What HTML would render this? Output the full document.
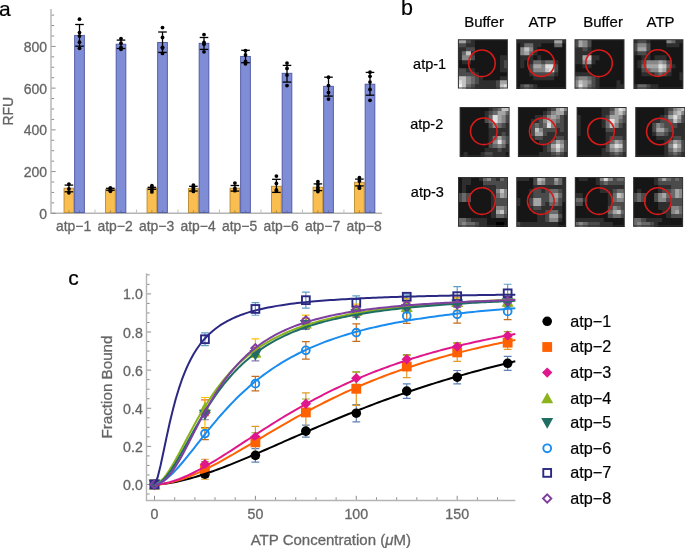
<!DOCTYPE html><html><head><meta charset="utf-8"><style>html,body{margin:0;padding:0;background:#fff;}svg{display:block;will-change:transform;}text{font-family:"Liberation Sans",sans-serif;}.g{fill:#666;stroke:#666;stroke-width:0.3px;}.k{fill:#000;stroke:#000;stroke-width:0.2px;}</style></head><body>
<svg width="685" height="548" viewBox="0 0 685 548">
<rect width="685" height="548" fill="#fff"/>
<text x="-1" y="16.3" font-size="21" class="k">a</text>
<line x1="51" y1="9" x2="51" y2="213.3" stroke="#b4b4b4" stroke-width="1.4"/>
<line x1="50.3" y1="213.3" x2="382" y2="213.3" stroke="#b4b4b4" stroke-width="1.4"/>
<line x1="51.6" y1="213.3" x2="55.6" y2="213.3" stroke="#8c8c8c" stroke-width="1"/>
<text x="47" y="218.7" font-size="14" class="g" text-anchor="end">0</text>
<line x1="51.6" y1="202.87" x2="54.1" y2="202.87" stroke="#8c8c8c" stroke-width="1"/>
<line x1="51.6" y1="192.44" x2="54.1" y2="192.44" stroke="#8c8c8c" stroke-width="1"/>
<line x1="51.6" y1="182.01" x2="54.1" y2="182.01" stroke="#8c8c8c" stroke-width="1"/>
<line x1="51.6" y1="171.58" x2="55.6" y2="171.58" stroke="#8c8c8c" stroke-width="1"/>
<text x="47" y="176.98" font-size="14" class="g" text-anchor="end">200</text>
<line x1="51.6" y1="161.15" x2="54.1" y2="161.15" stroke="#8c8c8c" stroke-width="1"/>
<line x1="51.6" y1="150.72" x2="54.1" y2="150.72" stroke="#8c8c8c" stroke-width="1"/>
<line x1="51.6" y1="140.29" x2="54.1" y2="140.29" stroke="#8c8c8c" stroke-width="1"/>
<line x1="51.6" y1="129.86" x2="55.6" y2="129.86" stroke="#8c8c8c" stroke-width="1"/>
<text x="47" y="135.26" font-size="14" class="g" text-anchor="end">400</text>
<line x1="51.6" y1="119.43" x2="54.1" y2="119.43" stroke="#8c8c8c" stroke-width="1"/>
<line x1="51.6" y1="109" x2="54.1" y2="109" stroke="#8c8c8c" stroke-width="1"/>
<line x1="51.6" y1="98.57" x2="54.1" y2="98.57" stroke="#8c8c8c" stroke-width="1"/>
<line x1="51.6" y1="88.14" x2="55.6" y2="88.14" stroke="#8c8c8c" stroke-width="1"/>
<text x="47" y="93.54" font-size="14" class="g" text-anchor="end">600</text>
<line x1="51.6" y1="77.71" x2="54.1" y2="77.71" stroke="#8c8c8c" stroke-width="1"/>
<line x1="51.6" y1="67.28" x2="54.1" y2="67.28" stroke="#8c8c8c" stroke-width="1"/>
<line x1="51.6" y1="56.85" x2="54.1" y2="56.85" stroke="#8c8c8c" stroke-width="1"/>
<line x1="51.6" y1="46.42" x2="55.6" y2="46.42" stroke="#8c8c8c" stroke-width="1"/>
<text x="47" y="51.82" font-size="14" class="g" text-anchor="end">800</text>
<line x1="51.6" y1="35.99" x2="54.1" y2="35.99" stroke="#8c8c8c" stroke-width="1"/>
<line x1="51.6" y1="25.56" x2="54.1" y2="25.56" stroke="#8c8c8c" stroke-width="1"/>
<line x1="51.6" y1="15.13" x2="54.1" y2="15.13" stroke="#8c8c8c" stroke-width="1"/>
<text transform="translate(12.6,111.2) rotate(-90)" font-size="14" class="g" text-anchor="middle">RFU</text>
<line x1="94.95" y1="212.60000000000002" x2="94.95" y2="209.60000000000002" stroke="#bdbdbd" stroke-width="1"/>
<line x1="136.45" y1="212.60000000000002" x2="136.45" y2="209.60000000000002" stroke="#bdbdbd" stroke-width="1"/>
<line x1="177.95" y1="212.60000000000002" x2="177.95" y2="209.60000000000002" stroke="#bdbdbd" stroke-width="1"/>
<line x1="219.45" y1="212.60000000000002" x2="219.45" y2="209.60000000000002" stroke="#bdbdbd" stroke-width="1"/>
<line x1="260.95" y1="212.60000000000002" x2="260.95" y2="209.60000000000002" stroke="#bdbdbd" stroke-width="1"/>
<line x1="302.45" y1="212.60000000000002" x2="302.45" y2="209.60000000000002" stroke="#bdbdbd" stroke-width="1"/>
<line x1="343.95" y1="212.60000000000002" x2="343.95" y2="209.60000000000002" stroke="#bdbdbd" stroke-width="1"/>
<rect x="64.05" y="188.2" width="9.7" height="24.4" fill="#FABD50" stroke="#B88A30" stroke-width="0.9"/>
<rect x="74.65" y="35.4" width="9.7" height="177.2" fill="#7F8CD6" stroke="#4A55A0" stroke-width="0.9"/>
<line x1="68.9" y1="185.1" x2="68.9" y2="191.8" stroke="#000" stroke-width="1.3"/>
<line x1="64.6" y1="185.1" x2="73.2" y2="185.1" stroke="#000" stroke-width="1.3"/>
<line x1="64.6" y1="191.8" x2="73.2" y2="191.8" stroke="#000" stroke-width="1.3"/>
<circle cx="68.9" cy="184.1" r="1.9" fill="#000"/>
<circle cx="68.9" cy="188.9" r="1.9" fill="#000"/>
<circle cx="68.9" cy="192.8" r="1.9" fill="#000"/>
<line x1="79.5" y1="24.5" x2="79.5" y2="46.2" stroke="#000" stroke-width="1.3"/>
<line x1="75.2" y1="24.5" x2="83.8" y2="24.5" stroke="#000" stroke-width="1.3"/>
<line x1="75.2" y1="46.2" x2="83.8" y2="46.2" stroke="#000" stroke-width="1.3"/>
<circle cx="79.5" cy="19.2" r="1.9" fill="#000"/>
<circle cx="79.5" cy="32.6" r="1.9" fill="#000"/>
<circle cx="79.5" cy="36.1" r="1.9" fill="#000"/>
<circle cx="79.5" cy="42.2" r="1.9" fill="#000"/>
<circle cx="79.5" cy="48.3" r="1.9" fill="#000"/>
<line x1="68.9" y1="212.60000000000002" x2="68.9" y2="210.3" stroke="#555" stroke-opacity="0.45" stroke-width="1"/>
<line x1="79.5" y1="212.60000000000002" x2="79.5" y2="210.3" stroke="#555" stroke-opacity="0.45" stroke-width="1"/>
<text x="73.6" y="231.4" font-size="13.9" class="g" text-anchor="middle">atp−1</text>
<rect x="105.55" y="189.1" width="9.7" height="23.5" fill="#FABD50" stroke="#B88A30" stroke-width="0.9"/>
<rect x="116.15" y="44.2" width="9.7" height="168.4" fill="#7F8CD6" stroke="#4A55A0" stroke-width="0.9"/>
<line x1="110.4" y1="188.3" x2="110.4" y2="190.3" stroke="#000" stroke-width="1.3"/>
<line x1="106.1" y1="188.3" x2="114.7" y2="188.3" stroke="#000" stroke-width="1.3"/>
<line x1="106.1" y1="190.3" x2="114.7" y2="190.3" stroke="#000" stroke-width="1.3"/>
<circle cx="110.4" cy="187.8" r="1.9" fill="#000"/>
<circle cx="110.4" cy="189" r="1.9" fill="#000"/>
<circle cx="110.4" cy="190" r="1.9" fill="#000"/>
<circle cx="110.4" cy="191.3" r="1.9" fill="#000"/>
<line x1="121" y1="40.1" x2="121" y2="48.5" stroke="#000" stroke-width="1.3"/>
<line x1="116.7" y1="40.1" x2="125.3" y2="40.1" stroke="#000" stroke-width="1.3"/>
<line x1="116.7" y1="48.5" x2="125.3" y2="48.5" stroke="#000" stroke-width="1.3"/>
<circle cx="121" cy="38.6" r="1.9" fill="#000"/>
<circle cx="121" cy="43.2" r="1.9" fill="#000"/>
<circle cx="121" cy="47.3" r="1.9" fill="#000"/>
<circle cx="121" cy="49.3" r="1.9" fill="#000"/>
<line x1="110.4" y1="212.60000000000002" x2="110.4" y2="210.3" stroke="#555" stroke-opacity="0.45" stroke-width="1"/>
<line x1="121" y1="212.60000000000002" x2="121" y2="210.3" stroke="#555" stroke-opacity="0.45" stroke-width="1"/>
<text x="115.1" y="231.4" font-size="13.9" class="g" text-anchor="middle">atp−2</text>
<rect x="147.05" y="188.3" width="9.7" height="24.3" fill="#FABD50" stroke="#B88A30" stroke-width="0.9"/>
<rect x="157.65" y="42.5" width="9.7" height="170.1" fill="#7F8CD6" stroke="#4A55A0" stroke-width="0.9"/>
<line x1="151.9" y1="187.3" x2="151.9" y2="189.3" stroke="#000" stroke-width="1.3"/>
<line x1="147.6" y1="187.3" x2="156.2" y2="187.3" stroke="#000" stroke-width="1.3"/>
<line x1="147.6" y1="189.3" x2="156.2" y2="189.3" stroke="#000" stroke-width="1.3"/>
<circle cx="151.9" cy="185.7" r="1.9" fill="#000"/>
<circle cx="151.9" cy="187.5" r="1.9" fill="#000"/>
<circle cx="151.9" cy="189.5" r="1.9" fill="#000"/>
<circle cx="151.9" cy="191.9" r="1.9" fill="#000"/>
<line x1="162.5" y1="32" x2="162.5" y2="52.4" stroke="#000" stroke-width="1.3"/>
<line x1="158.2" y1="32" x2="166.8" y2="32" stroke="#000" stroke-width="1.3"/>
<line x1="158.2" y1="52.4" x2="166.8" y2="52.4" stroke="#000" stroke-width="1.3"/>
<circle cx="162.5" cy="27.6" r="1.9" fill="#000"/>
<circle cx="162.5" cy="37.4" r="1.9" fill="#000"/>
<circle cx="162.5" cy="47.3" r="1.9" fill="#000"/>
<circle cx="162.5" cy="48" r="1.9" fill="#000"/>
<circle cx="162.5" cy="53.4" r="1.9" fill="#000"/>
<line x1="151.9" y1="212.60000000000002" x2="151.9" y2="210.3" stroke="#555" stroke-opacity="0.45" stroke-width="1"/>
<line x1="162.5" y1="212.60000000000002" x2="162.5" y2="210.3" stroke="#555" stroke-opacity="0.45" stroke-width="1"/>
<text x="156.6" y="231.4" font-size="13.9" class="g" text-anchor="middle">atp−3</text>
<rect x="188.55" y="188.5" width="9.7" height="24.1" fill="#FABD50" stroke="#B88A30" stroke-width="0.9"/>
<rect x="199.15" y="43.3" width="9.7" height="169.3" fill="#7F8CD6" stroke="#4A55A0" stroke-width="0.9"/>
<line x1="193.4" y1="186.3" x2="193.4" y2="191" stroke="#000" stroke-width="1.3"/>
<line x1="189.1" y1="186.3" x2="197.7" y2="186.3" stroke="#000" stroke-width="1.3"/>
<line x1="189.1" y1="191" x2="197.7" y2="191" stroke="#000" stroke-width="1.3"/>
<circle cx="193.4" cy="185.1" r="1.9" fill="#000"/>
<circle cx="193.4" cy="187.5" r="1.9" fill="#000"/>
<circle cx="193.4" cy="189.5" r="1.9" fill="#000"/>
<circle cx="193.4" cy="191.4" r="1.9" fill="#000"/>
<line x1="204" y1="37.5" x2="204" y2="49.4" stroke="#000" stroke-width="1.3"/>
<line x1="199.7" y1="37.5" x2="208.3" y2="37.5" stroke="#000" stroke-width="1.3"/>
<line x1="199.7" y1="49.4" x2="208.3" y2="49.4" stroke="#000" stroke-width="1.3"/>
<circle cx="204" cy="34.6" r="1.9" fill="#000"/>
<circle cx="204" cy="42.5" r="1.9" fill="#000"/>
<circle cx="204" cy="44.3" r="1.9" fill="#000"/>
<circle cx="204" cy="51.8" r="1.9" fill="#000"/>
<line x1="193.4" y1="212.60000000000002" x2="193.4" y2="210.3" stroke="#555" stroke-opacity="0.45" stroke-width="1"/>
<line x1="204" y1="212.60000000000002" x2="204" y2="210.3" stroke="#555" stroke-opacity="0.45" stroke-width="1"/>
<text x="198.1" y="231.4" font-size="13.9" class="g" text-anchor="middle">atp−4</text>
<rect x="230.05" y="188.2" width="9.7" height="24.4" fill="#FABD50" stroke="#B88A30" stroke-width="0.9"/>
<rect x="240.65" y="56.4" width="9.7" height="156.2" fill="#7F8CD6" stroke="#4A55A0" stroke-width="0.9"/>
<line x1="234.9" y1="185.5" x2="234.9" y2="191.1" stroke="#000" stroke-width="1.3"/>
<line x1="230.6" y1="185.5" x2="239.2" y2="185.5" stroke="#000" stroke-width="1.3"/>
<line x1="230.6" y1="191.1" x2="239.2" y2="191.1" stroke="#000" stroke-width="1.3"/>
<circle cx="234.9" cy="183.1" r="1.9" fill="#000"/>
<circle cx="234.9" cy="188.5" r="1.9" fill="#000"/>
<circle cx="234.9" cy="190.7" r="1.9" fill="#000"/>
<line x1="245.5" y1="50.3" x2="245.5" y2="62.7" stroke="#000" stroke-width="1.3"/>
<line x1="241.2" y1="50.3" x2="249.8" y2="50.3" stroke="#000" stroke-width="1.3"/>
<line x1="241.2" y1="62.7" x2="249.8" y2="62.7" stroke="#000" stroke-width="1.3"/>
<circle cx="245.5" cy="50.7" r="1.9" fill="#000"/>
<circle cx="245.5" cy="55" r="1.9" fill="#000"/>
<circle cx="245.5" cy="61.4" r="1.9" fill="#000"/>
<circle cx="245.5" cy="63.8" r="1.9" fill="#000"/>
<line x1="234.9" y1="212.60000000000002" x2="234.9" y2="210.3" stroke="#555" stroke-opacity="0.45" stroke-width="1"/>
<line x1="245.5" y1="212.60000000000002" x2="245.5" y2="210.3" stroke="#555" stroke-opacity="0.45" stroke-width="1"/>
<text x="239.6" y="231.4" font-size="13.9" class="g" text-anchor="middle">atp−5</text>
<rect x="271.55" y="186.3" width="9.7" height="26.3" fill="#FABD50" stroke="#B88A30" stroke-width="0.9"/>
<rect x="282.15" y="73.3" width="9.7" height="139.3" fill="#7F8CD6" stroke="#4A55A0" stroke-width="0.9"/>
<line x1="276.4" y1="179.3" x2="276.4" y2="192.4" stroke="#000" stroke-width="1.3"/>
<line x1="272.1" y1="179.3" x2="280.7" y2="179.3" stroke="#000" stroke-width="1.3"/>
<line x1="272.1" y1="192.4" x2="280.7" y2="192.4" stroke="#000" stroke-width="1.3"/>
<circle cx="276.4" cy="176.1" r="1.9" fill="#000"/>
<circle cx="276.4" cy="183.4" r="1.9" fill="#000"/>
<circle cx="276.4" cy="189.9" r="1.9" fill="#000"/>
<circle cx="276.4" cy="191" r="1.9" fill="#000"/>
<line x1="287" y1="65.4" x2="287" y2="82.1" stroke="#000" stroke-width="1.3"/>
<line x1="282.7" y1="65.4" x2="291.3" y2="65.4" stroke="#000" stroke-width="1.3"/>
<line x1="282.7" y1="82.1" x2="291.3" y2="82.1" stroke="#000" stroke-width="1.3"/>
<circle cx="287" cy="63.1" r="1.9" fill="#000"/>
<circle cx="287" cy="68.4" r="1.9" fill="#000"/>
<circle cx="287" cy="75.1" r="1.9" fill="#000"/>
<circle cx="287" cy="85.6" r="1.9" fill="#000"/>
<line x1="276.4" y1="212.60000000000002" x2="276.4" y2="210.3" stroke="#555" stroke-opacity="0.45" stroke-width="1"/>
<line x1="287" y1="212.60000000000002" x2="287" y2="210.3" stroke="#555" stroke-opacity="0.45" stroke-width="1"/>
<text x="281.1" y="231.4" font-size="13.9" class="g" text-anchor="middle">atp−6</text>
<rect x="313.05" y="187.2" width="9.7" height="25.4" fill="#FABD50" stroke="#B88A30" stroke-width="0.9"/>
<rect x="323.65" y="86.3" width="9.7" height="126.3" fill="#7F8CD6" stroke="#4A55A0" stroke-width="0.9"/>
<line x1="317.9" y1="183.9" x2="317.9" y2="190.6" stroke="#000" stroke-width="1.3"/>
<line x1="313.6" y1="183.9" x2="322.2" y2="183.9" stroke="#000" stroke-width="1.3"/>
<line x1="313.6" y1="190.6" x2="322.2" y2="190.6" stroke="#000" stroke-width="1.3"/>
<circle cx="317.9" cy="181.7" r="1.9" fill="#000"/>
<circle cx="317.9" cy="184.5" r="1.9" fill="#000"/>
<circle cx="317.9" cy="187.5" r="1.9" fill="#000"/>
<circle cx="317.9" cy="189.5" r="1.9" fill="#000"/>
<circle cx="317.9" cy="191.5" r="1.9" fill="#000"/>
<line x1="328.5" y1="77.2" x2="328.5" y2="96.1" stroke="#000" stroke-width="1.3"/>
<line x1="324.2" y1="77.2" x2="332.8" y2="77.2" stroke="#000" stroke-width="1.3"/>
<line x1="324.2" y1="96.1" x2="332.8" y2="96.1" stroke="#000" stroke-width="1.3"/>
<circle cx="328.5" cy="77.2" r="1.9" fill="#000"/>
<circle cx="328.5" cy="85.6" r="1.9" fill="#000"/>
<circle cx="328.5" cy="92.6" r="1.9" fill="#000"/>
<circle cx="328.5" cy="99.1" r="1.9" fill="#000"/>
<line x1="317.9" y1="212.60000000000002" x2="317.9" y2="210.3" stroke="#555" stroke-opacity="0.45" stroke-width="1"/>
<line x1="328.5" y1="212.60000000000002" x2="328.5" y2="210.3" stroke="#555" stroke-opacity="0.45" stroke-width="1"/>
<text x="322.6" y="231.4" font-size="13.9" class="g" text-anchor="middle">atp−7</text>
<rect x="354.55" y="182.3" width="9.7" height="30.3" fill="#FABD50" stroke="#B88A30" stroke-width="0.9"/>
<rect x="365.15" y="84.2" width="9.7" height="128.4" fill="#7F8CD6" stroke="#4A55A0" stroke-width="0.9"/>
<line x1="359.4" y1="179.1" x2="359.4" y2="185.9" stroke="#000" stroke-width="1.3"/>
<line x1="355.1" y1="179.1" x2="363.7" y2="179.1" stroke="#000" stroke-width="1.3"/>
<line x1="355.1" y1="185.9" x2="363.7" y2="185.9" stroke="#000" stroke-width="1.3"/>
<circle cx="359.4" cy="177.7" r="1.9" fill="#000"/>
<circle cx="359.4" cy="181" r="1.9" fill="#000"/>
<circle cx="359.4" cy="186.9" r="1.9" fill="#000"/>
<circle cx="359.4" cy="188.2" r="1.9" fill="#000"/>
<line x1="370" y1="72.4" x2="370" y2="95.2" stroke="#000" stroke-width="1.3"/>
<line x1="365.7" y1="72.4" x2="374.3" y2="72.4" stroke="#000" stroke-width="1.3"/>
<line x1="365.7" y1="95.2" x2="374.3" y2="95.2" stroke="#000" stroke-width="1.3"/>
<circle cx="370" cy="72.2" r="1.9" fill="#000"/>
<circle cx="370" cy="76.3" r="1.9" fill="#000"/>
<circle cx="370" cy="82.1" r="1.9" fill="#000"/>
<circle cx="370" cy="89.4" r="1.9" fill="#000"/>
<circle cx="370" cy="100.3" r="1.9" fill="#000"/>
<line x1="359.4" y1="212.60000000000002" x2="359.4" y2="210.3" stroke="#555" stroke-opacity="0.45" stroke-width="1"/>
<line x1="370" y1="212.60000000000002" x2="370" y2="210.3" stroke="#555" stroke-opacity="0.45" stroke-width="1"/>
<text x="364.1" y="231.4" font-size="13.9" class="g" text-anchor="middle">atp−8</text>
<text x="401" y="15.2" font-size="21.5" class="k">b</text>
<text x="484" y="26.6" font-size="15" class="k" text-anchor="middle">Buffer</text>
<text x="542.5" y="26.6" font-size="15" class="k" text-anchor="middle">ATP</text>
<text x="603" y="26.6" font-size="15" class="k" text-anchor="middle">Buffer</text>
<text x="660.6" y="26.6" font-size="15" class="k" text-anchor="middle">ATP</text>
<text x="429.6" y="69.3" font-size="14.5" class="k" text-anchor="middle">atp-1</text>
<text x="426.7" y="129.1" font-size="14.5" class="k" text-anchor="middle">atp-2</text>
<text x="427.4" y="197" font-size="14.5" class="k" text-anchor="middle">atp-3</text>
<defs><filter id="bl" x="0" y="0" width="1" height="1"><feGaussianBlur stdDeviation="0.6"/></filter></defs>
<svg x="457.9" y="39.2" width="50" height="49.4" viewBox="0 0 50 49.4" overflow="hidden">
<g filter="url(#bl)" shape-rendering="crispEdges"><rect width="50" height="49.4" fill="#111"/>
<rect x="0" y="0" width="4.67" height="4.62" fill="rgb(165,165,165)"/>
<rect x="4.17" y="0" width="4.67" height="4.62" fill="rgb(165,165,165)"/>
<rect x="8.33" y="0" width="4.67" height="4.62" fill="rgb(75,75,75)"/>
<rect x="12.5" y="0" width="4.67" height="4.62" fill="rgb(47,47,47)"/>
<rect x="16.67" y="0" width="4.67" height="4.62" fill="rgb(20,20,20)"/>
<rect x="20.83" y="0" width="4.67" height="4.62" fill="rgb(20,20,20)"/>
<rect x="25" y="0" width="4.67" height="4.62" fill="rgb(20,20,20)"/>
<rect x="29.17" y="0" width="4.67" height="4.62" fill="rgb(20,20,20)"/>
<rect x="33.33" y="0" width="4.67" height="4.62" fill="rgb(20,20,20)"/>
<rect x="37.5" y="0" width="4.67" height="4.62" fill="rgb(20,20,20)"/>
<rect x="41.67" y="0" width="4.67" height="4.62" fill="rgb(20,20,20)"/>
<rect x="45.83" y="0" width="4.67" height="4.62" fill="rgb(20,20,20)"/>
<rect x="0" y="4.12" width="4.67" height="4.62" fill="rgb(75,75,75)"/>
<rect x="4.17" y="4.12" width="4.67" height="4.62" fill="rgb(75,75,75)"/>
<rect x="8.33" y="4.12" width="4.67" height="4.62" fill="rgb(47,47,47)"/>
<rect x="12.5" y="4.12" width="4.67" height="4.62" fill="rgb(47,47,47)"/>
<rect x="16.67" y="4.12" width="4.67" height="4.62" fill="rgb(20,20,20)"/>
<rect x="20.83" y="4.12" width="4.67" height="4.62" fill="rgb(20,20,20)"/>
<rect x="25" y="4.12" width="4.67" height="4.62" fill="rgb(20,20,20)"/>
<rect x="29.17" y="4.12" width="4.67" height="4.62" fill="rgb(20,20,20)"/>
<rect x="33.33" y="4.12" width="4.67" height="4.62" fill="rgb(20,20,20)"/>
<rect x="37.5" y="4.12" width="4.67" height="4.62" fill="rgb(20,20,20)"/>
<rect x="41.67" y="4.12" width="4.67" height="4.62" fill="rgb(20,20,20)"/>
<rect x="45.83" y="4.12" width="4.67" height="4.62" fill="rgb(20,20,20)"/>
<rect x="0" y="8.23" width="4.67" height="4.62" fill="rgb(47,47,47)"/>
<rect x="4.17" y="8.23" width="4.67" height="4.62" fill="rgb(47,47,47)"/>
<rect x="8.33" y="8.23" width="4.67" height="4.62" fill="rgb(75,75,75)"/>
<rect x="12.5" y="8.23" width="4.67" height="4.62" fill="rgb(75,75,75)"/>
<rect x="16.67" y="8.23" width="4.67" height="4.62" fill="rgb(20,20,20)"/>
<rect x="20.83" y="8.23" width="4.67" height="4.62" fill="rgb(20,20,20)"/>
<rect x="25" y="8.23" width="4.67" height="4.62" fill="rgb(20,20,20)"/>
<rect x="29.17" y="8.23" width="4.67" height="4.62" fill="rgb(20,20,20)"/>
<rect x="33.33" y="8.23" width="4.67" height="4.62" fill="rgb(20,20,20)"/>
<rect x="37.5" y="8.23" width="4.67" height="4.62" fill="rgb(20,20,20)"/>
<rect x="41.67" y="8.23" width="4.67" height="4.62" fill="rgb(20,20,20)"/>
<rect x="45.83" y="8.23" width="4.67" height="4.62" fill="rgb(20,20,20)"/>
<rect x="0" y="12.35" width="4.67" height="4.62" fill="rgb(47,47,47)"/>
<rect x="4.17" y="12.35" width="4.67" height="4.62" fill="rgb(105,105,105)"/>
<rect x="8.33" y="12.35" width="4.67" height="4.62" fill="rgb(195,195,195)"/>
<rect x="12.5" y="12.35" width="4.67" height="4.62" fill="rgb(47,47,47)"/>
<rect x="16.67" y="12.35" width="4.67" height="4.62" fill="rgb(20,20,20)"/>
<rect x="20.83" y="12.35" width="4.67" height="4.62" fill="rgb(20,20,20)"/>
<rect x="25" y="12.35" width="4.67" height="4.62" fill="rgb(20,20,20)"/>
<rect x="29.17" y="12.35" width="4.67" height="4.62" fill="rgb(20,20,20)"/>
<rect x="33.33" y="12.35" width="4.67" height="4.62" fill="rgb(20,20,20)"/>
<rect x="37.5" y="12.35" width="4.67" height="4.62" fill="rgb(20,20,20)"/>
<rect x="41.67" y="12.35" width="4.67" height="4.62" fill="rgb(20,20,20)"/>
<rect x="45.83" y="12.35" width="4.67" height="4.62" fill="rgb(20,20,20)"/>
<rect x="0" y="16.47" width="4.67" height="4.62" fill="rgb(47,47,47)"/>
<rect x="4.17" y="16.47" width="4.67" height="4.62" fill="rgb(135,135,135)"/>
<rect x="8.33" y="16.47" width="4.67" height="4.62" fill="rgb(135,135,135)"/>
<rect x="12.5" y="16.47" width="4.67" height="4.62" fill="rgb(75,75,75)"/>
<rect x="16.67" y="16.47" width="4.67" height="4.62" fill="rgb(20,20,20)"/>
<rect x="20.83" y="16.47" width="4.67" height="4.62" fill="rgb(20,20,20)"/>
<rect x="25" y="16.47" width="4.67" height="4.62" fill="rgb(20,20,20)"/>
<rect x="29.17" y="16.47" width="4.67" height="4.62" fill="rgb(20,20,20)"/>
<rect x="33.33" y="16.47" width="4.67" height="4.62" fill="rgb(20,20,20)"/>
<rect x="37.5" y="16.47" width="4.67" height="4.62" fill="rgb(20,20,20)"/>
<rect x="41.67" y="16.47" width="4.67" height="4.62" fill="rgb(47,47,47)"/>
<rect x="45.83" y="16.47" width="4.67" height="4.62" fill="rgb(47,47,47)"/>
<rect x="0" y="20.58" width="4.67" height="4.62" fill="rgb(20,20,20)"/>
<rect x="4.17" y="20.58" width="4.67" height="4.62" fill="rgb(47,47,47)"/>
<rect x="8.33" y="20.58" width="4.67" height="4.62" fill="rgb(47,47,47)"/>
<rect x="12.5" y="20.58" width="4.67" height="4.62" fill="rgb(20,20,20)"/>
<rect x="16.67" y="20.58" width="4.67" height="4.62" fill="rgb(20,20,20)"/>
<rect x="20.83" y="20.58" width="4.67" height="4.62" fill="rgb(20,20,20)"/>
<rect x="25" y="20.58" width="4.67" height="4.62" fill="rgb(20,20,20)"/>
<rect x="29.17" y="20.58" width="4.67" height="4.62" fill="rgb(20,20,20)"/>
<rect x="33.33" y="20.58" width="4.67" height="4.62" fill="rgb(20,20,20)"/>
<rect x="37.5" y="20.58" width="4.67" height="4.62" fill="rgb(20,20,20)"/>
<rect x="41.67" y="20.58" width="4.67" height="4.62" fill="rgb(47,47,47)"/>
<rect x="45.83" y="20.58" width="4.67" height="4.62" fill="rgb(75,75,75)"/>
<rect x="0" y="24.7" width="4.67" height="4.62" fill="rgb(20,20,20)"/>
<rect x="4.17" y="24.7" width="4.67" height="4.62" fill="rgb(20,20,20)"/>
<rect x="8.33" y="24.7" width="4.67" height="4.62" fill="rgb(20,20,20)"/>
<rect x="12.5" y="24.7" width="4.67" height="4.62" fill="rgb(20,20,20)"/>
<rect x="16.67" y="24.7" width="4.67" height="4.62" fill="rgb(20,20,20)"/>
<rect x="20.83" y="24.7" width="4.67" height="4.62" fill="rgb(20,20,20)"/>
<rect x="25" y="24.7" width="4.67" height="4.62" fill="rgb(20,20,20)"/>
<rect x="29.17" y="24.7" width="4.67" height="4.62" fill="rgb(20,20,20)"/>
<rect x="33.33" y="24.7" width="4.67" height="4.62" fill="rgb(20,20,20)"/>
<rect x="37.5" y="24.7" width="4.67" height="4.62" fill="rgb(20,20,20)"/>
<rect x="41.67" y="24.7" width="4.67" height="4.62" fill="rgb(47,47,47)"/>
<rect x="45.83" y="24.7" width="4.67" height="4.62" fill="rgb(75,75,75)"/>
<rect x="0" y="28.82" width="4.67" height="4.62" fill="rgb(75,75,75)"/>
<rect x="4.17" y="28.82" width="4.67" height="4.62" fill="rgb(75,75,75)"/>
<rect x="8.33" y="28.82" width="4.67" height="4.62" fill="rgb(47,47,47)"/>
<rect x="12.5" y="28.82" width="4.67" height="4.62" fill="rgb(47,47,47)"/>
<rect x="16.67" y="28.82" width="4.67" height="4.62" fill="rgb(20,20,20)"/>
<rect x="20.83" y="28.82" width="4.67" height="4.62" fill="rgb(20,20,20)"/>
<rect x="25" y="28.82" width="4.67" height="4.62" fill="rgb(20,20,20)"/>
<rect x="29.17" y="28.82" width="4.67" height="4.62" fill="rgb(20,20,20)"/>
<rect x="33.33" y="28.82" width="4.67" height="4.62" fill="rgb(20,20,20)"/>
<rect x="37.5" y="28.82" width="4.67" height="4.62" fill="rgb(20,20,20)"/>
<rect x="41.67" y="28.82" width="4.67" height="4.62" fill="rgb(47,47,47)"/>
<rect x="45.83" y="28.82" width="4.67" height="4.62" fill="rgb(47,47,47)"/>
<rect x="0" y="32.93" width="4.67" height="4.62" fill="rgb(75,75,75)"/>
<rect x="4.17" y="32.93" width="4.67" height="4.62" fill="rgb(75,75,75)"/>
<rect x="8.33" y="32.93" width="4.67" height="4.62" fill="rgb(75,75,75)"/>
<rect x="12.5" y="32.93" width="4.67" height="4.62" fill="rgb(75,75,75)"/>
<rect x="16.67" y="32.93" width="4.67" height="4.62" fill="rgb(47,47,47)"/>
<rect x="20.83" y="32.93" width="4.67" height="4.62" fill="rgb(20,20,20)"/>
<rect x="25" y="32.93" width="4.67" height="4.62" fill="rgb(20,20,20)"/>
<rect x="29.17" y="32.93" width="4.67" height="4.62" fill="rgb(20,20,20)"/>
<rect x="33.33" y="32.93" width="4.67" height="4.62" fill="rgb(20,20,20)"/>
<rect x="37.5" y="32.93" width="4.67" height="4.62" fill="rgb(20,20,20)"/>
<rect x="41.67" y="32.93" width="4.67" height="4.62" fill="rgb(20,20,20)"/>
<rect x="45.83" y="32.93" width="4.67" height="4.62" fill="rgb(20,20,20)"/>
<rect x="0" y="37.05" width="4.67" height="4.62" fill="rgb(195,195,195)"/>
<rect x="4.17" y="37.05" width="4.67" height="4.62" fill="rgb(195,195,195)"/>
<rect x="8.33" y="37.05" width="4.67" height="4.62" fill="rgb(135,135,135)"/>
<rect x="12.5" y="37.05" width="4.67" height="4.62" fill="rgb(105,105,105)"/>
<rect x="16.67" y="37.05" width="4.67" height="4.62" fill="rgb(75,75,75)"/>
<rect x="20.83" y="37.05" width="4.67" height="4.62" fill="rgb(47,47,47)"/>
<rect x="25" y="37.05" width="4.67" height="4.62" fill="rgb(20,20,20)"/>
<rect x="29.17" y="37.05" width="4.67" height="4.62" fill="rgb(20,20,20)"/>
<rect x="33.33" y="37.05" width="4.67" height="4.62" fill="rgb(20,20,20)"/>
<rect x="37.5" y="37.05" width="4.67" height="4.62" fill="rgb(20,20,20)"/>
<rect x="41.67" y="37.05" width="4.67" height="4.62" fill="rgb(47,47,47)"/>
<rect x="45.83" y="37.05" width="4.67" height="4.62" fill="rgb(47,47,47)"/>
<rect x="0" y="41.17" width="4.67" height="4.62" fill="rgb(222,222,222)"/>
<rect x="4.17" y="41.17" width="4.67" height="4.62" fill="rgb(195,195,195)"/>
<rect x="8.33" y="41.17" width="4.67" height="4.62" fill="rgb(135,135,135)"/>
<rect x="12.5" y="41.17" width="4.67" height="4.62" fill="rgb(105,105,105)"/>
<rect x="16.67" y="41.17" width="4.67" height="4.62" fill="rgb(75,75,75)"/>
<rect x="20.83" y="41.17" width="4.67" height="4.62" fill="rgb(47,47,47)"/>
<rect x="25" y="41.17" width="4.67" height="4.62" fill="rgb(47,47,47)"/>
<rect x="29.17" y="41.17" width="4.67" height="4.62" fill="rgb(47,47,47)"/>
<rect x="33.33" y="41.17" width="4.67" height="4.62" fill="rgb(47,47,47)"/>
<rect x="37.5" y="41.17" width="4.67" height="4.62" fill="rgb(75,75,75)"/>
<rect x="41.67" y="41.17" width="4.67" height="4.62" fill="rgb(165,165,165)"/>
<rect x="45.83" y="41.17" width="4.67" height="4.62" fill="rgb(165,165,165)"/>
<rect x="0" y="45.28" width="4.67" height="4.62" fill="rgb(245,245,245)"/>
<rect x="4.17" y="45.28" width="4.67" height="4.62" fill="rgb(195,195,195)"/>
<rect x="8.33" y="45.28" width="4.67" height="4.62" fill="rgb(105,105,105)"/>
<rect x="12.5" y="45.28" width="4.67" height="4.62" fill="rgb(75,75,75)"/>
<rect x="16.67" y="45.28" width="4.67" height="4.62" fill="rgb(47,47,47)"/>
<rect x="20.83" y="45.28" width="4.67" height="4.62" fill="rgb(47,47,47)"/>
<rect x="25" y="45.28" width="4.67" height="4.62" fill="rgb(47,47,47)"/>
<rect x="29.17" y="45.28" width="4.67" height="4.62" fill="rgb(47,47,47)"/>
<rect x="33.33" y="45.28" width="4.67" height="4.62" fill="rgb(47,47,47)"/>
<rect x="37.5" y="45.28" width="4.67" height="4.62" fill="rgb(75,75,75)"/>
<rect x="41.67" y="45.28" width="4.67" height="4.62" fill="rgb(195,195,195)"/>
<rect x="45.83" y="45.28" width="4.67" height="4.62" fill="rgb(222,222,222)"/>
</g>
<rect x="0.5" y="0.5" width="49" height="48.4" fill="none" stroke="#333" stroke-width="1"/>
</svg>
<circle cx="481.9" cy="63.3" r="13.3" fill="none" stroke="#D81A1A" stroke-width="1.6"/>
<svg x="516.2" y="39.2" width="50" height="49.4" viewBox="0 0 50 49.4" overflow="hidden">
<g filter="url(#bl)" shape-rendering="crispEdges"><rect width="50" height="49.4" fill="#111"/>
<rect x="0" y="0" width="4.67" height="4.62" fill="rgb(47,47,47)"/>
<rect x="4.17" y="0" width="4.67" height="4.62" fill="rgb(47,47,47)"/>
<rect x="8.33" y="0" width="4.67" height="4.62" fill="rgb(47,47,47)"/>
<rect x="12.5" y="0" width="4.67" height="4.62" fill="rgb(47,47,47)"/>
<rect x="16.67" y="0" width="4.67" height="4.62" fill="rgb(47,47,47)"/>
<rect x="20.83" y="0" width="4.67" height="4.62" fill="rgb(47,47,47)"/>
<rect x="25" y="0" width="4.67" height="4.62" fill="rgb(47,47,47)"/>
<rect x="29.17" y="0" width="4.67" height="4.62" fill="rgb(47,47,47)"/>
<rect x="33.33" y="0" width="4.67" height="4.62" fill="rgb(47,47,47)"/>
<rect x="37.5" y="0" width="4.67" height="4.62" fill="rgb(165,165,165)"/>
<rect x="41.67" y="0" width="4.67" height="4.62" fill="rgb(165,165,165)"/>
<rect x="45.83" y="0" width="4.67" height="4.62" fill="rgb(47,47,47)"/>
<rect x="0" y="4.12" width="4.67" height="4.62" fill="rgb(20,20,20)"/>
<rect x="4.17" y="4.12" width="4.67" height="4.62" fill="rgb(47,47,47)"/>
<rect x="8.33" y="4.12" width="4.67" height="4.62" fill="rgb(105,105,105)"/>
<rect x="12.5" y="4.12" width="4.67" height="4.62" fill="rgb(105,105,105)"/>
<rect x="16.67" y="4.12" width="4.67" height="4.62" fill="rgb(47,47,47)"/>
<rect x="20.83" y="4.12" width="4.67" height="4.62" fill="rgb(47,47,47)"/>
<rect x="25" y="4.12" width="4.67" height="4.62" fill="rgb(20,20,20)"/>
<rect x="29.17" y="4.12" width="4.67" height="4.62" fill="rgb(20,20,20)"/>
<rect x="33.33" y="4.12" width="4.67" height="4.62" fill="rgb(20,20,20)"/>
<rect x="37.5" y="4.12" width="4.67" height="4.62" fill="rgb(105,105,105)"/>
<rect x="41.67" y="4.12" width="4.67" height="4.62" fill="rgb(105,105,105)"/>
<rect x="45.83" y="4.12" width="4.67" height="4.62" fill="rgb(20,20,20)"/>
<rect x="0" y="8.23" width="4.67" height="4.62" fill="rgb(20,20,20)"/>
<rect x="4.17" y="8.23" width="4.67" height="4.62" fill="rgb(135,135,135)"/>
<rect x="8.33" y="8.23" width="4.67" height="4.62" fill="rgb(195,195,195)"/>
<rect x="12.5" y="8.23" width="4.67" height="4.62" fill="rgb(135,135,135)"/>
<rect x="16.67" y="8.23" width="4.67" height="4.62" fill="rgb(47,47,47)"/>
<rect x="20.83" y="8.23" width="4.67" height="4.62" fill="rgb(20,20,20)"/>
<rect x="25" y="8.23" width="4.67" height="4.62" fill="rgb(20,20,20)"/>
<rect x="29.17" y="8.23" width="4.67" height="4.62" fill="rgb(20,20,20)"/>
<rect x="33.33" y="8.23" width="4.67" height="4.62" fill="rgb(20,20,20)"/>
<rect x="37.5" y="8.23" width="4.67" height="4.62" fill="rgb(20,20,20)"/>
<rect x="41.67" y="8.23" width="4.67" height="4.62" fill="rgb(20,20,20)"/>
<rect x="45.83" y="8.23" width="4.67" height="4.62" fill="rgb(20,20,20)"/>
<rect x="0" y="12.35" width="4.67" height="4.62" fill="rgb(20,20,20)"/>
<rect x="4.17" y="12.35" width="4.67" height="4.62" fill="rgb(135,135,135)"/>
<rect x="8.33" y="12.35" width="4.67" height="4.62" fill="rgb(165,165,165)"/>
<rect x="12.5" y="12.35" width="4.67" height="4.62" fill="rgb(105,105,105)"/>
<rect x="16.67" y="12.35" width="4.67" height="4.62" fill="rgb(47,47,47)"/>
<rect x="20.83" y="12.35" width="4.67" height="4.62" fill="rgb(20,20,20)"/>
<rect x="25" y="12.35" width="4.67" height="4.62" fill="rgb(20,20,20)"/>
<rect x="29.17" y="12.35" width="4.67" height="4.62" fill="rgb(20,20,20)"/>
<rect x="33.33" y="12.35" width="4.67" height="4.62" fill="rgb(20,20,20)"/>
<rect x="37.5" y="12.35" width="4.67" height="4.62" fill="rgb(20,20,20)"/>
<rect x="41.67" y="12.35" width="4.67" height="4.62" fill="rgb(20,20,20)"/>
<rect x="45.83" y="12.35" width="4.67" height="4.62" fill="rgb(20,20,20)"/>
<rect x="0" y="16.47" width="4.67" height="4.62" fill="rgb(20,20,20)"/>
<rect x="4.17" y="16.47" width="4.67" height="4.62" fill="rgb(47,47,47)"/>
<rect x="8.33" y="16.47" width="4.67" height="4.62" fill="rgb(47,47,47)"/>
<rect x="12.5" y="16.47" width="4.67" height="4.62" fill="rgb(47,47,47)"/>
<rect x="16.67" y="16.47" width="4.67" height="4.62" fill="rgb(20,20,20)"/>
<rect x="20.83" y="16.47" width="4.67" height="4.62" fill="rgb(47,47,47)"/>
<rect x="25" y="16.47" width="4.67" height="4.62" fill="rgb(20,20,20)"/>
<rect x="29.17" y="16.47" width="4.67" height="4.62" fill="rgb(20,20,20)"/>
<rect x="33.33" y="16.47" width="4.67" height="4.62" fill="rgb(20,20,20)"/>
<rect x="37.5" y="16.47" width="4.67" height="4.62" fill="rgb(20,20,20)"/>
<rect x="41.67" y="16.47" width="4.67" height="4.62" fill="rgb(20,20,20)"/>
<rect x="45.83" y="16.47" width="4.67" height="4.62" fill="rgb(20,20,20)"/>
<rect x="0" y="20.58" width="4.67" height="4.62" fill="rgb(20,20,20)"/>
<rect x="4.17" y="20.58" width="4.67" height="4.62" fill="rgb(47,47,47)"/>
<rect x="8.33" y="20.58" width="4.67" height="4.62" fill="rgb(20,20,20)"/>
<rect x="12.5" y="20.58" width="4.67" height="4.62" fill="rgb(47,47,47)"/>
<rect x="16.67" y="20.58" width="4.67" height="4.62" fill="rgb(105,105,105)"/>
<rect x="20.83" y="20.58" width="4.67" height="4.62" fill="rgb(105,105,105)"/>
<rect x="25" y="20.58" width="4.67" height="4.62" fill="rgb(75,75,75)"/>
<rect x="29.17" y="20.58" width="4.67" height="4.62" fill="rgb(105,105,105)"/>
<rect x="33.33" y="20.58" width="4.67" height="4.62" fill="rgb(105,105,105)"/>
<rect x="37.5" y="20.58" width="4.67" height="4.62" fill="rgb(47,47,47)"/>
<rect x="41.67" y="20.58" width="4.67" height="4.62" fill="rgb(20,20,20)"/>
<rect x="45.83" y="20.58" width="4.67" height="4.62" fill="rgb(20,20,20)"/>
<rect x="0" y="24.7" width="4.67" height="4.62" fill="rgb(20,20,20)"/>
<rect x="4.17" y="24.7" width="4.67" height="4.62" fill="rgb(47,47,47)"/>
<rect x="8.33" y="24.7" width="4.67" height="4.62" fill="rgb(20,20,20)"/>
<rect x="12.5" y="24.7" width="4.67" height="4.62" fill="rgb(75,75,75)"/>
<rect x="16.67" y="24.7" width="4.67" height="4.62" fill="rgb(165,165,165)"/>
<rect x="20.83" y="24.7" width="4.67" height="4.62" fill="rgb(165,165,165)"/>
<rect x="25" y="24.7" width="4.67" height="4.62" fill="rgb(135,135,135)"/>
<rect x="29.17" y="24.7" width="4.67" height="4.62" fill="rgb(222,222,222)"/>
<rect x="33.33" y="24.7" width="4.67" height="4.62" fill="rgb(222,222,222)"/>
<rect x="37.5" y="24.7" width="4.67" height="4.62" fill="rgb(75,75,75)"/>
<rect x="41.67" y="24.7" width="4.67" height="4.62" fill="rgb(20,20,20)"/>
<rect x="45.83" y="24.7" width="4.67" height="4.62" fill="rgb(20,20,20)"/>
<rect x="0" y="28.82" width="4.67" height="4.62" fill="rgb(20,20,20)"/>
<rect x="4.17" y="28.82" width="4.67" height="4.62" fill="rgb(20,20,20)"/>
<rect x="8.33" y="28.82" width="4.67" height="4.62" fill="rgb(20,20,20)"/>
<rect x="12.5" y="28.82" width="4.67" height="4.62" fill="rgb(75,75,75)"/>
<rect x="16.67" y="28.82" width="4.67" height="4.62" fill="rgb(135,135,135)"/>
<rect x="20.83" y="28.82" width="4.67" height="4.62" fill="rgb(135,135,135)"/>
<rect x="25" y="28.82" width="4.67" height="4.62" fill="rgb(135,135,135)"/>
<rect x="29.17" y="28.82" width="4.67" height="4.62" fill="rgb(195,195,195)"/>
<rect x="33.33" y="28.82" width="4.67" height="4.62" fill="rgb(222,222,222)"/>
<rect x="37.5" y="28.82" width="4.67" height="4.62" fill="rgb(75,75,75)"/>
<rect x="41.67" y="28.82" width="4.67" height="4.62" fill="rgb(20,20,20)"/>
<rect x="45.83" y="28.82" width="4.67" height="4.62" fill="rgb(20,20,20)"/>
<rect x="0" y="32.93" width="4.67" height="4.62" fill="rgb(20,20,20)"/>
<rect x="4.17" y="32.93" width="4.67" height="4.62" fill="rgb(20,20,20)"/>
<rect x="8.33" y="32.93" width="4.67" height="4.62" fill="rgb(20,20,20)"/>
<rect x="12.5" y="32.93" width="4.67" height="4.62" fill="rgb(47,47,47)"/>
<rect x="16.67" y="32.93" width="4.67" height="4.62" fill="rgb(75,75,75)"/>
<rect x="20.83" y="32.93" width="4.67" height="4.62" fill="rgb(75,75,75)"/>
<rect x="25" y="32.93" width="4.67" height="4.62" fill="rgb(75,75,75)"/>
<rect x="29.17" y="32.93" width="4.67" height="4.62" fill="rgb(75,75,75)"/>
<rect x="33.33" y="32.93" width="4.67" height="4.62" fill="rgb(75,75,75)"/>
<rect x="37.5" y="32.93" width="4.67" height="4.62" fill="rgb(47,47,47)"/>
<rect x="41.67" y="32.93" width="4.67" height="4.62" fill="rgb(20,20,20)"/>
<rect x="45.83" y="32.93" width="4.67" height="4.62" fill="rgb(20,20,20)"/>
<rect x="0" y="37.05" width="4.67" height="4.62" fill="rgb(20,20,20)"/>
<rect x="4.17" y="37.05" width="4.67" height="4.62" fill="rgb(20,20,20)"/>
<rect x="8.33" y="37.05" width="4.67" height="4.62" fill="rgb(20,20,20)"/>
<rect x="12.5" y="37.05" width="4.67" height="4.62" fill="rgb(20,20,20)"/>
<rect x="16.67" y="37.05" width="4.67" height="4.62" fill="rgb(47,47,47)"/>
<rect x="20.83" y="37.05" width="4.67" height="4.62" fill="rgb(47,47,47)"/>
<rect x="25" y="37.05" width="4.67" height="4.62" fill="rgb(47,47,47)"/>
<rect x="29.17" y="37.05" width="4.67" height="4.62" fill="rgb(47,47,47)"/>
<rect x="33.33" y="37.05" width="4.67" height="4.62" fill="rgb(47,47,47)"/>
<rect x="37.5" y="37.05" width="4.67" height="4.62" fill="rgb(20,20,20)"/>
<rect x="41.67" y="37.05" width="4.67" height="4.62" fill="rgb(20,20,20)"/>
<rect x="45.83" y="37.05" width="4.67" height="4.62" fill="rgb(20,20,20)"/>
<rect x="0" y="41.17" width="4.67" height="4.62" fill="rgb(20,20,20)"/>
<rect x="4.17" y="41.17" width="4.67" height="4.62" fill="rgb(20,20,20)"/>
<rect x="8.33" y="41.17" width="4.67" height="4.62" fill="rgb(20,20,20)"/>
<rect x="12.5" y="41.17" width="4.67" height="4.62" fill="rgb(20,20,20)"/>
<rect x="16.67" y="41.17" width="4.67" height="4.62" fill="rgb(20,20,20)"/>
<rect x="20.83" y="41.17" width="4.67" height="4.62" fill="rgb(20,20,20)"/>
<rect x="25" y="41.17" width="4.67" height="4.62" fill="rgb(20,20,20)"/>
<rect x="29.17" y="41.17" width="4.67" height="4.62" fill="rgb(20,20,20)"/>
<rect x="33.33" y="41.17" width="4.67" height="4.62" fill="rgb(20,20,20)"/>
<rect x="37.5" y="41.17" width="4.67" height="4.62" fill="rgb(20,20,20)"/>
<rect x="41.67" y="41.17" width="4.67" height="4.62" fill="rgb(20,20,20)"/>
<rect x="45.83" y="41.17" width="4.67" height="4.62" fill="rgb(20,20,20)"/>
<rect x="0" y="45.28" width="4.67" height="4.62" fill="rgb(20,20,20)"/>
<rect x="4.17" y="45.28" width="4.67" height="4.62" fill="rgb(75,75,75)"/>
<rect x="8.33" y="45.28" width="4.67" height="4.62" fill="rgb(105,105,105)"/>
<rect x="12.5" y="45.28" width="4.67" height="4.62" fill="rgb(75,75,75)"/>
<rect x="16.67" y="45.28" width="4.67" height="4.62" fill="rgb(47,47,47)"/>
<rect x="20.83" y="45.28" width="4.67" height="4.62" fill="rgb(20,20,20)"/>
<rect x="25" y="45.28" width="4.67" height="4.62" fill="rgb(20,20,20)"/>
<rect x="29.17" y="45.28" width="4.67" height="4.62" fill="rgb(20,20,20)"/>
<rect x="33.33" y="45.28" width="4.67" height="4.62" fill="rgb(20,20,20)"/>
<rect x="37.5" y="45.28" width="4.67" height="4.62" fill="rgb(20,20,20)"/>
<rect x="41.67" y="45.28" width="4.67" height="4.62" fill="rgb(20,20,20)"/>
<rect x="45.83" y="45.28" width="4.67" height="4.62" fill="rgb(20,20,20)"/>
</g>
<rect x="0.5" y="0.5" width="49" height="48.4" fill="none" stroke="#333" stroke-width="1"/>
</svg>
<circle cx="541.1" cy="63.2" r="13.3" fill="none" stroke="#D81A1A" stroke-width="1.6"/>
<svg x="574.5" y="39.2" width="50" height="49.4" viewBox="0 0 50 49.4" overflow="hidden">
<g filter="url(#bl)" shape-rendering="crispEdges"><rect width="50" height="49.4" fill="#111"/>
<rect x="0" y="0" width="4.67" height="4.62" fill="rgb(75,75,75)"/>
<rect x="4.17" y="0" width="4.67" height="4.62" fill="rgb(165,165,165)"/>
<rect x="8.33" y="0" width="4.67" height="4.62" fill="rgb(135,135,135)"/>
<rect x="12.5" y="0" width="4.67" height="4.62" fill="rgb(75,75,75)"/>
<rect x="16.67" y="0" width="4.67" height="4.62" fill="rgb(20,20,20)"/>
<rect x="20.83" y="0" width="4.67" height="4.62" fill="rgb(20,20,20)"/>
<rect x="25" y="0" width="4.67" height="4.62" fill="rgb(20,20,20)"/>
<rect x="29.17" y="0" width="4.67" height="4.62" fill="rgb(20,20,20)"/>
<rect x="33.33" y="0" width="4.67" height="4.62" fill="rgb(20,20,20)"/>
<rect x="37.5" y="0" width="4.67" height="4.62" fill="rgb(20,20,20)"/>
<rect x="41.67" y="0" width="4.67" height="4.62" fill="rgb(20,20,20)"/>
<rect x="45.83" y="0" width="4.67" height="4.62" fill="rgb(20,20,20)"/>
<rect x="0" y="4.12" width="4.67" height="4.62" fill="rgb(75,75,75)"/>
<rect x="4.17" y="4.12" width="4.67" height="4.62" fill="rgb(165,165,165)"/>
<rect x="8.33" y="4.12" width="4.67" height="4.62" fill="rgb(135,135,135)"/>
<rect x="12.5" y="4.12" width="4.67" height="4.62" fill="rgb(75,75,75)"/>
<rect x="16.67" y="4.12" width="4.67" height="4.62" fill="rgb(20,20,20)"/>
<rect x="20.83" y="4.12" width="4.67" height="4.62" fill="rgb(20,20,20)"/>
<rect x="25" y="4.12" width="4.67" height="4.62" fill="rgb(20,20,20)"/>
<rect x="29.17" y="4.12" width="4.67" height="4.62" fill="rgb(20,20,20)"/>
<rect x="33.33" y="4.12" width="4.67" height="4.62" fill="rgb(20,20,20)"/>
<rect x="37.5" y="4.12" width="4.67" height="4.62" fill="rgb(20,20,20)"/>
<rect x="41.67" y="4.12" width="4.67" height="4.62" fill="rgb(20,20,20)"/>
<rect x="45.83" y="4.12" width="4.67" height="4.62" fill="rgb(20,20,20)"/>
<rect x="0" y="8.23" width="4.67" height="4.62" fill="rgb(47,47,47)"/>
<rect x="4.17" y="8.23" width="4.67" height="4.62" fill="rgb(47,47,47)"/>
<rect x="8.33" y="8.23" width="4.67" height="4.62" fill="rgb(75,75,75)"/>
<rect x="12.5" y="8.23" width="4.67" height="4.62" fill="rgb(47,47,47)"/>
<rect x="16.67" y="8.23" width="4.67" height="4.62" fill="rgb(20,20,20)"/>
<rect x="20.83" y="8.23" width="4.67" height="4.62" fill="rgb(20,20,20)"/>
<rect x="25" y="8.23" width="4.67" height="4.62" fill="rgb(20,20,20)"/>
<rect x="29.17" y="8.23" width="4.67" height="4.62" fill="rgb(20,20,20)"/>
<rect x="33.33" y="8.23" width="4.67" height="4.62" fill="rgb(20,20,20)"/>
<rect x="37.5" y="8.23" width="4.67" height="4.62" fill="rgb(20,20,20)"/>
<rect x="41.67" y="8.23" width="4.67" height="4.62" fill="rgb(20,20,20)"/>
<rect x="45.83" y="8.23" width="4.67" height="4.62" fill="rgb(20,20,20)"/>
<rect x="0" y="12.35" width="4.67" height="4.62" fill="rgb(47,47,47)"/>
<rect x="4.17" y="12.35" width="4.67" height="4.62" fill="rgb(47,47,47)"/>
<rect x="8.33" y="12.35" width="4.67" height="4.62" fill="rgb(47,47,47)"/>
<rect x="12.5" y="12.35" width="4.67" height="4.62" fill="rgb(47,47,47)"/>
<rect x="16.67" y="12.35" width="4.67" height="4.62" fill="rgb(20,20,20)"/>
<rect x="20.83" y="12.35" width="4.67" height="4.62" fill="rgb(20,20,20)"/>
<rect x="25" y="12.35" width="4.67" height="4.62" fill="rgb(20,20,20)"/>
<rect x="29.17" y="12.35" width="4.67" height="4.62" fill="rgb(20,20,20)"/>
<rect x="33.33" y="12.35" width="4.67" height="4.62" fill="rgb(20,20,20)"/>
<rect x="37.5" y="12.35" width="4.67" height="4.62" fill="rgb(20,20,20)"/>
<rect x="41.67" y="12.35" width="4.67" height="4.62" fill="rgb(20,20,20)"/>
<rect x="45.83" y="12.35" width="4.67" height="4.62" fill="rgb(20,20,20)"/>
<rect x="0" y="16.47" width="4.67" height="4.62" fill="rgb(47,47,47)"/>
<rect x="4.17" y="16.47" width="4.67" height="4.62" fill="rgb(47,47,47)"/>
<rect x="8.33" y="16.47" width="4.67" height="4.62" fill="rgb(165,165,165)"/>
<rect x="12.5" y="16.47" width="4.67" height="4.62" fill="rgb(195,195,195)"/>
<rect x="16.67" y="16.47" width="4.67" height="4.62" fill="rgb(47,47,47)"/>
<rect x="20.83" y="16.47" width="4.67" height="4.62" fill="rgb(47,47,47)"/>
<rect x="25" y="16.47" width="4.67" height="4.62" fill="rgb(20,20,20)"/>
<rect x="29.17" y="16.47" width="4.67" height="4.62" fill="rgb(20,20,20)"/>
<rect x="33.33" y="16.47" width="4.67" height="4.62" fill="rgb(20,20,20)"/>
<rect x="37.5" y="16.47" width="4.67" height="4.62" fill="rgb(20,20,20)"/>
<rect x="41.67" y="16.47" width="4.67" height="4.62" fill="rgb(20,20,20)"/>
<rect x="45.83" y="16.47" width="4.67" height="4.62" fill="rgb(20,20,20)"/>
<rect x="0" y="20.58" width="4.67" height="4.62" fill="rgb(47,47,47)"/>
<rect x="4.17" y="20.58" width="4.67" height="4.62" fill="rgb(47,47,47)"/>
<rect x="8.33" y="20.58" width="4.67" height="4.62" fill="rgb(135,135,135)"/>
<rect x="12.5" y="20.58" width="4.67" height="4.62" fill="rgb(165,165,165)"/>
<rect x="16.67" y="20.58" width="4.67" height="4.62" fill="rgb(47,47,47)"/>
<rect x="20.83" y="20.58" width="4.67" height="4.62" fill="rgb(20,20,20)"/>
<rect x="25" y="20.58" width="4.67" height="4.62" fill="rgb(20,20,20)"/>
<rect x="29.17" y="20.58" width="4.67" height="4.62" fill="rgb(20,20,20)"/>
<rect x="33.33" y="20.58" width="4.67" height="4.62" fill="rgb(20,20,20)"/>
<rect x="37.5" y="20.58" width="4.67" height="4.62" fill="rgb(20,20,20)"/>
<rect x="41.67" y="20.58" width="4.67" height="4.62" fill="rgb(20,20,20)"/>
<rect x="45.83" y="20.58" width="4.67" height="4.62" fill="rgb(20,20,20)"/>
<rect x="0" y="24.7" width="4.67" height="4.62" fill="rgb(20,20,20)"/>
<rect x="4.17" y="24.7" width="4.67" height="4.62" fill="rgb(20,20,20)"/>
<rect x="8.33" y="24.7" width="4.67" height="4.62" fill="rgb(47,47,47)"/>
<rect x="12.5" y="24.7" width="4.67" height="4.62" fill="rgb(47,47,47)"/>
<rect x="16.67" y="24.7" width="4.67" height="4.62" fill="rgb(20,20,20)"/>
<rect x="20.83" y="24.7" width="4.67" height="4.62" fill="rgb(20,20,20)"/>
<rect x="25" y="24.7" width="4.67" height="4.62" fill="rgb(20,20,20)"/>
<rect x="29.17" y="24.7" width="4.67" height="4.62" fill="rgb(20,20,20)"/>
<rect x="33.33" y="24.7" width="4.67" height="4.62" fill="rgb(20,20,20)"/>
<rect x="37.5" y="24.7" width="4.67" height="4.62" fill="rgb(20,20,20)"/>
<rect x="41.67" y="24.7" width="4.67" height="4.62" fill="rgb(20,20,20)"/>
<rect x="45.83" y="24.7" width="4.67" height="4.62" fill="rgb(20,20,20)"/>
<rect x="0" y="28.82" width="4.67" height="4.62" fill="rgb(20,20,20)"/>
<rect x="4.17" y="28.82" width="4.67" height="4.62" fill="rgb(20,20,20)"/>
<rect x="8.33" y="28.82" width="4.67" height="4.62" fill="rgb(20,20,20)"/>
<rect x="12.5" y="28.82" width="4.67" height="4.62" fill="rgb(20,20,20)"/>
<rect x="16.67" y="28.82" width="4.67" height="4.62" fill="rgb(20,20,20)"/>
<rect x="20.83" y="28.82" width="4.67" height="4.62" fill="rgb(20,20,20)"/>
<rect x="25" y="28.82" width="4.67" height="4.62" fill="rgb(20,20,20)"/>
<rect x="29.17" y="28.82" width="4.67" height="4.62" fill="rgb(20,20,20)"/>
<rect x="33.33" y="28.82" width="4.67" height="4.62" fill="rgb(20,20,20)"/>
<rect x="37.5" y="28.82" width="4.67" height="4.62" fill="rgb(20,20,20)"/>
<rect x="41.67" y="28.82" width="4.67" height="4.62" fill="rgb(20,20,20)"/>
<rect x="45.83" y="28.82" width="4.67" height="4.62" fill="rgb(20,20,20)"/>
<rect x="0" y="32.93" width="4.67" height="4.62" fill="rgb(47,47,47)"/>
<rect x="4.17" y="32.93" width="4.67" height="4.62" fill="rgb(47,47,47)"/>
<rect x="8.33" y="32.93" width="4.67" height="4.62" fill="rgb(47,47,47)"/>
<rect x="12.5" y="32.93" width="4.67" height="4.62" fill="rgb(47,47,47)"/>
<rect x="16.67" y="32.93" width="4.67" height="4.62" fill="rgb(20,20,20)"/>
<rect x="20.83" y="32.93" width="4.67" height="4.62" fill="rgb(20,20,20)"/>
<rect x="25" y="32.93" width="4.67" height="4.62" fill="rgb(20,20,20)"/>
<rect x="29.17" y="32.93" width="4.67" height="4.62" fill="rgb(20,20,20)"/>
<rect x="33.33" y="32.93" width="4.67" height="4.62" fill="rgb(20,20,20)"/>
<rect x="37.5" y="32.93" width="4.67" height="4.62" fill="rgb(20,20,20)"/>
<rect x="41.67" y="32.93" width="4.67" height="4.62" fill="rgb(20,20,20)"/>
<rect x="45.83" y="32.93" width="4.67" height="4.62" fill="rgb(20,20,20)"/>
<rect x="0" y="37.05" width="4.67" height="4.62" fill="rgb(105,105,105)"/>
<rect x="4.17" y="37.05" width="4.67" height="4.62" fill="rgb(135,135,135)"/>
<rect x="8.33" y="37.05" width="4.67" height="4.62" fill="rgb(135,135,135)"/>
<rect x="12.5" y="37.05" width="4.67" height="4.62" fill="rgb(105,105,105)"/>
<rect x="16.67" y="37.05" width="4.67" height="4.62" fill="rgb(75,75,75)"/>
<rect x="20.83" y="37.05" width="4.67" height="4.62" fill="rgb(47,47,47)"/>
<rect x="25" y="37.05" width="4.67" height="4.62" fill="rgb(20,20,20)"/>
<rect x="29.17" y="37.05" width="4.67" height="4.62" fill="rgb(20,20,20)"/>
<rect x="33.33" y="37.05" width="4.67" height="4.62" fill="rgb(20,20,20)"/>
<rect x="37.5" y="37.05" width="4.67" height="4.62" fill="rgb(20,20,20)"/>
<rect x="41.67" y="37.05" width="4.67" height="4.62" fill="rgb(20,20,20)"/>
<rect x="45.83" y="37.05" width="4.67" height="4.62" fill="rgb(20,20,20)"/>
<rect x="0" y="41.17" width="4.67" height="4.62" fill="rgb(135,135,135)"/>
<rect x="4.17" y="41.17" width="4.67" height="4.62" fill="rgb(195,195,195)"/>
<rect x="8.33" y="41.17" width="4.67" height="4.62" fill="rgb(165,165,165)"/>
<rect x="12.5" y="41.17" width="4.67" height="4.62" fill="rgb(135,135,135)"/>
<rect x="16.67" y="41.17" width="4.67" height="4.62" fill="rgb(75,75,75)"/>
<rect x="20.83" y="41.17" width="4.67" height="4.62" fill="rgb(47,47,47)"/>
<rect x="25" y="41.17" width="4.67" height="4.62" fill="rgb(20,20,20)"/>
<rect x="29.17" y="41.17" width="4.67" height="4.62" fill="rgb(20,20,20)"/>
<rect x="33.33" y="41.17" width="4.67" height="4.62" fill="rgb(20,20,20)"/>
<rect x="37.5" y="41.17" width="4.67" height="4.62" fill="rgb(20,20,20)"/>
<rect x="41.67" y="41.17" width="4.67" height="4.62" fill="rgb(47,47,47)"/>
<rect x="45.83" y="41.17" width="4.67" height="4.62" fill="rgb(20,20,20)"/>
<rect x="0" y="45.28" width="4.67" height="4.62" fill="rgb(135,135,135)"/>
<rect x="4.17" y="45.28" width="4.67" height="4.62" fill="rgb(222,222,222)"/>
<rect x="8.33" y="45.28" width="4.67" height="4.62" fill="rgb(165,165,165)"/>
<rect x="12.5" y="45.28" width="4.67" height="4.62" fill="rgb(105,105,105)"/>
<rect x="16.67" y="45.28" width="4.67" height="4.62" fill="rgb(75,75,75)"/>
<rect x="20.83" y="45.28" width="4.67" height="4.62" fill="rgb(47,47,47)"/>
<rect x="25" y="45.28" width="4.67" height="4.62" fill="rgb(20,20,20)"/>
<rect x="29.17" y="45.28" width="4.67" height="4.62" fill="rgb(20,20,20)"/>
<rect x="33.33" y="45.28" width="4.67" height="4.62" fill="rgb(20,20,20)"/>
<rect x="37.5" y="45.28" width="4.67" height="4.62" fill="rgb(20,20,20)"/>
<rect x="41.67" y="45.28" width="4.67" height="4.62" fill="rgb(47,47,47)"/>
<rect x="45.83" y="45.28" width="4.67" height="4.62" fill="rgb(47,47,47)"/>
</g>
<rect x="0.5" y="0.5" width="49" height="48.4" fill="none" stroke="#333" stroke-width="1"/>
</svg>
<circle cx="599" cy="63.3" r="13.3" fill="none" stroke="#D81A1A" stroke-width="1.6"/>
<svg x="633.4" y="39.2" width="50" height="49.4" viewBox="0 0 50 49.4" overflow="hidden">
<g filter="url(#bl)" shape-rendering="crispEdges"><rect width="50" height="49.4" fill="#111"/>
<rect x="0" y="0" width="4.67" height="4.62" fill="rgb(47,47,47)"/>
<rect x="4.17" y="0" width="4.67" height="4.62" fill="rgb(75,75,75)"/>
<rect x="8.33" y="0" width="4.67" height="4.62" fill="rgb(75,75,75)"/>
<rect x="12.5" y="0" width="4.67" height="4.62" fill="rgb(47,47,47)"/>
<rect x="16.67" y="0" width="4.67" height="4.62" fill="rgb(20,20,20)"/>
<rect x="20.83" y="0" width="4.67" height="4.62" fill="rgb(20,20,20)"/>
<rect x="25" y="0" width="4.67" height="4.62" fill="rgb(20,20,20)"/>
<rect x="29.17" y="0" width="4.67" height="4.62" fill="rgb(20,20,20)"/>
<rect x="33.33" y="0" width="4.67" height="4.62" fill="rgb(135,135,135)"/>
<rect x="37.5" y="0" width="4.67" height="4.62" fill="rgb(105,105,105)"/>
<rect x="41.67" y="0" width="4.67" height="4.62" fill="rgb(47,47,47)"/>
<rect x="45.83" y="0" width="4.67" height="4.62" fill="rgb(47,47,47)"/>
<rect x="0" y="4.12" width="4.67" height="4.62" fill="rgb(75,75,75)"/>
<rect x="4.17" y="4.12" width="4.67" height="4.62" fill="rgb(135,135,135)"/>
<rect x="8.33" y="4.12" width="4.67" height="4.62" fill="rgb(135,135,135)"/>
<rect x="12.5" y="4.12" width="4.67" height="4.62" fill="rgb(75,75,75)"/>
<rect x="16.67" y="4.12" width="4.67" height="4.62" fill="rgb(20,20,20)"/>
<rect x="20.83" y="4.12" width="4.67" height="4.62" fill="rgb(20,20,20)"/>
<rect x="25" y="4.12" width="4.67" height="4.62" fill="rgb(20,20,20)"/>
<rect x="29.17" y="4.12" width="4.67" height="4.62" fill="rgb(20,20,20)"/>
<rect x="33.33" y="4.12" width="4.67" height="4.62" fill="rgb(47,47,47)"/>
<rect x="37.5" y="4.12" width="4.67" height="4.62" fill="rgb(47,47,47)"/>
<rect x="41.67" y="4.12" width="4.67" height="4.62" fill="rgb(47,47,47)"/>
<rect x="45.83" y="4.12" width="4.67" height="4.62" fill="rgb(20,20,20)"/>
<rect x="0" y="8.23" width="4.67" height="4.62" fill="rgb(75,75,75)"/>
<rect x="4.17" y="8.23" width="4.67" height="4.62" fill="rgb(165,165,165)"/>
<rect x="8.33" y="8.23" width="4.67" height="4.62" fill="rgb(165,165,165)"/>
<rect x="12.5" y="8.23" width="4.67" height="4.62" fill="rgb(75,75,75)"/>
<rect x="16.67" y="8.23" width="4.67" height="4.62" fill="rgb(20,20,20)"/>
<rect x="20.83" y="8.23" width="4.67" height="4.62" fill="rgb(20,20,20)"/>
<rect x="25" y="8.23" width="4.67" height="4.62" fill="rgb(20,20,20)"/>
<rect x="29.17" y="8.23" width="4.67" height="4.62" fill="rgb(20,20,20)"/>
<rect x="33.33" y="8.23" width="4.67" height="4.62" fill="rgb(20,20,20)"/>
<rect x="37.5" y="8.23" width="4.67" height="4.62" fill="rgb(20,20,20)"/>
<rect x="41.67" y="8.23" width="4.67" height="4.62" fill="rgb(20,20,20)"/>
<rect x="45.83" y="8.23" width="4.67" height="4.62" fill="rgb(20,20,20)"/>
<rect x="0" y="12.35" width="4.67" height="4.62" fill="rgb(47,47,47)"/>
<rect x="4.17" y="12.35" width="4.67" height="4.62" fill="rgb(75,75,75)"/>
<rect x="8.33" y="12.35" width="4.67" height="4.62" fill="rgb(75,75,75)"/>
<rect x="12.5" y="12.35" width="4.67" height="4.62" fill="rgb(47,47,47)"/>
<rect x="16.67" y="12.35" width="4.67" height="4.62" fill="rgb(20,20,20)"/>
<rect x="20.83" y="12.35" width="4.67" height="4.62" fill="rgb(20,20,20)"/>
<rect x="25" y="12.35" width="4.67" height="4.62" fill="rgb(20,20,20)"/>
<rect x="29.17" y="12.35" width="4.67" height="4.62" fill="rgb(20,20,20)"/>
<rect x="33.33" y="12.35" width="4.67" height="4.62" fill="rgb(20,20,20)"/>
<rect x="37.5" y="12.35" width="4.67" height="4.62" fill="rgb(20,20,20)"/>
<rect x="41.67" y="12.35" width="4.67" height="4.62" fill="rgb(20,20,20)"/>
<rect x="45.83" y="12.35" width="4.67" height="4.62" fill="rgb(20,20,20)"/>
<rect x="0" y="16.47" width="4.67" height="4.62" fill="rgb(20,20,20)"/>
<rect x="4.17" y="16.47" width="4.67" height="4.62" fill="rgb(20,20,20)"/>
<rect x="8.33" y="16.47" width="4.67" height="4.62" fill="rgb(47,47,47)"/>
<rect x="12.5" y="16.47" width="4.67" height="4.62" fill="rgb(47,47,47)"/>
<rect x="16.67" y="16.47" width="4.67" height="4.62" fill="rgb(20,20,20)"/>
<rect x="20.83" y="16.47" width="4.67" height="4.62" fill="rgb(47,47,47)"/>
<rect x="25" y="16.47" width="4.67" height="4.62" fill="rgb(47,47,47)"/>
<rect x="29.17" y="16.47" width="4.67" height="4.62" fill="rgb(47,47,47)"/>
<rect x="33.33" y="16.47" width="4.67" height="4.62" fill="rgb(20,20,20)"/>
<rect x="37.5" y="16.47" width="4.67" height="4.62" fill="rgb(20,20,20)"/>
<rect x="41.67" y="16.47" width="4.67" height="4.62" fill="rgb(20,20,20)"/>
<rect x="45.83" y="16.47" width="4.67" height="4.62" fill="rgb(20,20,20)"/>
<rect x="0" y="20.58" width="4.67" height="4.62" fill="rgb(20,20,20)"/>
<rect x="4.17" y="20.58" width="4.67" height="4.62" fill="rgb(47,47,47)"/>
<rect x="8.33" y="20.58" width="4.67" height="4.62" fill="rgb(75,75,75)"/>
<rect x="12.5" y="20.58" width="4.67" height="4.62" fill="rgb(135,135,135)"/>
<rect x="16.67" y="20.58" width="4.67" height="4.62" fill="rgb(135,135,135)"/>
<rect x="20.83" y="20.58" width="4.67" height="4.62" fill="rgb(135,135,135)"/>
<rect x="25" y="20.58" width="4.67" height="4.62" fill="rgb(165,165,165)"/>
<rect x="29.17" y="20.58" width="4.67" height="4.62" fill="rgb(135,135,135)"/>
<rect x="33.33" y="20.58" width="4.67" height="4.62" fill="rgb(75,75,75)"/>
<rect x="37.5" y="20.58" width="4.67" height="4.62" fill="rgb(20,20,20)"/>
<rect x="41.67" y="20.58" width="4.67" height="4.62" fill="rgb(20,20,20)"/>
<rect x="45.83" y="20.58" width="4.67" height="4.62" fill="rgb(20,20,20)"/>
<rect x="0" y="24.7" width="4.67" height="4.62" fill="rgb(20,20,20)"/>
<rect x="4.17" y="24.7" width="4.67" height="4.62" fill="rgb(47,47,47)"/>
<rect x="8.33" y="24.7" width="4.67" height="4.62" fill="rgb(105,105,105)"/>
<rect x="12.5" y="24.7" width="4.67" height="4.62" fill="rgb(165,165,165)"/>
<rect x="16.67" y="24.7" width="4.67" height="4.62" fill="rgb(165,165,165)"/>
<rect x="20.83" y="24.7" width="4.67" height="4.62" fill="rgb(165,165,165)"/>
<rect x="25" y="24.7" width="4.67" height="4.62" fill="rgb(222,222,222)"/>
<rect x="29.17" y="24.7" width="4.67" height="4.62" fill="rgb(195,195,195)"/>
<rect x="33.33" y="24.7" width="4.67" height="4.62" fill="rgb(105,105,105)"/>
<rect x="37.5" y="24.7" width="4.67" height="4.62" fill="rgb(47,47,47)"/>
<rect x="41.67" y="24.7" width="4.67" height="4.62" fill="rgb(20,20,20)"/>
<rect x="45.83" y="24.7" width="4.67" height="4.62" fill="rgb(20,20,20)"/>
<rect x="0" y="28.82" width="4.67" height="4.62" fill="rgb(20,20,20)"/>
<rect x="4.17" y="28.82" width="4.67" height="4.62" fill="rgb(20,20,20)"/>
<rect x="8.33" y="28.82" width="4.67" height="4.62" fill="rgb(75,75,75)"/>
<rect x="12.5" y="28.82" width="4.67" height="4.62" fill="rgb(105,105,105)"/>
<rect x="16.67" y="28.82" width="4.67" height="4.62" fill="rgb(135,135,135)"/>
<rect x="20.83" y="28.82" width="4.67" height="4.62" fill="rgb(135,135,135)"/>
<rect x="25" y="28.82" width="4.67" height="4.62" fill="rgb(195,195,195)"/>
<rect x="29.17" y="28.82" width="4.67" height="4.62" fill="rgb(165,165,165)"/>
<rect x="33.33" y="28.82" width="4.67" height="4.62" fill="rgb(75,75,75)"/>
<rect x="37.5" y="28.82" width="4.67" height="4.62" fill="rgb(20,20,20)"/>
<rect x="41.67" y="28.82" width="4.67" height="4.62" fill="rgb(20,20,20)"/>
<rect x="45.83" y="28.82" width="4.67" height="4.62" fill="rgb(20,20,20)"/>
<rect x="0" y="32.93" width="4.67" height="4.62" fill="rgb(20,20,20)"/>
<rect x="4.17" y="32.93" width="4.67" height="4.62" fill="rgb(20,20,20)"/>
<rect x="8.33" y="32.93" width="4.67" height="4.62" fill="rgb(47,47,47)"/>
<rect x="12.5" y="32.93" width="4.67" height="4.62" fill="rgb(47,47,47)"/>
<rect x="16.67" y="32.93" width="4.67" height="4.62" fill="rgb(47,47,47)"/>
<rect x="20.83" y="32.93" width="4.67" height="4.62" fill="rgb(75,75,75)"/>
<rect x="25" y="32.93" width="4.67" height="4.62" fill="rgb(105,105,105)"/>
<rect x="29.17" y="32.93" width="4.67" height="4.62" fill="rgb(75,75,75)"/>
<rect x="33.33" y="32.93" width="4.67" height="4.62" fill="rgb(47,47,47)"/>
<rect x="37.5" y="32.93" width="4.67" height="4.62" fill="rgb(20,20,20)"/>
<rect x="41.67" y="32.93" width="4.67" height="4.62" fill="rgb(20,20,20)"/>
<rect x="45.83" y="32.93" width="4.67" height="4.62" fill="rgb(47,47,47)"/>
<rect x="0" y="37.05" width="4.67" height="4.62" fill="rgb(20,20,20)"/>
<rect x="4.17" y="37.05" width="4.67" height="4.62" fill="rgb(20,20,20)"/>
<rect x="8.33" y="37.05" width="4.67" height="4.62" fill="rgb(20,20,20)"/>
<rect x="12.5" y="37.05" width="4.67" height="4.62" fill="rgb(20,20,20)"/>
<rect x="16.67" y="37.05" width="4.67" height="4.62" fill="rgb(20,20,20)"/>
<rect x="20.83" y="37.05" width="4.67" height="4.62" fill="rgb(20,20,20)"/>
<rect x="25" y="37.05" width="4.67" height="4.62" fill="rgb(20,20,20)"/>
<rect x="29.17" y="37.05" width="4.67" height="4.62" fill="rgb(20,20,20)"/>
<rect x="33.33" y="37.05" width="4.67" height="4.62" fill="rgb(20,20,20)"/>
<rect x="37.5" y="37.05" width="4.67" height="4.62" fill="rgb(20,20,20)"/>
<rect x="41.67" y="37.05" width="4.67" height="4.62" fill="rgb(20,20,20)"/>
<rect x="45.83" y="37.05" width="4.67" height="4.62" fill="rgb(47,47,47)"/>
<rect x="0" y="41.17" width="4.67" height="4.62" fill="rgb(20,20,20)"/>
<rect x="4.17" y="41.17" width="4.67" height="4.62" fill="rgb(20,20,20)"/>
<rect x="8.33" y="41.17" width="4.67" height="4.62" fill="rgb(20,20,20)"/>
<rect x="12.5" y="41.17" width="4.67" height="4.62" fill="rgb(20,20,20)"/>
<rect x="16.67" y="41.17" width="4.67" height="4.62" fill="rgb(20,20,20)"/>
<rect x="20.83" y="41.17" width="4.67" height="4.62" fill="rgb(20,20,20)"/>
<rect x="25" y="41.17" width="4.67" height="4.62" fill="rgb(20,20,20)"/>
<rect x="29.17" y="41.17" width="4.67" height="4.62" fill="rgb(20,20,20)"/>
<rect x="33.33" y="41.17" width="4.67" height="4.62" fill="rgb(20,20,20)"/>
<rect x="37.5" y="41.17" width="4.67" height="4.62" fill="rgb(20,20,20)"/>
<rect x="41.67" y="41.17" width="4.67" height="4.62" fill="rgb(20,20,20)"/>
<rect x="45.83" y="41.17" width="4.67" height="4.62" fill="rgb(20,20,20)"/>
<rect x="0" y="45.28" width="4.67" height="4.62" fill="rgb(47,47,47)"/>
<rect x="4.17" y="45.28" width="4.67" height="4.62" fill="rgb(105,105,105)"/>
<rect x="8.33" y="45.28" width="4.67" height="4.62" fill="rgb(105,105,105)"/>
<rect x="12.5" y="45.28" width="4.67" height="4.62" fill="rgb(75,75,75)"/>
<rect x="16.67" y="45.28" width="4.67" height="4.62" fill="rgb(47,47,47)"/>
<rect x="20.83" y="45.28" width="4.67" height="4.62" fill="rgb(47,47,47)"/>
<rect x="25" y="45.28" width="4.67" height="4.62" fill="rgb(20,20,20)"/>
<rect x="29.17" y="45.28" width="4.67" height="4.62" fill="rgb(20,20,20)"/>
<rect x="33.33" y="45.28" width="4.67" height="4.62" fill="rgb(20,20,20)"/>
<rect x="37.5" y="45.28" width="4.67" height="4.62" fill="rgb(20,20,20)"/>
<rect x="41.67" y="45.28" width="4.67" height="4.62" fill="rgb(20,20,20)"/>
<rect x="45.83" y="45.28" width="4.67" height="4.62" fill="rgb(20,20,20)"/>
</g>
<rect x="0.5" y="0.5" width="49" height="48.4" fill="none" stroke="#333" stroke-width="1"/>
</svg>
<circle cx="657.9" cy="63.1" r="13.3" fill="none" stroke="#D81A1A" stroke-width="1.6"/>
<svg x="459.6" y="107" width="50" height="49.4" viewBox="0 0 50 49.4" overflow="hidden">
<g filter="url(#bl)" shape-rendering="crispEdges"><rect width="50" height="49.4" fill="#111"/>
<rect x="0" y="0" width="4.67" height="4.62" fill="rgb(20,20,20)"/>
<rect x="4.17" y="0" width="4.67" height="4.62" fill="rgb(20,20,20)"/>
<rect x="8.33" y="0" width="4.67" height="4.62" fill="rgb(20,20,20)"/>
<rect x="12.5" y="0" width="4.67" height="4.62" fill="rgb(20,20,20)"/>
<rect x="16.67" y="0" width="4.67" height="4.62" fill="rgb(20,20,20)"/>
<rect x="20.83" y="0" width="4.67" height="4.62" fill="rgb(20,20,20)"/>
<rect x="25" y="0" width="4.67" height="4.62" fill="rgb(20,20,20)"/>
<rect x="29.17" y="0" width="4.67" height="4.62" fill="rgb(47,47,47)"/>
<rect x="33.33" y="0" width="4.67" height="4.62" fill="rgb(75,75,75)"/>
<rect x="37.5" y="0" width="4.67" height="4.62" fill="rgb(105,105,105)"/>
<rect x="41.67" y="0" width="4.67" height="4.62" fill="rgb(195,195,195)"/>
<rect x="45.83" y="0" width="4.67" height="4.62" fill="rgb(195,195,195)"/>
<rect x="0" y="4.12" width="4.67" height="4.62" fill="rgb(20,20,20)"/>
<rect x="4.17" y="4.12" width="4.67" height="4.62" fill="rgb(20,20,20)"/>
<rect x="8.33" y="4.12" width="4.67" height="4.62" fill="rgb(20,20,20)"/>
<rect x="12.5" y="4.12" width="4.67" height="4.62" fill="rgb(20,20,20)"/>
<rect x="16.67" y="4.12" width="4.67" height="4.62" fill="rgb(20,20,20)"/>
<rect x="20.83" y="4.12" width="4.67" height="4.62" fill="rgb(20,20,20)"/>
<rect x="25" y="4.12" width="4.67" height="4.62" fill="rgb(47,47,47)"/>
<rect x="29.17" y="4.12" width="4.67" height="4.62" fill="rgb(75,75,75)"/>
<rect x="33.33" y="4.12" width="4.67" height="4.62" fill="rgb(105,105,105)"/>
<rect x="37.5" y="4.12" width="4.67" height="4.62" fill="rgb(165,165,165)"/>
<rect x="41.67" y="4.12" width="4.67" height="4.62" fill="rgb(165,165,165)"/>
<rect x="45.83" y="4.12" width="4.67" height="4.62" fill="rgb(105,105,105)"/>
<rect x="0" y="8.23" width="4.67" height="4.62" fill="rgb(20,20,20)"/>
<rect x="4.17" y="8.23" width="4.67" height="4.62" fill="rgb(20,20,20)"/>
<rect x="8.33" y="8.23" width="4.67" height="4.62" fill="rgb(20,20,20)"/>
<rect x="12.5" y="8.23" width="4.67" height="4.62" fill="rgb(20,20,20)"/>
<rect x="16.67" y="8.23" width="4.67" height="4.62" fill="rgb(20,20,20)"/>
<rect x="20.83" y="8.23" width="4.67" height="4.62" fill="rgb(20,20,20)"/>
<rect x="25" y="8.23" width="4.67" height="4.62" fill="rgb(47,47,47)"/>
<rect x="29.17" y="8.23" width="4.67" height="4.62" fill="rgb(105,105,105)"/>
<rect x="33.33" y="8.23" width="4.67" height="4.62" fill="rgb(222,222,222)"/>
<rect x="37.5" y="8.23" width="4.67" height="4.62" fill="rgb(165,165,165)"/>
<rect x="41.67" y="8.23" width="4.67" height="4.62" fill="rgb(135,135,135)"/>
<rect x="45.83" y="8.23" width="4.67" height="4.62" fill="rgb(75,75,75)"/>
<rect x="0" y="12.35" width="4.67" height="4.62" fill="rgb(20,20,20)"/>
<rect x="4.17" y="12.35" width="4.67" height="4.62" fill="rgb(20,20,20)"/>
<rect x="8.33" y="12.35" width="4.67" height="4.62" fill="rgb(20,20,20)"/>
<rect x="12.5" y="12.35" width="4.67" height="4.62" fill="rgb(20,20,20)"/>
<rect x="16.67" y="12.35" width="4.67" height="4.62" fill="rgb(20,20,20)"/>
<rect x="20.83" y="12.35" width="4.67" height="4.62" fill="rgb(20,20,20)"/>
<rect x="25" y="12.35" width="4.67" height="4.62" fill="rgb(75,75,75)"/>
<rect x="29.17" y="12.35" width="4.67" height="4.62" fill="rgb(105,105,105)"/>
<rect x="33.33" y="12.35" width="4.67" height="4.62" fill="rgb(222,222,222)"/>
<rect x="37.5" y="12.35" width="4.67" height="4.62" fill="rgb(165,165,165)"/>
<rect x="41.67" y="12.35" width="4.67" height="4.62" fill="rgb(135,135,135)"/>
<rect x="45.83" y="12.35" width="4.67" height="4.62" fill="rgb(75,75,75)"/>
<rect x="0" y="16.47" width="4.67" height="4.62" fill="rgb(20,20,20)"/>
<rect x="4.17" y="16.47" width="4.67" height="4.62" fill="rgb(20,20,20)"/>
<rect x="8.33" y="16.47" width="4.67" height="4.62" fill="rgb(20,20,20)"/>
<rect x="12.5" y="16.47" width="4.67" height="4.62" fill="rgb(20,20,20)"/>
<rect x="16.67" y="16.47" width="4.67" height="4.62" fill="rgb(20,20,20)"/>
<rect x="20.83" y="16.47" width="4.67" height="4.62" fill="rgb(20,20,20)"/>
<rect x="25" y="16.47" width="4.67" height="4.62" fill="rgb(20,20,20)"/>
<rect x="29.17" y="16.47" width="4.67" height="4.62" fill="rgb(75,75,75)"/>
<rect x="33.33" y="16.47" width="4.67" height="4.62" fill="rgb(135,135,135)"/>
<rect x="37.5" y="16.47" width="4.67" height="4.62" fill="rgb(105,105,105)"/>
<rect x="41.67" y="16.47" width="4.67" height="4.62" fill="rgb(75,75,75)"/>
<rect x="45.83" y="16.47" width="4.67" height="4.62" fill="rgb(47,47,47)"/>
<rect x="0" y="20.58" width="4.67" height="4.62" fill="rgb(20,20,20)"/>
<rect x="4.17" y="20.58" width="4.67" height="4.62" fill="rgb(20,20,20)"/>
<rect x="8.33" y="20.58" width="4.67" height="4.62" fill="rgb(20,20,20)"/>
<rect x="12.5" y="20.58" width="4.67" height="4.62" fill="rgb(20,20,20)"/>
<rect x="16.67" y="20.58" width="4.67" height="4.62" fill="rgb(20,20,20)"/>
<rect x="20.83" y="20.58" width="4.67" height="4.62" fill="rgb(20,20,20)"/>
<rect x="25" y="20.58" width="4.67" height="4.62" fill="rgb(20,20,20)"/>
<rect x="29.17" y="20.58" width="4.67" height="4.62" fill="rgb(47,47,47)"/>
<rect x="33.33" y="20.58" width="4.67" height="4.62" fill="rgb(47,47,47)"/>
<rect x="37.5" y="20.58" width="4.67" height="4.62" fill="rgb(47,47,47)"/>
<rect x="41.67" y="20.58" width="4.67" height="4.62" fill="rgb(47,47,47)"/>
<rect x="45.83" y="20.58" width="4.67" height="4.62" fill="rgb(47,47,47)"/>
<rect x="0" y="24.7" width="4.67" height="4.62" fill="rgb(20,20,20)"/>
<rect x="4.17" y="24.7" width="4.67" height="4.62" fill="rgb(20,20,20)"/>
<rect x="8.33" y="24.7" width="4.67" height="4.62" fill="rgb(20,20,20)"/>
<rect x="12.5" y="24.7" width="4.67" height="4.62" fill="rgb(20,20,20)"/>
<rect x="16.67" y="24.7" width="4.67" height="4.62" fill="rgb(20,20,20)"/>
<rect x="20.83" y="24.7" width="4.67" height="4.62" fill="rgb(20,20,20)"/>
<rect x="25" y="24.7" width="4.67" height="4.62" fill="rgb(20,20,20)"/>
<rect x="29.17" y="24.7" width="4.67" height="4.62" fill="rgb(47,47,47)"/>
<rect x="33.33" y="24.7" width="4.67" height="4.62" fill="rgb(47,47,47)"/>
<rect x="37.5" y="24.7" width="4.67" height="4.62" fill="rgb(47,47,47)"/>
<rect x="41.67" y="24.7" width="4.67" height="4.62" fill="rgb(75,75,75)"/>
<rect x="45.83" y="24.7" width="4.67" height="4.62" fill="rgb(47,47,47)"/>
<rect x="0" y="28.82" width="4.67" height="4.62" fill="rgb(20,20,20)"/>
<rect x="4.17" y="28.82" width="4.67" height="4.62" fill="rgb(20,20,20)"/>
<rect x="8.33" y="28.82" width="4.67" height="4.62" fill="rgb(20,20,20)"/>
<rect x="12.5" y="28.82" width="4.67" height="4.62" fill="rgb(20,20,20)"/>
<rect x="16.67" y="28.82" width="4.67" height="4.62" fill="rgb(20,20,20)"/>
<rect x="20.83" y="28.82" width="4.67" height="4.62" fill="rgb(20,20,20)"/>
<rect x="25" y="28.82" width="4.67" height="4.62" fill="rgb(20,20,20)"/>
<rect x="29.17" y="28.82" width="4.67" height="4.62" fill="rgb(47,47,47)"/>
<rect x="33.33" y="28.82" width="4.67" height="4.62" fill="rgb(105,105,105)"/>
<rect x="37.5" y="28.82" width="4.67" height="4.62" fill="rgb(165,165,165)"/>
<rect x="41.67" y="28.82" width="4.67" height="4.62" fill="rgb(105,105,105)"/>
<rect x="45.83" y="28.82" width="4.67" height="4.62" fill="rgb(75,75,75)"/>
<rect x="0" y="32.93" width="4.67" height="4.62" fill="rgb(20,20,20)"/>
<rect x="4.17" y="32.93" width="4.67" height="4.62" fill="rgb(20,20,20)"/>
<rect x="8.33" y="32.93" width="4.67" height="4.62" fill="rgb(20,20,20)"/>
<rect x="12.5" y="32.93" width="4.67" height="4.62" fill="rgb(20,20,20)"/>
<rect x="16.67" y="32.93" width="4.67" height="4.62" fill="rgb(20,20,20)"/>
<rect x="20.83" y="32.93" width="4.67" height="4.62" fill="rgb(20,20,20)"/>
<rect x="25" y="32.93" width="4.67" height="4.62" fill="rgb(20,20,20)"/>
<rect x="29.17" y="32.93" width="4.67" height="4.62" fill="rgb(47,47,47)"/>
<rect x="33.33" y="32.93" width="4.67" height="4.62" fill="rgb(135,135,135)"/>
<rect x="37.5" y="32.93" width="4.67" height="4.62" fill="rgb(222,222,222)"/>
<rect x="41.67" y="32.93" width="4.67" height="4.62" fill="rgb(135,135,135)"/>
<rect x="45.83" y="32.93" width="4.67" height="4.62" fill="rgb(75,75,75)"/>
<rect x="0" y="37.05" width="4.67" height="4.62" fill="rgb(20,20,20)"/>
<rect x="4.17" y="37.05" width="4.67" height="4.62" fill="rgb(20,20,20)"/>
<rect x="8.33" y="37.05" width="4.67" height="4.62" fill="rgb(20,20,20)"/>
<rect x="12.5" y="37.05" width="4.67" height="4.62" fill="rgb(20,20,20)"/>
<rect x="16.67" y="37.05" width="4.67" height="4.62" fill="rgb(20,20,20)"/>
<rect x="20.83" y="37.05" width="4.67" height="4.62" fill="rgb(20,20,20)"/>
<rect x="25" y="37.05" width="4.67" height="4.62" fill="rgb(20,20,20)"/>
<rect x="29.17" y="37.05" width="4.67" height="4.62" fill="rgb(75,75,75)"/>
<rect x="33.33" y="37.05" width="4.67" height="4.62" fill="rgb(105,105,105)"/>
<rect x="37.5" y="37.05" width="4.67" height="4.62" fill="rgb(135,135,135)"/>
<rect x="41.67" y="37.05" width="4.67" height="4.62" fill="rgb(105,105,105)"/>
<rect x="45.83" y="37.05" width="4.67" height="4.62" fill="rgb(47,47,47)"/>
<rect x="0" y="41.17" width="4.67" height="4.62" fill="rgb(20,20,20)"/>
<rect x="4.17" y="41.17" width="4.67" height="4.62" fill="rgb(20,20,20)"/>
<rect x="8.33" y="41.17" width="4.67" height="4.62" fill="rgb(20,20,20)"/>
<rect x="12.5" y="41.17" width="4.67" height="4.62" fill="rgb(20,20,20)"/>
<rect x="16.67" y="41.17" width="4.67" height="4.62" fill="rgb(20,20,20)"/>
<rect x="20.83" y="41.17" width="4.67" height="4.62" fill="rgb(20,20,20)"/>
<rect x="25" y="41.17" width="4.67" height="4.62" fill="rgb(47,47,47)"/>
<rect x="29.17" y="41.17" width="4.67" height="4.62" fill="rgb(47,47,47)"/>
<rect x="33.33" y="41.17" width="4.67" height="4.62" fill="rgb(47,47,47)"/>
<rect x="37.5" y="41.17" width="4.67" height="4.62" fill="rgb(75,75,75)"/>
<rect x="41.67" y="41.17" width="4.67" height="4.62" fill="rgb(47,47,47)"/>
<rect x="45.83" y="41.17" width="4.67" height="4.62" fill="rgb(47,47,47)"/>
<rect x="0" y="45.28" width="4.67" height="4.62" fill="rgb(20,20,20)"/>
<rect x="4.17" y="45.28" width="4.67" height="4.62" fill="rgb(47,47,47)"/>
<rect x="8.33" y="45.28" width="4.67" height="4.62" fill="rgb(20,20,20)"/>
<rect x="12.5" y="45.28" width="4.67" height="4.62" fill="rgb(20,20,20)"/>
<rect x="16.67" y="45.28" width="4.67" height="4.62" fill="rgb(20,20,20)"/>
<rect x="20.83" y="45.28" width="4.67" height="4.62" fill="rgb(47,47,47)"/>
<rect x="25" y="45.28" width="4.67" height="4.62" fill="rgb(75,75,75)"/>
<rect x="29.17" y="45.28" width="4.67" height="4.62" fill="rgb(75,75,75)"/>
<rect x="33.33" y="45.28" width="4.67" height="4.62" fill="rgb(47,47,47)"/>
<rect x="37.5" y="45.28" width="4.67" height="4.62" fill="rgb(47,47,47)"/>
<rect x="41.67" y="45.28" width="4.67" height="4.62" fill="rgb(47,47,47)"/>
<rect x="45.83" y="45.28" width="4.67" height="4.62" fill="rgb(20,20,20)"/>
</g>
<rect x="0.5" y="0.5" width="49" height="48.4" fill="none" stroke="#333" stroke-width="1"/>
</svg>
<circle cx="483.8" cy="131.3" r="13.3" fill="none" stroke="#D81A1A" stroke-width="1.6"/>
<svg x="517.9" y="107" width="50" height="49.4" viewBox="0 0 50 49.4" overflow="hidden">
<g filter="url(#bl)" shape-rendering="crispEdges"><rect width="50" height="49.4" fill="#111"/>
<rect x="0" y="0" width="4.67" height="4.62" fill="rgb(20,20,20)"/>
<rect x="4.17" y="0" width="4.67" height="4.62" fill="rgb(20,20,20)"/>
<rect x="8.33" y="0" width="4.67" height="4.62" fill="rgb(20,20,20)"/>
<rect x="12.5" y="0" width="4.67" height="4.62" fill="rgb(20,20,20)"/>
<rect x="16.67" y="0" width="4.67" height="4.62" fill="rgb(20,20,20)"/>
<rect x="20.83" y="0" width="4.67" height="4.62" fill="rgb(20,20,20)"/>
<rect x="25" y="0" width="4.67" height="4.62" fill="rgb(20,20,20)"/>
<rect x="29.17" y="0" width="4.67" height="4.62" fill="rgb(47,47,47)"/>
<rect x="33.33" y="0" width="4.67" height="4.62" fill="rgb(75,75,75)"/>
<rect x="37.5" y="0" width="4.67" height="4.62" fill="rgb(165,165,165)"/>
<rect x="41.67" y="0" width="4.67" height="4.62" fill="rgb(195,195,195)"/>
<rect x="45.83" y="0" width="4.67" height="4.62" fill="rgb(135,135,135)"/>
<rect x="0" y="4.12" width="4.67" height="4.62" fill="rgb(20,20,20)"/>
<rect x="4.17" y="4.12" width="4.67" height="4.62" fill="rgb(20,20,20)"/>
<rect x="8.33" y="4.12" width="4.67" height="4.62" fill="rgb(20,20,20)"/>
<rect x="12.5" y="4.12" width="4.67" height="4.62" fill="rgb(20,20,20)"/>
<rect x="16.67" y="4.12" width="4.67" height="4.62" fill="rgb(20,20,20)"/>
<rect x="20.83" y="4.12" width="4.67" height="4.62" fill="rgb(20,20,20)"/>
<rect x="25" y="4.12" width="4.67" height="4.62" fill="rgb(47,47,47)"/>
<rect x="29.17" y="4.12" width="4.67" height="4.62" fill="rgb(75,75,75)"/>
<rect x="33.33" y="4.12" width="4.67" height="4.62" fill="rgb(135,135,135)"/>
<rect x="37.5" y="4.12" width="4.67" height="4.62" fill="rgb(165,165,165)"/>
<rect x="41.67" y="4.12" width="4.67" height="4.62" fill="rgb(165,165,165)"/>
<rect x="45.83" y="4.12" width="4.67" height="4.62" fill="rgb(75,75,75)"/>
<rect x="0" y="8.23" width="4.67" height="4.62" fill="rgb(20,20,20)"/>
<rect x="4.17" y="8.23" width="4.67" height="4.62" fill="rgb(20,20,20)"/>
<rect x="8.33" y="8.23" width="4.67" height="4.62" fill="rgb(20,20,20)"/>
<rect x="12.5" y="8.23" width="4.67" height="4.62" fill="rgb(20,20,20)"/>
<rect x="16.67" y="8.23" width="4.67" height="4.62" fill="rgb(47,47,47)"/>
<rect x="20.83" y="8.23" width="4.67" height="4.62" fill="rgb(47,47,47)"/>
<rect x="25" y="8.23" width="4.67" height="4.62" fill="rgb(75,75,75)"/>
<rect x="29.17" y="8.23" width="4.67" height="4.62" fill="rgb(135,135,135)"/>
<rect x="33.33" y="8.23" width="4.67" height="4.62" fill="rgb(165,165,165)"/>
<rect x="37.5" y="8.23" width="4.67" height="4.62" fill="rgb(135,135,135)"/>
<rect x="41.67" y="8.23" width="4.67" height="4.62" fill="rgb(75,75,75)"/>
<rect x="45.83" y="8.23" width="4.67" height="4.62" fill="rgb(47,47,47)"/>
<rect x="0" y="12.35" width="4.67" height="4.62" fill="rgb(20,20,20)"/>
<rect x="4.17" y="12.35" width="4.67" height="4.62" fill="rgb(20,20,20)"/>
<rect x="8.33" y="12.35" width="4.67" height="4.62" fill="rgb(20,20,20)"/>
<rect x="12.5" y="12.35" width="4.67" height="4.62" fill="rgb(47,47,47)"/>
<rect x="16.67" y="12.35" width="4.67" height="4.62" fill="rgb(47,47,47)"/>
<rect x="20.83" y="12.35" width="4.67" height="4.62" fill="rgb(75,75,75)"/>
<rect x="25" y="12.35" width="4.67" height="4.62" fill="rgb(135,135,135)"/>
<rect x="29.17" y="12.35" width="4.67" height="4.62" fill="rgb(195,195,195)"/>
<rect x="33.33" y="12.35" width="4.67" height="4.62" fill="rgb(135,135,135)"/>
<rect x="37.5" y="12.35" width="4.67" height="4.62" fill="rgb(105,105,105)"/>
<rect x="41.67" y="12.35" width="4.67" height="4.62" fill="rgb(75,75,75)"/>
<rect x="45.83" y="12.35" width="4.67" height="4.62" fill="rgb(47,47,47)"/>
<rect x="0" y="16.47" width="4.67" height="4.62" fill="rgb(20,20,20)"/>
<rect x="4.17" y="16.47" width="4.67" height="4.62" fill="rgb(20,20,20)"/>
<rect x="8.33" y="16.47" width="4.67" height="4.62" fill="rgb(20,20,20)"/>
<rect x="12.5" y="16.47" width="4.67" height="4.62" fill="rgb(75,75,75)"/>
<rect x="16.67" y="16.47" width="4.67" height="4.62" fill="rgb(105,105,105)"/>
<rect x="20.83" y="16.47" width="4.67" height="4.62" fill="rgb(75,75,75)"/>
<rect x="25" y="16.47" width="4.67" height="4.62" fill="rgb(105,105,105)"/>
<rect x="29.17" y="16.47" width="4.67" height="4.62" fill="rgb(222,222,222)"/>
<rect x="33.33" y="16.47" width="4.67" height="4.62" fill="rgb(135,135,135)"/>
<rect x="37.5" y="16.47" width="4.67" height="4.62" fill="rgb(75,75,75)"/>
<rect x="41.67" y="16.47" width="4.67" height="4.62" fill="rgb(75,75,75)"/>
<rect x="45.83" y="16.47" width="4.67" height="4.62" fill="rgb(47,47,47)"/>
<rect x="0" y="20.58" width="4.67" height="4.62" fill="rgb(20,20,20)"/>
<rect x="4.17" y="20.58" width="4.67" height="4.62" fill="rgb(20,20,20)"/>
<rect x="8.33" y="20.58" width="4.67" height="4.62" fill="rgb(20,20,20)"/>
<rect x="12.5" y="20.58" width="4.67" height="4.62" fill="rgb(75,75,75)"/>
<rect x="16.67" y="20.58" width="4.67" height="4.62" fill="rgb(195,195,195)"/>
<rect x="20.83" y="20.58" width="4.67" height="4.62" fill="rgb(135,135,135)"/>
<rect x="25" y="20.58" width="4.67" height="4.62" fill="rgb(75,75,75)"/>
<rect x="29.17" y="20.58" width="4.67" height="4.62" fill="rgb(75,75,75)"/>
<rect x="33.33" y="20.58" width="4.67" height="4.62" fill="rgb(75,75,75)"/>
<rect x="37.5" y="20.58" width="4.67" height="4.62" fill="rgb(47,47,47)"/>
<rect x="41.67" y="20.58" width="4.67" height="4.62" fill="rgb(75,75,75)"/>
<rect x="45.83" y="20.58" width="4.67" height="4.62" fill="rgb(47,47,47)"/>
<rect x="0" y="24.7" width="4.67" height="4.62" fill="rgb(20,20,20)"/>
<rect x="4.17" y="24.7" width="4.67" height="4.62" fill="rgb(20,20,20)"/>
<rect x="8.33" y="24.7" width="4.67" height="4.62" fill="rgb(20,20,20)"/>
<rect x="12.5" y="24.7" width="4.67" height="4.62" fill="rgb(75,75,75)"/>
<rect x="16.67" y="24.7" width="4.67" height="4.62" fill="rgb(165,165,165)"/>
<rect x="20.83" y="24.7" width="4.67" height="4.62" fill="rgb(165,165,165)"/>
<rect x="25" y="24.7" width="4.67" height="4.62" fill="rgb(75,75,75)"/>
<rect x="29.17" y="24.7" width="4.67" height="4.62" fill="rgb(47,47,47)"/>
<rect x="33.33" y="24.7" width="4.67" height="4.62" fill="rgb(47,47,47)"/>
<rect x="37.5" y="24.7" width="4.67" height="4.62" fill="rgb(47,47,47)"/>
<rect x="41.67" y="24.7" width="4.67" height="4.62" fill="rgb(47,47,47)"/>
<rect x="45.83" y="24.7" width="4.67" height="4.62" fill="rgb(47,47,47)"/>
<rect x="0" y="28.82" width="4.67" height="4.62" fill="rgb(20,20,20)"/>
<rect x="4.17" y="28.82" width="4.67" height="4.62" fill="rgb(20,20,20)"/>
<rect x="8.33" y="28.82" width="4.67" height="4.62" fill="rgb(20,20,20)"/>
<rect x="12.5" y="28.82" width="4.67" height="4.62" fill="rgb(47,47,47)"/>
<rect x="16.67" y="28.82" width="4.67" height="4.62" fill="rgb(75,75,75)"/>
<rect x="20.83" y="28.82" width="4.67" height="4.62" fill="rgb(75,75,75)"/>
<rect x="25" y="28.82" width="4.67" height="4.62" fill="rgb(47,47,47)"/>
<rect x="29.17" y="28.82" width="4.67" height="4.62" fill="rgb(47,47,47)"/>
<rect x="33.33" y="28.82" width="4.67" height="4.62" fill="rgb(47,47,47)"/>
<rect x="37.5" y="28.82" width="4.67" height="4.62" fill="rgb(75,75,75)"/>
<rect x="41.67" y="28.82" width="4.67" height="4.62" fill="rgb(75,75,75)"/>
<rect x="45.83" y="28.82" width="4.67" height="4.62" fill="rgb(47,47,47)"/>
<rect x="0" y="32.93" width="4.67" height="4.62" fill="rgb(20,20,20)"/>
<rect x="4.17" y="32.93" width="4.67" height="4.62" fill="rgb(20,20,20)"/>
<rect x="8.33" y="32.93" width="4.67" height="4.62" fill="rgb(20,20,20)"/>
<rect x="12.5" y="32.93" width="4.67" height="4.62" fill="rgb(20,20,20)"/>
<rect x="16.67" y="32.93" width="4.67" height="4.62" fill="rgb(20,20,20)"/>
<rect x="20.83" y="32.93" width="4.67" height="4.62" fill="rgb(47,47,47)"/>
<rect x="25" y="32.93" width="4.67" height="4.62" fill="rgb(47,47,47)"/>
<rect x="29.17" y="32.93" width="4.67" height="4.62" fill="rgb(47,47,47)"/>
<rect x="33.33" y="32.93" width="4.67" height="4.62" fill="rgb(105,105,105)"/>
<rect x="37.5" y="32.93" width="4.67" height="4.62" fill="rgb(165,165,165)"/>
<rect x="41.67" y="32.93" width="4.67" height="4.62" fill="rgb(135,135,135)"/>
<rect x="45.83" y="32.93" width="4.67" height="4.62" fill="rgb(75,75,75)"/>
<rect x="0" y="37.05" width="4.67" height="4.62" fill="rgb(20,20,20)"/>
<rect x="4.17" y="37.05" width="4.67" height="4.62" fill="rgb(20,20,20)"/>
<rect x="8.33" y="37.05" width="4.67" height="4.62" fill="rgb(20,20,20)"/>
<rect x="12.5" y="37.05" width="4.67" height="4.62" fill="rgb(20,20,20)"/>
<rect x="16.67" y="37.05" width="4.67" height="4.62" fill="rgb(20,20,20)"/>
<rect x="20.83" y="37.05" width="4.67" height="4.62" fill="rgb(20,20,20)"/>
<rect x="25" y="37.05" width="4.67" height="4.62" fill="rgb(47,47,47)"/>
<rect x="29.17" y="37.05" width="4.67" height="4.62" fill="rgb(75,75,75)"/>
<rect x="33.33" y="37.05" width="4.67" height="4.62" fill="rgb(165,165,165)"/>
<rect x="37.5" y="37.05" width="4.67" height="4.62" fill="rgb(222,222,222)"/>
<rect x="41.67" y="37.05" width="4.67" height="4.62" fill="rgb(165,165,165)"/>
<rect x="45.83" y="37.05" width="4.67" height="4.62" fill="rgb(75,75,75)"/>
<rect x="0" y="41.17" width="4.67" height="4.62" fill="rgb(20,20,20)"/>
<rect x="4.17" y="41.17" width="4.67" height="4.62" fill="rgb(20,20,20)"/>
<rect x="8.33" y="41.17" width="4.67" height="4.62" fill="rgb(20,20,20)"/>
<rect x="12.5" y="41.17" width="4.67" height="4.62" fill="rgb(20,20,20)"/>
<rect x="16.67" y="41.17" width="4.67" height="4.62" fill="rgb(20,20,20)"/>
<rect x="20.83" y="41.17" width="4.67" height="4.62" fill="rgb(20,20,20)"/>
<rect x="25" y="41.17" width="4.67" height="4.62" fill="rgb(47,47,47)"/>
<rect x="29.17" y="41.17" width="4.67" height="4.62" fill="rgb(75,75,75)"/>
<rect x="33.33" y="41.17" width="4.67" height="4.62" fill="rgb(135,135,135)"/>
<rect x="37.5" y="41.17" width="4.67" height="4.62" fill="rgb(195,195,195)"/>
<rect x="41.67" y="41.17" width="4.67" height="4.62" fill="rgb(135,135,135)"/>
<rect x="45.83" y="41.17" width="4.67" height="4.62" fill="rgb(75,75,75)"/>
<rect x="0" y="45.28" width="4.67" height="4.62" fill="rgb(20,20,20)"/>
<rect x="4.17" y="45.28" width="4.67" height="4.62" fill="rgb(20,20,20)"/>
<rect x="8.33" y="45.28" width="4.67" height="4.62" fill="rgb(20,20,20)"/>
<rect x="12.5" y="45.28" width="4.67" height="4.62" fill="rgb(20,20,20)"/>
<rect x="16.67" y="45.28" width="4.67" height="4.62" fill="rgb(20,20,20)"/>
<rect x="20.83" y="45.28" width="4.67" height="4.62" fill="rgb(47,47,47)"/>
<rect x="25" y="45.28" width="4.67" height="4.62" fill="rgb(47,47,47)"/>
<rect x="29.17" y="45.28" width="4.67" height="4.62" fill="rgb(47,47,47)"/>
<rect x="33.33" y="45.28" width="4.67" height="4.62" fill="rgb(75,75,75)"/>
<rect x="37.5" y="45.28" width="4.67" height="4.62" fill="rgb(105,105,105)"/>
<rect x="41.67" y="45.28" width="4.67" height="4.62" fill="rgb(75,75,75)"/>
<rect x="45.83" y="45.28" width="4.67" height="4.62" fill="rgb(47,47,47)"/>
</g>
<rect x="0.5" y="0.5" width="49" height="48.4" fill="none" stroke="#333" stroke-width="1"/>
</svg>
<circle cx="542.8" cy="131.3" r="13.3" fill="none" stroke="#D81A1A" stroke-width="1.6"/>
<svg x="576.6" y="107" width="50" height="49.4" viewBox="0 0 50 49.4" overflow="hidden">
<g filter="url(#bl)" shape-rendering="crispEdges"><rect width="50" height="49.4" fill="#111"/>
<rect x="0" y="0" width="4.67" height="4.62" fill="rgb(20,20,20)"/>
<rect x="4.17" y="0" width="4.67" height="4.62" fill="rgb(20,20,20)"/>
<rect x="8.33" y="0" width="4.67" height="4.62" fill="rgb(20,20,20)"/>
<rect x="12.5" y="0" width="4.67" height="4.62" fill="rgb(20,20,20)"/>
<rect x="16.67" y="0" width="4.67" height="4.62" fill="rgb(20,20,20)"/>
<rect x="20.83" y="0" width="4.67" height="4.62" fill="rgb(20,20,20)"/>
<rect x="25" y="0" width="4.67" height="4.62" fill="rgb(47,47,47)"/>
<rect x="29.17" y="0" width="4.67" height="4.62" fill="rgb(47,47,47)"/>
<rect x="33.33" y="0" width="4.67" height="4.62" fill="rgb(75,75,75)"/>
<rect x="37.5" y="0" width="4.67" height="4.62" fill="rgb(165,165,165)"/>
<rect x="41.67" y="0" width="4.67" height="4.62" fill="rgb(222,222,222)"/>
<rect x="45.83" y="0" width="4.67" height="4.62" fill="rgb(195,195,195)"/>
<rect x="0" y="4.12" width="4.67" height="4.62" fill="rgb(20,20,20)"/>
<rect x="4.17" y="4.12" width="4.67" height="4.62" fill="rgb(20,20,20)"/>
<rect x="8.33" y="4.12" width="4.67" height="4.62" fill="rgb(20,20,20)"/>
<rect x="12.5" y="4.12" width="4.67" height="4.62" fill="rgb(20,20,20)"/>
<rect x="16.67" y="4.12" width="4.67" height="4.62" fill="rgb(20,20,20)"/>
<rect x="20.83" y="4.12" width="4.67" height="4.62" fill="rgb(20,20,20)"/>
<rect x="25" y="4.12" width="4.67" height="4.62" fill="rgb(47,47,47)"/>
<rect x="29.17" y="4.12" width="4.67" height="4.62" fill="rgb(47,47,47)"/>
<rect x="33.33" y="4.12" width="4.67" height="4.62" fill="rgb(105,105,105)"/>
<rect x="37.5" y="4.12" width="4.67" height="4.62" fill="rgb(165,165,165)"/>
<rect x="41.67" y="4.12" width="4.67" height="4.62" fill="rgb(195,195,195)"/>
<rect x="45.83" y="4.12" width="4.67" height="4.62" fill="rgb(135,135,135)"/>
<rect x="0" y="8.23" width="4.67" height="4.62" fill="rgb(47,47,47)"/>
<rect x="4.17" y="8.23" width="4.67" height="4.62" fill="rgb(20,20,20)"/>
<rect x="8.33" y="8.23" width="4.67" height="4.62" fill="rgb(20,20,20)"/>
<rect x="12.5" y="8.23" width="4.67" height="4.62" fill="rgb(20,20,20)"/>
<rect x="16.67" y="8.23" width="4.67" height="4.62" fill="rgb(20,20,20)"/>
<rect x="20.83" y="8.23" width="4.67" height="4.62" fill="rgb(20,20,20)"/>
<rect x="25" y="8.23" width="4.67" height="4.62" fill="rgb(47,47,47)"/>
<rect x="29.17" y="8.23" width="4.67" height="4.62" fill="rgb(75,75,75)"/>
<rect x="33.33" y="8.23" width="4.67" height="4.62" fill="rgb(165,165,165)"/>
<rect x="37.5" y="8.23" width="4.67" height="4.62" fill="rgb(165,165,165)"/>
<rect x="41.67" y="8.23" width="4.67" height="4.62" fill="rgb(135,135,135)"/>
<rect x="45.83" y="8.23" width="4.67" height="4.62" fill="rgb(75,75,75)"/>
<rect x="0" y="12.35" width="4.67" height="4.62" fill="rgb(47,47,47)"/>
<rect x="4.17" y="12.35" width="4.67" height="4.62" fill="rgb(20,20,20)"/>
<rect x="8.33" y="12.35" width="4.67" height="4.62" fill="rgb(20,20,20)"/>
<rect x="12.5" y="12.35" width="4.67" height="4.62" fill="rgb(20,20,20)"/>
<rect x="16.67" y="12.35" width="4.67" height="4.62" fill="rgb(20,20,20)"/>
<rect x="20.83" y="12.35" width="4.67" height="4.62" fill="rgb(20,20,20)"/>
<rect x="25" y="12.35" width="4.67" height="4.62" fill="rgb(47,47,47)"/>
<rect x="29.17" y="12.35" width="4.67" height="4.62" fill="rgb(105,105,105)"/>
<rect x="33.33" y="12.35" width="4.67" height="4.62" fill="rgb(222,222,222)"/>
<rect x="37.5" y="12.35" width="4.67" height="4.62" fill="rgb(165,165,165)"/>
<rect x="41.67" y="12.35" width="4.67" height="4.62" fill="rgb(105,105,105)"/>
<rect x="45.83" y="12.35" width="4.67" height="4.62" fill="rgb(75,75,75)"/>
<rect x="0" y="16.47" width="4.67" height="4.62" fill="rgb(47,47,47)"/>
<rect x="4.17" y="16.47" width="4.67" height="4.62" fill="rgb(20,20,20)"/>
<rect x="8.33" y="16.47" width="4.67" height="4.62" fill="rgb(20,20,20)"/>
<rect x="12.5" y="16.47" width="4.67" height="4.62" fill="rgb(20,20,20)"/>
<rect x="16.67" y="16.47" width="4.67" height="4.62" fill="rgb(20,20,20)"/>
<rect x="20.83" y="16.47" width="4.67" height="4.62" fill="rgb(20,20,20)"/>
<rect x="25" y="16.47" width="4.67" height="4.62" fill="rgb(47,47,47)"/>
<rect x="29.17" y="16.47" width="4.67" height="4.62" fill="rgb(105,105,105)"/>
<rect x="33.33" y="16.47" width="4.67" height="4.62" fill="rgb(195,195,195)"/>
<rect x="37.5" y="16.47" width="4.67" height="4.62" fill="rgb(135,135,135)"/>
<rect x="41.67" y="16.47" width="4.67" height="4.62" fill="rgb(75,75,75)"/>
<rect x="45.83" y="16.47" width="4.67" height="4.62" fill="rgb(47,47,47)"/>
<rect x="0" y="20.58" width="4.67" height="4.62" fill="rgb(47,47,47)"/>
<rect x="4.17" y="20.58" width="4.67" height="4.62" fill="rgb(20,20,20)"/>
<rect x="8.33" y="20.58" width="4.67" height="4.62" fill="rgb(20,20,20)"/>
<rect x="12.5" y="20.58" width="4.67" height="4.62" fill="rgb(20,20,20)"/>
<rect x="16.67" y="20.58" width="4.67" height="4.62" fill="rgb(20,20,20)"/>
<rect x="20.83" y="20.58" width="4.67" height="4.62" fill="rgb(20,20,20)"/>
<rect x="25" y="20.58" width="4.67" height="4.62" fill="rgb(20,20,20)"/>
<rect x="29.17" y="20.58" width="4.67" height="4.62" fill="rgb(75,75,75)"/>
<rect x="33.33" y="20.58" width="4.67" height="4.62" fill="rgb(75,75,75)"/>
<rect x="37.5" y="20.58" width="4.67" height="4.62" fill="rgb(47,47,47)"/>
<rect x="41.67" y="20.58" width="4.67" height="4.62" fill="rgb(47,47,47)"/>
<rect x="45.83" y="20.58" width="4.67" height="4.62" fill="rgb(47,47,47)"/>
<rect x="0" y="24.7" width="4.67" height="4.62" fill="rgb(47,47,47)"/>
<rect x="4.17" y="24.7" width="4.67" height="4.62" fill="rgb(20,20,20)"/>
<rect x="8.33" y="24.7" width="4.67" height="4.62" fill="rgb(20,20,20)"/>
<rect x="12.5" y="24.7" width="4.67" height="4.62" fill="rgb(20,20,20)"/>
<rect x="16.67" y="24.7" width="4.67" height="4.62" fill="rgb(20,20,20)"/>
<rect x="20.83" y="24.7" width="4.67" height="4.62" fill="rgb(20,20,20)"/>
<rect x="25" y="24.7" width="4.67" height="4.62" fill="rgb(20,20,20)"/>
<rect x="29.17" y="24.7" width="4.67" height="4.62" fill="rgb(47,47,47)"/>
<rect x="33.33" y="24.7" width="4.67" height="4.62" fill="rgb(47,47,47)"/>
<rect x="37.5" y="24.7" width="4.67" height="4.62" fill="rgb(47,47,47)"/>
<rect x="41.67" y="24.7" width="4.67" height="4.62" fill="rgb(47,47,47)"/>
<rect x="45.83" y="24.7" width="4.67" height="4.62" fill="rgb(47,47,47)"/>
<rect x="0" y="28.82" width="4.67" height="4.62" fill="rgb(20,20,20)"/>
<rect x="4.17" y="28.82" width="4.67" height="4.62" fill="rgb(20,20,20)"/>
<rect x="8.33" y="28.82" width="4.67" height="4.62" fill="rgb(20,20,20)"/>
<rect x="12.5" y="28.82" width="4.67" height="4.62" fill="rgb(20,20,20)"/>
<rect x="16.67" y="28.82" width="4.67" height="4.62" fill="rgb(20,20,20)"/>
<rect x="20.83" y="28.82" width="4.67" height="4.62" fill="rgb(20,20,20)"/>
<rect x="25" y="28.82" width="4.67" height="4.62" fill="rgb(20,20,20)"/>
<rect x="29.17" y="28.82" width="4.67" height="4.62" fill="rgb(47,47,47)"/>
<rect x="33.33" y="28.82" width="4.67" height="4.62" fill="rgb(75,75,75)"/>
<rect x="37.5" y="28.82" width="4.67" height="4.62" fill="rgb(75,75,75)"/>
<rect x="41.67" y="28.82" width="4.67" height="4.62" fill="rgb(75,75,75)"/>
<rect x="45.83" y="28.82" width="4.67" height="4.62" fill="rgb(47,47,47)"/>
<rect x="0" y="32.93" width="4.67" height="4.62" fill="rgb(20,20,20)"/>
<rect x="4.17" y="32.93" width="4.67" height="4.62" fill="rgb(20,20,20)"/>
<rect x="8.33" y="32.93" width="4.67" height="4.62" fill="rgb(20,20,20)"/>
<rect x="12.5" y="32.93" width="4.67" height="4.62" fill="rgb(20,20,20)"/>
<rect x="16.67" y="32.93" width="4.67" height="4.62" fill="rgb(20,20,20)"/>
<rect x="20.83" y="32.93" width="4.67" height="4.62" fill="rgb(20,20,20)"/>
<rect x="25" y="32.93" width="4.67" height="4.62" fill="rgb(20,20,20)"/>
<rect x="29.17" y="32.93" width="4.67" height="4.62" fill="rgb(47,47,47)"/>
<rect x="33.33" y="32.93" width="4.67" height="4.62" fill="rgb(105,105,105)"/>
<rect x="37.5" y="32.93" width="4.67" height="4.62" fill="rgb(165,165,165)"/>
<rect x="41.67" y="32.93" width="4.67" height="4.62" fill="rgb(135,135,135)"/>
<rect x="45.83" y="32.93" width="4.67" height="4.62" fill="rgb(75,75,75)"/>
<rect x="0" y="37.05" width="4.67" height="4.62" fill="rgb(20,20,20)"/>
<rect x="4.17" y="37.05" width="4.67" height="4.62" fill="rgb(20,20,20)"/>
<rect x="8.33" y="37.05" width="4.67" height="4.62" fill="rgb(20,20,20)"/>
<rect x="12.5" y="37.05" width="4.67" height="4.62" fill="rgb(20,20,20)"/>
<rect x="16.67" y="37.05" width="4.67" height="4.62" fill="rgb(20,20,20)"/>
<rect x="20.83" y="37.05" width="4.67" height="4.62" fill="rgb(20,20,20)"/>
<rect x="25" y="37.05" width="4.67" height="4.62" fill="rgb(20,20,20)"/>
<rect x="29.17" y="37.05" width="4.67" height="4.62" fill="rgb(75,75,75)"/>
<rect x="33.33" y="37.05" width="4.67" height="4.62" fill="rgb(165,165,165)"/>
<rect x="37.5" y="37.05" width="4.67" height="4.62" fill="rgb(222,222,222)"/>
<rect x="41.67" y="37.05" width="4.67" height="4.62" fill="rgb(195,195,195)"/>
<rect x="45.83" y="37.05" width="4.67" height="4.62" fill="rgb(75,75,75)"/>
<rect x="0" y="41.17" width="4.67" height="4.62" fill="rgb(20,20,20)"/>
<rect x="4.17" y="41.17" width="4.67" height="4.62" fill="rgb(20,20,20)"/>
<rect x="8.33" y="41.17" width="4.67" height="4.62" fill="rgb(20,20,20)"/>
<rect x="12.5" y="41.17" width="4.67" height="4.62" fill="rgb(20,20,20)"/>
<rect x="16.67" y="41.17" width="4.67" height="4.62" fill="rgb(20,20,20)"/>
<rect x="20.83" y="41.17" width="4.67" height="4.62" fill="rgb(20,20,20)"/>
<rect x="25" y="41.17" width="4.67" height="4.62" fill="rgb(47,47,47)"/>
<rect x="29.17" y="41.17" width="4.67" height="4.62" fill="rgb(75,75,75)"/>
<rect x="33.33" y="41.17" width="4.67" height="4.62" fill="rgb(135,135,135)"/>
<rect x="37.5" y="41.17" width="4.67" height="4.62" fill="rgb(165,165,165)"/>
<rect x="41.67" y="41.17" width="4.67" height="4.62" fill="rgb(135,135,135)"/>
<rect x="45.83" y="41.17" width="4.67" height="4.62" fill="rgb(75,75,75)"/>
<rect x="0" y="45.28" width="4.67" height="4.62" fill="rgb(20,20,20)"/>
<rect x="4.17" y="45.28" width="4.67" height="4.62" fill="rgb(20,20,20)"/>
<rect x="8.33" y="45.28" width="4.67" height="4.62" fill="rgb(20,20,20)"/>
<rect x="12.5" y="45.28" width="4.67" height="4.62" fill="rgb(20,20,20)"/>
<rect x="16.67" y="45.28" width="4.67" height="4.62" fill="rgb(20,20,20)"/>
<rect x="20.83" y="45.28" width="4.67" height="4.62" fill="rgb(20,20,20)"/>
<rect x="25" y="45.28" width="4.67" height="4.62" fill="rgb(47,47,47)"/>
<rect x="29.17" y="45.28" width="4.67" height="4.62" fill="rgb(47,47,47)"/>
<rect x="33.33" y="45.28" width="4.67" height="4.62" fill="rgb(75,75,75)"/>
<rect x="37.5" y="45.28" width="4.67" height="4.62" fill="rgb(105,105,105)"/>
<rect x="41.67" y="45.28" width="4.67" height="4.62" fill="rgb(75,75,75)"/>
<rect x="45.83" y="45.28" width="4.67" height="4.62" fill="rgb(47,47,47)"/>
</g>
<rect x="0.5" y="0.5" width="49" height="48.4" fill="none" stroke="#333" stroke-width="1"/>
</svg>
<circle cx="601" cy="131.5" r="13.3" fill="none" stroke="#D81A1A" stroke-width="1.6"/>
<svg x="635.2" y="107" width="50" height="49.4" viewBox="0 0 50 49.4" overflow="hidden">
<g filter="url(#bl)" shape-rendering="crispEdges"><rect width="50" height="49.4" fill="#111"/>
<rect x="0" y="0" width="4.67" height="4.62" fill="rgb(20,20,20)"/>
<rect x="4.17" y="0" width="4.67" height="4.62" fill="rgb(20,20,20)"/>
<rect x="8.33" y="0" width="4.67" height="4.62" fill="rgb(20,20,20)"/>
<rect x="12.5" y="0" width="4.67" height="4.62" fill="rgb(20,20,20)"/>
<rect x="16.67" y="0" width="4.67" height="4.62" fill="rgb(20,20,20)"/>
<rect x="20.83" y="0" width="4.67" height="4.62" fill="rgb(20,20,20)"/>
<rect x="25" y="0" width="4.67" height="4.62" fill="rgb(20,20,20)"/>
<rect x="29.17" y="0" width="4.67" height="4.62" fill="rgb(47,47,47)"/>
<rect x="33.33" y="0" width="4.67" height="4.62" fill="rgb(75,75,75)"/>
<rect x="37.5" y="0" width="4.67" height="4.62" fill="rgb(135,135,135)"/>
<rect x="41.67" y="0" width="4.67" height="4.62" fill="rgb(165,165,165)"/>
<rect x="45.83" y="0" width="4.67" height="4.62" fill="rgb(195,195,195)"/>
<rect x="0" y="4.12" width="4.67" height="4.62" fill="rgb(20,20,20)"/>
<rect x="4.17" y="4.12" width="4.67" height="4.62" fill="rgb(20,20,20)"/>
<rect x="8.33" y="4.12" width="4.67" height="4.62" fill="rgb(20,20,20)"/>
<rect x="12.5" y="4.12" width="4.67" height="4.62" fill="rgb(20,20,20)"/>
<rect x="16.67" y="4.12" width="4.67" height="4.62" fill="rgb(20,20,20)"/>
<rect x="20.83" y="4.12" width="4.67" height="4.62" fill="rgb(20,20,20)"/>
<rect x="25" y="4.12" width="4.67" height="4.62" fill="rgb(20,20,20)"/>
<rect x="29.17" y="4.12" width="4.67" height="4.62" fill="rgb(47,47,47)"/>
<rect x="33.33" y="4.12" width="4.67" height="4.62" fill="rgb(105,105,105)"/>
<rect x="37.5" y="4.12" width="4.67" height="4.62" fill="rgb(165,165,165)"/>
<rect x="41.67" y="4.12" width="4.67" height="4.62" fill="rgb(195,195,195)"/>
<rect x="45.83" y="4.12" width="4.67" height="4.62" fill="rgb(135,135,135)"/>
<rect x="0" y="8.23" width="4.67" height="4.62" fill="rgb(20,20,20)"/>
<rect x="4.17" y="8.23" width="4.67" height="4.62" fill="rgb(20,20,20)"/>
<rect x="8.33" y="8.23" width="4.67" height="4.62" fill="rgb(20,20,20)"/>
<rect x="12.5" y="8.23" width="4.67" height="4.62" fill="rgb(20,20,20)"/>
<rect x="16.67" y="8.23" width="4.67" height="4.62" fill="rgb(20,20,20)"/>
<rect x="20.83" y="8.23" width="4.67" height="4.62" fill="rgb(20,20,20)"/>
<rect x="25" y="8.23" width="4.67" height="4.62" fill="rgb(47,47,47)"/>
<rect x="29.17" y="8.23" width="4.67" height="4.62" fill="rgb(75,75,75)"/>
<rect x="33.33" y="8.23" width="4.67" height="4.62" fill="rgb(165,165,165)"/>
<rect x="37.5" y="8.23" width="4.67" height="4.62" fill="rgb(222,222,222)"/>
<rect x="41.67" y="8.23" width="4.67" height="4.62" fill="rgb(165,165,165)"/>
<rect x="45.83" y="8.23" width="4.67" height="4.62" fill="rgb(75,75,75)"/>
<rect x="0" y="12.35" width="4.67" height="4.62" fill="rgb(20,20,20)"/>
<rect x="4.17" y="12.35" width="4.67" height="4.62" fill="rgb(20,20,20)"/>
<rect x="8.33" y="12.35" width="4.67" height="4.62" fill="rgb(20,20,20)"/>
<rect x="12.5" y="12.35" width="4.67" height="4.62" fill="rgb(20,20,20)"/>
<rect x="16.67" y="12.35" width="4.67" height="4.62" fill="rgb(47,47,47)"/>
<rect x="20.83" y="12.35" width="4.67" height="4.62" fill="rgb(47,47,47)"/>
<rect x="25" y="12.35" width="4.67" height="4.62" fill="rgb(75,75,75)"/>
<rect x="29.17" y="12.35" width="4.67" height="4.62" fill="rgb(75,75,75)"/>
<rect x="33.33" y="12.35" width="4.67" height="4.62" fill="rgb(105,105,105)"/>
<rect x="37.5" y="12.35" width="4.67" height="4.62" fill="rgb(195,195,195)"/>
<rect x="41.67" y="12.35" width="4.67" height="4.62" fill="rgb(135,135,135)"/>
<rect x="45.83" y="12.35" width="4.67" height="4.62" fill="rgb(75,75,75)"/>
<rect x="0" y="16.47" width="4.67" height="4.62" fill="rgb(20,20,20)"/>
<rect x="4.17" y="16.47" width="4.67" height="4.62" fill="rgb(20,20,20)"/>
<rect x="8.33" y="16.47" width="4.67" height="4.62" fill="rgb(20,20,20)"/>
<rect x="12.5" y="16.47" width="4.67" height="4.62" fill="rgb(20,20,20)"/>
<rect x="16.67" y="16.47" width="4.67" height="4.62" fill="rgb(75,75,75)"/>
<rect x="20.83" y="16.47" width="4.67" height="4.62" fill="rgb(135,135,135)"/>
<rect x="25" y="16.47" width="4.67" height="4.62" fill="rgb(105,105,105)"/>
<rect x="29.17" y="16.47" width="4.67" height="4.62" fill="rgb(75,75,75)"/>
<rect x="33.33" y="16.47" width="4.67" height="4.62" fill="rgb(75,75,75)"/>
<rect x="37.5" y="16.47" width="4.67" height="4.62" fill="rgb(75,75,75)"/>
<rect x="41.67" y="16.47" width="4.67" height="4.62" fill="rgb(47,47,47)"/>
<rect x="45.83" y="16.47" width="4.67" height="4.62" fill="rgb(47,47,47)"/>
<rect x="0" y="20.58" width="4.67" height="4.62" fill="rgb(20,20,20)"/>
<rect x="4.17" y="20.58" width="4.67" height="4.62" fill="rgb(20,20,20)"/>
<rect x="8.33" y="20.58" width="4.67" height="4.62" fill="rgb(20,20,20)"/>
<rect x="12.5" y="20.58" width="4.67" height="4.62" fill="rgb(20,20,20)"/>
<rect x="16.67" y="20.58" width="4.67" height="4.62" fill="rgb(75,75,75)"/>
<rect x="20.83" y="20.58" width="4.67" height="4.62" fill="rgb(165,165,165)"/>
<rect x="25" y="20.58" width="4.67" height="4.62" fill="rgb(165,165,165)"/>
<rect x="29.17" y="20.58" width="4.67" height="4.62" fill="rgb(105,105,105)"/>
<rect x="33.33" y="20.58" width="4.67" height="4.62" fill="rgb(75,75,75)"/>
<rect x="37.5" y="20.58" width="4.67" height="4.62" fill="rgb(47,47,47)"/>
<rect x="41.67" y="20.58" width="4.67" height="4.62" fill="rgb(47,47,47)"/>
<rect x="45.83" y="20.58" width="4.67" height="4.62" fill="rgb(47,47,47)"/>
<rect x="0" y="24.7" width="4.67" height="4.62" fill="rgb(20,20,20)"/>
<rect x="4.17" y="24.7" width="4.67" height="4.62" fill="rgb(20,20,20)"/>
<rect x="8.33" y="24.7" width="4.67" height="4.62" fill="rgb(20,20,20)"/>
<rect x="12.5" y="24.7" width="4.67" height="4.62" fill="rgb(20,20,20)"/>
<rect x="16.67" y="24.7" width="4.67" height="4.62" fill="rgb(47,47,47)"/>
<rect x="20.83" y="24.7" width="4.67" height="4.62" fill="rgb(105,105,105)"/>
<rect x="25" y="24.7" width="4.67" height="4.62" fill="rgb(105,105,105)"/>
<rect x="29.17" y="24.7" width="4.67" height="4.62" fill="rgb(75,75,75)"/>
<rect x="33.33" y="24.7" width="4.67" height="4.62" fill="rgb(47,47,47)"/>
<rect x="37.5" y="24.7" width="4.67" height="4.62" fill="rgb(47,47,47)"/>
<rect x="41.67" y="24.7" width="4.67" height="4.62" fill="rgb(47,47,47)"/>
<rect x="45.83" y="24.7" width="4.67" height="4.62" fill="rgb(47,47,47)"/>
<rect x="0" y="28.82" width="4.67" height="4.62" fill="rgb(20,20,20)"/>
<rect x="4.17" y="28.82" width="4.67" height="4.62" fill="rgb(20,20,20)"/>
<rect x="8.33" y="28.82" width="4.67" height="4.62" fill="rgb(20,20,20)"/>
<rect x="12.5" y="28.82" width="4.67" height="4.62" fill="rgb(20,20,20)"/>
<rect x="16.67" y="28.82" width="4.67" height="4.62" fill="rgb(20,20,20)"/>
<rect x="20.83" y="28.82" width="4.67" height="4.62" fill="rgb(47,47,47)"/>
<rect x="25" y="28.82" width="4.67" height="4.62" fill="rgb(47,47,47)"/>
<rect x="29.17" y="28.82" width="4.67" height="4.62" fill="rgb(47,47,47)"/>
<rect x="33.33" y="28.82" width="4.67" height="4.62" fill="rgb(47,47,47)"/>
<rect x="37.5" y="28.82" width="4.67" height="4.62" fill="rgb(75,75,75)"/>
<rect x="41.67" y="28.82" width="4.67" height="4.62" fill="rgb(75,75,75)"/>
<rect x="45.83" y="28.82" width="4.67" height="4.62" fill="rgb(47,47,47)"/>
<rect x="0" y="32.93" width="4.67" height="4.62" fill="rgb(20,20,20)"/>
<rect x="4.17" y="32.93" width="4.67" height="4.62" fill="rgb(20,20,20)"/>
<rect x="8.33" y="32.93" width="4.67" height="4.62" fill="rgb(20,20,20)"/>
<rect x="12.5" y="32.93" width="4.67" height="4.62" fill="rgb(20,20,20)"/>
<rect x="16.67" y="32.93" width="4.67" height="4.62" fill="rgb(20,20,20)"/>
<rect x="20.83" y="32.93" width="4.67" height="4.62" fill="rgb(20,20,20)"/>
<rect x="25" y="32.93" width="4.67" height="4.62" fill="rgb(20,20,20)"/>
<rect x="29.17" y="32.93" width="4.67" height="4.62" fill="rgb(47,47,47)"/>
<rect x="33.33" y="32.93" width="4.67" height="4.62" fill="rgb(105,105,105)"/>
<rect x="37.5" y="32.93" width="4.67" height="4.62" fill="rgb(165,165,165)"/>
<rect x="41.67" y="32.93" width="4.67" height="4.62" fill="rgb(135,135,135)"/>
<rect x="45.83" y="32.93" width="4.67" height="4.62" fill="rgb(75,75,75)"/>
<rect x="0" y="37.05" width="4.67" height="4.62" fill="rgb(20,20,20)"/>
<rect x="4.17" y="37.05" width="4.67" height="4.62" fill="rgb(20,20,20)"/>
<rect x="8.33" y="37.05" width="4.67" height="4.62" fill="rgb(20,20,20)"/>
<rect x="12.5" y="37.05" width="4.67" height="4.62" fill="rgb(20,20,20)"/>
<rect x="16.67" y="37.05" width="4.67" height="4.62" fill="rgb(20,20,20)"/>
<rect x="20.83" y="37.05" width="4.67" height="4.62" fill="rgb(20,20,20)"/>
<rect x="25" y="37.05" width="4.67" height="4.62" fill="rgb(20,20,20)"/>
<rect x="29.17" y="37.05" width="4.67" height="4.62" fill="rgb(47,47,47)"/>
<rect x="33.33" y="37.05" width="4.67" height="4.62" fill="rgb(135,135,135)"/>
<rect x="37.5" y="37.05" width="4.67" height="4.62" fill="rgb(222,222,222)"/>
<rect x="41.67" y="37.05" width="4.67" height="4.62" fill="rgb(165,165,165)"/>
<rect x="45.83" y="37.05" width="4.67" height="4.62" fill="rgb(75,75,75)"/>
<rect x="0" y="41.17" width="4.67" height="4.62" fill="rgb(20,20,20)"/>
<rect x="4.17" y="41.17" width="4.67" height="4.62" fill="rgb(20,20,20)"/>
<rect x="8.33" y="41.17" width="4.67" height="4.62" fill="rgb(20,20,20)"/>
<rect x="12.5" y="41.17" width="4.67" height="4.62" fill="rgb(20,20,20)"/>
<rect x="16.67" y="41.17" width="4.67" height="4.62" fill="rgb(20,20,20)"/>
<rect x="20.83" y="41.17" width="4.67" height="4.62" fill="rgb(20,20,20)"/>
<rect x="25" y="41.17" width="4.67" height="4.62" fill="rgb(20,20,20)"/>
<rect x="29.17" y="41.17" width="4.67" height="4.62" fill="rgb(47,47,47)"/>
<rect x="33.33" y="41.17" width="4.67" height="4.62" fill="rgb(105,105,105)"/>
<rect x="37.5" y="41.17" width="4.67" height="4.62" fill="rgb(165,165,165)"/>
<rect x="41.67" y="41.17" width="4.67" height="4.62" fill="rgb(135,135,135)"/>
<rect x="45.83" y="41.17" width="4.67" height="4.62" fill="rgb(75,75,75)"/>
<rect x="0" y="45.28" width="4.67" height="4.62" fill="rgb(20,20,20)"/>
<rect x="4.17" y="45.28" width="4.67" height="4.62" fill="rgb(20,20,20)"/>
<rect x="8.33" y="45.28" width="4.67" height="4.62" fill="rgb(20,20,20)"/>
<rect x="12.5" y="45.28" width="4.67" height="4.62" fill="rgb(20,20,20)"/>
<rect x="16.67" y="45.28" width="4.67" height="4.62" fill="rgb(20,20,20)"/>
<rect x="20.83" y="45.28" width="4.67" height="4.62" fill="rgb(20,20,20)"/>
<rect x="25" y="45.28" width="4.67" height="4.62" fill="rgb(20,20,20)"/>
<rect x="29.17" y="45.28" width="4.67" height="4.62" fill="rgb(47,47,47)"/>
<rect x="33.33" y="45.28" width="4.67" height="4.62" fill="rgb(75,75,75)"/>
<rect x="37.5" y="45.28" width="4.67" height="4.62" fill="rgb(105,105,105)"/>
<rect x="41.67" y="45.28" width="4.67" height="4.62" fill="rgb(75,75,75)"/>
<rect x="45.83" y="45.28" width="4.67" height="4.62" fill="rgb(47,47,47)"/>
</g>
<rect x="0.5" y="0.5" width="49" height="48.4" fill="none" stroke="#333" stroke-width="1"/>
</svg>
<circle cx="659.9" cy="131.5" r="13.3" fill="none" stroke="#D81A1A" stroke-width="1.6"/>
<svg x="458" y="177" width="50" height="49.4" viewBox="0 0 50 49.4" overflow="hidden">
<g filter="url(#bl)" shape-rendering="crispEdges"><rect width="50" height="49.4" fill="#111"/>
<rect x="0" y="0" width="4.67" height="4.62" fill="rgb(20,20,20)"/>
<rect x="4.17" y="0" width="4.67" height="4.62" fill="rgb(47,47,47)"/>
<rect x="8.33" y="0" width="4.67" height="4.62" fill="rgb(47,47,47)"/>
<rect x="12.5" y="0" width="4.67" height="4.62" fill="rgb(20,20,20)"/>
<rect x="16.67" y="0" width="4.67" height="4.62" fill="rgb(20,20,20)"/>
<rect x="20.83" y="0" width="4.67" height="4.62" fill="rgb(47,47,47)"/>
<rect x="25" y="0" width="4.67" height="4.62" fill="rgb(105,105,105)"/>
<rect x="29.17" y="0" width="4.67" height="4.62" fill="rgb(135,135,135)"/>
<rect x="33.33" y="0" width="4.67" height="4.62" fill="rgb(75,75,75)"/>
<rect x="37.5" y="0" width="4.67" height="4.62" fill="rgb(47,47,47)"/>
<rect x="41.67" y="0" width="4.67" height="4.62" fill="rgb(105,105,105)"/>
<rect x="45.83" y="0" width="4.67" height="4.62" fill="rgb(75,75,75)"/>
<rect x="0" y="4.12" width="4.67" height="4.62" fill="rgb(20,20,20)"/>
<rect x="4.17" y="4.12" width="4.67" height="4.62" fill="rgb(47,47,47)"/>
<rect x="8.33" y="4.12" width="4.67" height="4.62" fill="rgb(47,47,47)"/>
<rect x="12.5" y="4.12" width="4.67" height="4.62" fill="rgb(20,20,20)"/>
<rect x="16.67" y="4.12" width="4.67" height="4.62" fill="rgb(20,20,20)"/>
<rect x="20.83" y="4.12" width="4.67" height="4.62" fill="rgb(20,20,20)"/>
<rect x="25" y="4.12" width="4.67" height="4.62" fill="rgb(75,75,75)"/>
<rect x="29.17" y="4.12" width="4.67" height="4.62" fill="rgb(75,75,75)"/>
<rect x="33.33" y="4.12" width="4.67" height="4.62" fill="rgb(75,75,75)"/>
<rect x="37.5" y="4.12" width="4.67" height="4.62" fill="rgb(75,75,75)"/>
<rect x="41.67" y="4.12" width="4.67" height="4.62" fill="rgb(75,75,75)"/>
<rect x="45.83" y="4.12" width="4.67" height="4.62" fill="rgb(75,75,75)"/>
<rect x="0" y="8.23" width="4.67" height="4.62" fill="rgb(20,20,20)"/>
<rect x="4.17" y="8.23" width="4.67" height="4.62" fill="rgb(47,47,47)"/>
<rect x="8.33" y="8.23" width="4.67" height="4.62" fill="rgb(20,20,20)"/>
<rect x="12.5" y="8.23" width="4.67" height="4.62" fill="rgb(20,20,20)"/>
<rect x="16.67" y="8.23" width="4.67" height="4.62" fill="rgb(20,20,20)"/>
<rect x="20.83" y="8.23" width="4.67" height="4.62" fill="rgb(20,20,20)"/>
<rect x="25" y="8.23" width="4.67" height="4.62" fill="rgb(47,47,47)"/>
<rect x="29.17" y="8.23" width="4.67" height="4.62" fill="rgb(47,47,47)"/>
<rect x="33.33" y="8.23" width="4.67" height="4.62" fill="rgb(47,47,47)"/>
<rect x="37.5" y="8.23" width="4.67" height="4.62" fill="rgb(75,75,75)"/>
<rect x="41.67" y="8.23" width="4.67" height="4.62" fill="rgb(75,75,75)"/>
<rect x="45.83" y="8.23" width="4.67" height="4.62" fill="rgb(75,75,75)"/>
<rect x="0" y="12.35" width="4.67" height="4.62" fill="rgb(20,20,20)"/>
<rect x="4.17" y="12.35" width="4.67" height="4.62" fill="rgb(47,47,47)"/>
<rect x="8.33" y="12.35" width="4.67" height="4.62" fill="rgb(20,20,20)"/>
<rect x="12.5" y="12.35" width="4.67" height="4.62" fill="rgb(20,20,20)"/>
<rect x="16.67" y="12.35" width="4.67" height="4.62" fill="rgb(20,20,20)"/>
<rect x="20.83" y="12.35" width="4.67" height="4.62" fill="rgb(20,20,20)"/>
<rect x="25" y="12.35" width="4.67" height="4.62" fill="rgb(20,20,20)"/>
<rect x="29.17" y="12.35" width="4.67" height="4.62" fill="rgb(20,20,20)"/>
<rect x="33.33" y="12.35" width="4.67" height="4.62" fill="rgb(47,47,47)"/>
<rect x="37.5" y="12.35" width="4.67" height="4.62" fill="rgb(135,135,135)"/>
<rect x="41.67" y="12.35" width="4.67" height="4.62" fill="rgb(195,195,195)"/>
<rect x="45.83" y="12.35" width="4.67" height="4.62" fill="rgb(135,135,135)"/>
<rect x="0" y="16.47" width="4.67" height="4.62" fill="rgb(75,75,75)"/>
<rect x="4.17" y="16.47" width="4.67" height="4.62" fill="rgb(105,105,105)"/>
<rect x="8.33" y="16.47" width="4.67" height="4.62" fill="rgb(75,75,75)"/>
<rect x="12.5" y="16.47" width="4.67" height="4.62" fill="rgb(20,20,20)"/>
<rect x="16.67" y="16.47" width="4.67" height="4.62" fill="rgb(20,20,20)"/>
<rect x="20.83" y="16.47" width="4.67" height="4.62" fill="rgb(20,20,20)"/>
<rect x="25" y="16.47" width="4.67" height="4.62" fill="rgb(20,20,20)"/>
<rect x="29.17" y="16.47" width="4.67" height="4.62" fill="rgb(20,20,20)"/>
<rect x="33.33" y="16.47" width="4.67" height="4.62" fill="rgb(47,47,47)"/>
<rect x="37.5" y="16.47" width="4.67" height="4.62" fill="rgb(105,105,105)"/>
<rect x="41.67" y="16.47" width="4.67" height="4.62" fill="rgb(165,165,165)"/>
<rect x="45.83" y="16.47" width="4.67" height="4.62" fill="rgb(135,135,135)"/>
<rect x="0" y="20.58" width="4.67" height="4.62" fill="rgb(75,75,75)"/>
<rect x="4.17" y="20.58" width="4.67" height="4.62" fill="rgb(105,105,105)"/>
<rect x="8.33" y="20.58" width="4.67" height="4.62" fill="rgb(75,75,75)"/>
<rect x="12.5" y="20.58" width="4.67" height="4.62" fill="rgb(20,20,20)"/>
<rect x="16.67" y="20.58" width="4.67" height="4.62" fill="rgb(20,20,20)"/>
<rect x="20.83" y="20.58" width="4.67" height="4.62" fill="rgb(20,20,20)"/>
<rect x="25" y="20.58" width="4.67" height="4.62" fill="rgb(20,20,20)"/>
<rect x="29.17" y="20.58" width="4.67" height="4.62" fill="rgb(20,20,20)"/>
<rect x="33.33" y="20.58" width="4.67" height="4.62" fill="rgb(47,47,47)"/>
<rect x="37.5" y="20.58" width="4.67" height="4.62" fill="rgb(75,75,75)"/>
<rect x="41.67" y="20.58" width="4.67" height="4.62" fill="rgb(75,75,75)"/>
<rect x="45.83" y="20.58" width="4.67" height="4.62" fill="rgb(75,75,75)"/>
<rect x="0" y="24.7" width="4.67" height="4.62" fill="rgb(20,20,20)"/>
<rect x="4.17" y="24.7" width="4.67" height="4.62" fill="rgb(20,20,20)"/>
<rect x="8.33" y="24.7" width="4.67" height="4.62" fill="rgb(20,20,20)"/>
<rect x="12.5" y="24.7" width="4.67" height="4.62" fill="rgb(20,20,20)"/>
<rect x="16.67" y="24.7" width="4.67" height="4.62" fill="rgb(20,20,20)"/>
<rect x="20.83" y="24.7" width="4.67" height="4.62" fill="rgb(20,20,20)"/>
<rect x="25" y="24.7" width="4.67" height="4.62" fill="rgb(20,20,20)"/>
<rect x="29.17" y="24.7" width="4.67" height="4.62" fill="rgb(20,20,20)"/>
<rect x="33.33" y="24.7" width="4.67" height="4.62" fill="rgb(47,47,47)"/>
<rect x="37.5" y="24.7" width="4.67" height="4.62" fill="rgb(75,75,75)"/>
<rect x="41.67" y="24.7" width="4.67" height="4.62" fill="rgb(75,75,75)"/>
<rect x="45.83" y="24.7" width="4.67" height="4.62" fill="rgb(75,75,75)"/>
<rect x="0" y="28.82" width="4.67" height="4.62" fill="rgb(20,20,20)"/>
<rect x="4.17" y="28.82" width="4.67" height="4.62" fill="rgb(20,20,20)"/>
<rect x="8.33" y="28.82" width="4.67" height="4.62" fill="rgb(20,20,20)"/>
<rect x="12.5" y="28.82" width="4.67" height="4.62" fill="rgb(20,20,20)"/>
<rect x="16.67" y="28.82" width="4.67" height="4.62" fill="rgb(20,20,20)"/>
<rect x="20.83" y="28.82" width="4.67" height="4.62" fill="rgb(20,20,20)"/>
<rect x="25" y="28.82" width="4.67" height="4.62" fill="rgb(20,20,20)"/>
<rect x="29.17" y="28.82" width="4.67" height="4.62" fill="rgb(20,20,20)"/>
<rect x="33.33" y="28.82" width="4.67" height="4.62" fill="rgb(47,47,47)"/>
<rect x="37.5" y="28.82" width="4.67" height="4.62" fill="rgb(135,135,135)"/>
<rect x="41.67" y="28.82" width="4.67" height="4.62" fill="rgb(135,135,135)"/>
<rect x="45.83" y="28.82" width="4.67" height="4.62" fill="rgb(105,105,105)"/>
<rect x="0" y="32.93" width="4.67" height="4.62" fill="rgb(20,20,20)"/>
<rect x="4.17" y="32.93" width="4.67" height="4.62" fill="rgb(20,20,20)"/>
<rect x="8.33" y="32.93" width="4.67" height="4.62" fill="rgb(20,20,20)"/>
<rect x="12.5" y="32.93" width="4.67" height="4.62" fill="rgb(20,20,20)"/>
<rect x="16.67" y="32.93" width="4.67" height="4.62" fill="rgb(20,20,20)"/>
<rect x="20.83" y="32.93" width="4.67" height="4.62" fill="rgb(20,20,20)"/>
<rect x="25" y="32.93" width="4.67" height="4.62" fill="rgb(20,20,20)"/>
<rect x="29.17" y="32.93" width="4.67" height="4.62" fill="rgb(20,20,20)"/>
<rect x="33.33" y="32.93" width="4.67" height="4.62" fill="rgb(47,47,47)"/>
<rect x="37.5" y="32.93" width="4.67" height="4.62" fill="rgb(165,165,165)"/>
<rect x="41.67" y="32.93" width="4.67" height="4.62" fill="rgb(195,195,195)"/>
<rect x="45.83" y="32.93" width="4.67" height="4.62" fill="rgb(105,105,105)"/>
<rect x="0" y="37.05" width="4.67" height="4.62" fill="rgb(20,20,20)"/>
<rect x="4.17" y="37.05" width="4.67" height="4.62" fill="rgb(20,20,20)"/>
<rect x="8.33" y="37.05" width="4.67" height="4.62" fill="rgb(20,20,20)"/>
<rect x="12.5" y="37.05" width="4.67" height="4.62" fill="rgb(20,20,20)"/>
<rect x="16.67" y="37.05" width="4.67" height="4.62" fill="rgb(20,20,20)"/>
<rect x="20.83" y="37.05" width="4.67" height="4.62" fill="rgb(20,20,20)"/>
<rect x="25" y="37.05" width="4.67" height="4.62" fill="rgb(20,20,20)"/>
<rect x="29.17" y="37.05" width="4.67" height="4.62" fill="rgb(20,20,20)"/>
<rect x="33.33" y="37.05" width="4.67" height="4.62" fill="rgb(47,47,47)"/>
<rect x="37.5" y="37.05" width="4.67" height="4.62" fill="rgb(105,105,105)"/>
<rect x="41.67" y="37.05" width="4.67" height="4.62" fill="rgb(105,105,105)"/>
<rect x="45.83" y="37.05" width="4.67" height="4.62" fill="rgb(75,75,75)"/>
<rect x="0" y="41.17" width="4.67" height="4.62" fill="rgb(105,105,105)"/>
<rect x="4.17" y="41.17" width="4.67" height="4.62" fill="rgb(105,105,105)"/>
<rect x="8.33" y="41.17" width="4.67" height="4.62" fill="rgb(75,75,75)"/>
<rect x="12.5" y="41.17" width="4.67" height="4.62" fill="rgb(47,47,47)"/>
<rect x="16.67" y="41.17" width="4.67" height="4.62" fill="rgb(47,47,47)"/>
<rect x="20.83" y="41.17" width="4.67" height="4.62" fill="rgb(47,47,47)"/>
<rect x="25" y="41.17" width="4.67" height="4.62" fill="rgb(47,47,47)"/>
<rect x="29.17" y="41.17" width="4.67" height="4.62" fill="rgb(20,20,20)"/>
<rect x="33.33" y="41.17" width="4.67" height="4.62" fill="rgb(20,20,20)"/>
<rect x="37.5" y="41.17" width="4.67" height="4.62" fill="rgb(20,20,20)"/>
<rect x="41.67" y="41.17" width="4.67" height="4.62" fill="rgb(20,20,20)"/>
<rect x="45.83" y="41.17" width="4.67" height="4.62" fill="rgb(20,20,20)"/>
<rect x="0" y="45.28" width="4.67" height="4.62" fill="rgb(105,105,105)"/>
<rect x="4.17" y="45.28" width="4.67" height="4.62" fill="rgb(135,135,135)"/>
<rect x="8.33" y="45.28" width="4.67" height="4.62" fill="rgb(105,105,105)"/>
<rect x="12.5" y="45.28" width="4.67" height="4.62" fill="rgb(105,105,105)"/>
<rect x="16.67" y="45.28" width="4.67" height="4.62" fill="rgb(75,75,75)"/>
<rect x="20.83" y="45.28" width="4.67" height="4.62" fill="rgb(47,47,47)"/>
<rect x="25" y="45.28" width="4.67" height="4.62" fill="rgb(47,47,47)"/>
<rect x="29.17" y="45.28" width="4.67" height="4.62" fill="rgb(20,20,20)"/>
<rect x="33.33" y="45.28" width="4.67" height="4.62" fill="rgb(20,20,20)"/>
<rect x="37.5" y="45.28" width="4.67" height="4.62" fill="rgb(4,4,4)"/>
<rect x="41.67" y="45.28" width="4.67" height="4.62" fill="rgb(4,4,4)"/>
<rect x="45.83" y="45.28" width="4.67" height="4.62" fill="rgb(20,20,20)"/>
</g>
<rect x="0.5" y="0.5" width="49" height="48.4" fill="none" stroke="#333" stroke-width="1"/>
</svg>
<circle cx="482" cy="201.1" r="13.3" fill="none" stroke="#D81A1A" stroke-width="1.6"/>
<svg x="516.2" y="177" width="50" height="49.4" viewBox="0 0 50 49.4" overflow="hidden">
<g filter="url(#bl)" shape-rendering="crispEdges"><rect width="50" height="49.4" fill="#111"/>
<rect x="0" y="0" width="4.67" height="4.62" fill="rgb(47,47,47)"/>
<rect x="4.17" y="0" width="4.67" height="4.62" fill="rgb(47,47,47)"/>
<rect x="8.33" y="0" width="4.67" height="4.62" fill="rgb(47,47,47)"/>
<rect x="12.5" y="0" width="4.67" height="4.62" fill="rgb(20,20,20)"/>
<rect x="16.67" y="0" width="4.67" height="4.62" fill="rgb(75,75,75)"/>
<rect x="20.83" y="0" width="4.67" height="4.62" fill="rgb(195,195,195)"/>
<rect x="25" y="0" width="4.67" height="4.62" fill="rgb(165,165,165)"/>
<rect x="29.17" y="0" width="4.67" height="4.62" fill="rgb(75,75,75)"/>
<rect x="33.33" y="0" width="4.67" height="4.62" fill="rgb(75,75,75)"/>
<rect x="37.5" y="0" width="4.67" height="4.62" fill="rgb(165,165,165)"/>
<rect x="41.67" y="0" width="4.67" height="4.62" fill="rgb(105,105,105)"/>
<rect x="45.83" y="0" width="4.67" height="4.62" fill="rgb(47,47,47)"/>
<rect x="0" y="4.12" width="4.67" height="4.62" fill="rgb(20,20,20)"/>
<rect x="4.17" y="4.12" width="4.67" height="4.62" fill="rgb(20,20,20)"/>
<rect x="8.33" y="4.12" width="4.67" height="4.62" fill="rgb(20,20,20)"/>
<rect x="12.5" y="4.12" width="4.67" height="4.62" fill="rgb(20,20,20)"/>
<rect x="16.67" y="4.12" width="4.67" height="4.62" fill="rgb(75,75,75)"/>
<rect x="20.83" y="4.12" width="4.67" height="4.62" fill="rgb(165,165,165)"/>
<rect x="25" y="4.12" width="4.67" height="4.62" fill="rgb(135,135,135)"/>
<rect x="29.17" y="4.12" width="4.67" height="4.62" fill="rgb(75,75,75)"/>
<rect x="33.33" y="4.12" width="4.67" height="4.62" fill="rgb(75,75,75)"/>
<rect x="37.5" y="4.12" width="4.67" height="4.62" fill="rgb(135,135,135)"/>
<rect x="41.67" y="4.12" width="4.67" height="4.62" fill="rgb(105,105,105)"/>
<rect x="45.83" y="4.12" width="4.67" height="4.62" fill="rgb(47,47,47)"/>
<rect x="0" y="8.23" width="4.67" height="4.62" fill="rgb(20,20,20)"/>
<rect x="4.17" y="8.23" width="4.67" height="4.62" fill="rgb(20,20,20)"/>
<rect x="8.33" y="8.23" width="4.67" height="4.62" fill="rgb(20,20,20)"/>
<rect x="12.5" y="8.23" width="4.67" height="4.62" fill="rgb(20,20,20)"/>
<rect x="16.67" y="8.23" width="4.67" height="4.62" fill="rgb(47,47,47)"/>
<rect x="20.83" y="8.23" width="4.67" height="4.62" fill="rgb(47,47,47)"/>
<rect x="25" y="8.23" width="4.67" height="4.62" fill="rgb(47,47,47)"/>
<rect x="29.17" y="8.23" width="4.67" height="4.62" fill="rgb(47,47,47)"/>
<rect x="33.33" y="8.23" width="4.67" height="4.62" fill="rgb(47,47,47)"/>
<rect x="37.5" y="8.23" width="4.67" height="4.62" fill="rgb(47,47,47)"/>
<rect x="41.67" y="8.23" width="4.67" height="4.62" fill="rgb(47,47,47)"/>
<rect x="45.83" y="8.23" width="4.67" height="4.62" fill="rgb(47,47,47)"/>
<rect x="0" y="12.35" width="4.67" height="4.62" fill="rgb(20,20,20)"/>
<rect x="4.17" y="12.35" width="4.67" height="4.62" fill="rgb(20,20,20)"/>
<rect x="8.33" y="12.35" width="4.67" height="4.62" fill="rgb(20,20,20)"/>
<rect x="12.5" y="12.35" width="4.67" height="4.62" fill="rgb(47,47,47)"/>
<rect x="16.67" y="12.35" width="4.67" height="4.62" fill="rgb(75,75,75)"/>
<rect x="20.83" y="12.35" width="4.67" height="4.62" fill="rgb(75,75,75)"/>
<rect x="25" y="12.35" width="4.67" height="4.62" fill="rgb(47,47,47)"/>
<rect x="29.17" y="12.35" width="4.67" height="4.62" fill="rgb(75,75,75)"/>
<rect x="33.33" y="12.35" width="4.67" height="4.62" fill="rgb(105,105,105)"/>
<rect x="37.5" y="12.35" width="4.67" height="4.62" fill="rgb(105,105,105)"/>
<rect x="41.67" y="12.35" width="4.67" height="4.62" fill="rgb(75,75,75)"/>
<rect x="45.83" y="12.35" width="4.67" height="4.62" fill="rgb(47,47,47)"/>
<rect x="0" y="16.47" width="4.67" height="4.62" fill="rgb(20,20,20)"/>
<rect x="4.17" y="16.47" width="4.67" height="4.62" fill="rgb(20,20,20)"/>
<rect x="8.33" y="16.47" width="4.67" height="4.62" fill="rgb(20,20,20)"/>
<rect x="12.5" y="16.47" width="4.67" height="4.62" fill="rgb(47,47,47)"/>
<rect x="16.67" y="16.47" width="4.67" height="4.62" fill="rgb(75,75,75)"/>
<rect x="20.83" y="16.47" width="4.67" height="4.62" fill="rgb(75,75,75)"/>
<rect x="25" y="16.47" width="4.67" height="4.62" fill="rgb(75,75,75)"/>
<rect x="29.17" y="16.47" width="4.67" height="4.62" fill="rgb(75,75,75)"/>
<rect x="33.33" y="16.47" width="4.67" height="4.62" fill="rgb(135,135,135)"/>
<rect x="37.5" y="16.47" width="4.67" height="4.62" fill="rgb(165,165,165)"/>
<rect x="41.67" y="16.47" width="4.67" height="4.62" fill="rgb(105,105,105)"/>
<rect x="45.83" y="16.47" width="4.67" height="4.62" fill="rgb(47,47,47)"/>
<rect x="0" y="20.58" width="4.67" height="4.62" fill="rgb(47,47,47)"/>
<rect x="4.17" y="20.58" width="4.67" height="4.62" fill="rgb(20,20,20)"/>
<rect x="8.33" y="20.58" width="4.67" height="4.62" fill="rgb(20,20,20)"/>
<rect x="12.5" y="20.58" width="4.67" height="4.62" fill="rgb(75,75,75)"/>
<rect x="16.67" y="20.58" width="4.67" height="4.62" fill="rgb(165,165,165)"/>
<rect x="20.83" y="20.58" width="4.67" height="4.62" fill="rgb(165,165,165)"/>
<rect x="25" y="20.58" width="4.67" height="4.62" fill="rgb(75,75,75)"/>
<rect x="29.17" y="20.58" width="4.67" height="4.62" fill="rgb(75,75,75)"/>
<rect x="33.33" y="20.58" width="4.67" height="4.62" fill="rgb(135,135,135)"/>
<rect x="37.5" y="20.58" width="4.67" height="4.62" fill="rgb(135,135,135)"/>
<rect x="41.67" y="20.58" width="4.67" height="4.62" fill="rgb(75,75,75)"/>
<rect x="45.83" y="20.58" width="4.67" height="4.62" fill="rgb(47,47,47)"/>
<rect x="0" y="24.7" width="4.67" height="4.62" fill="rgb(47,47,47)"/>
<rect x="4.17" y="24.7" width="4.67" height="4.62" fill="rgb(20,20,20)"/>
<rect x="8.33" y="24.7" width="4.67" height="4.62" fill="rgb(20,20,20)"/>
<rect x="12.5" y="24.7" width="4.67" height="4.62" fill="rgb(75,75,75)"/>
<rect x="16.67" y="24.7" width="4.67" height="4.62" fill="rgb(165,165,165)"/>
<rect x="20.83" y="24.7" width="4.67" height="4.62" fill="rgb(165,165,165)"/>
<rect x="25" y="24.7" width="4.67" height="4.62" fill="rgb(75,75,75)"/>
<rect x="29.17" y="24.7" width="4.67" height="4.62" fill="rgb(47,47,47)"/>
<rect x="33.33" y="24.7" width="4.67" height="4.62" fill="rgb(105,105,105)"/>
<rect x="37.5" y="24.7" width="4.67" height="4.62" fill="rgb(105,105,105)"/>
<rect x="41.67" y="24.7" width="4.67" height="4.62" fill="rgb(75,75,75)"/>
<rect x="45.83" y="24.7" width="4.67" height="4.62" fill="rgb(20,20,20)"/>
<rect x="0" y="28.82" width="4.67" height="4.62" fill="rgb(20,20,20)"/>
<rect x="4.17" y="28.82" width="4.67" height="4.62" fill="rgb(20,20,20)"/>
<rect x="8.33" y="28.82" width="4.67" height="4.62" fill="rgb(20,20,20)"/>
<rect x="12.5" y="28.82" width="4.67" height="4.62" fill="rgb(47,47,47)"/>
<rect x="16.67" y="28.82" width="4.67" height="4.62" fill="rgb(75,75,75)"/>
<rect x="20.83" y="28.82" width="4.67" height="4.62" fill="rgb(75,75,75)"/>
<rect x="25" y="28.82" width="4.67" height="4.62" fill="rgb(47,47,47)"/>
<rect x="29.17" y="28.82" width="4.67" height="4.62" fill="rgb(47,47,47)"/>
<rect x="33.33" y="28.82" width="4.67" height="4.62" fill="rgb(47,47,47)"/>
<rect x="37.5" y="28.82" width="4.67" height="4.62" fill="rgb(47,47,47)"/>
<rect x="41.67" y="28.82" width="4.67" height="4.62" fill="rgb(47,47,47)"/>
<rect x="45.83" y="28.82" width="4.67" height="4.62" fill="rgb(20,20,20)"/>
<rect x="0" y="32.93" width="4.67" height="4.62" fill="rgb(20,20,20)"/>
<rect x="4.17" y="32.93" width="4.67" height="4.62" fill="rgb(20,20,20)"/>
<rect x="8.33" y="32.93" width="4.67" height="4.62" fill="rgb(20,20,20)"/>
<rect x="12.5" y="32.93" width="4.67" height="4.62" fill="rgb(20,20,20)"/>
<rect x="16.67" y="32.93" width="4.67" height="4.62" fill="rgb(47,47,47)"/>
<rect x="20.83" y="32.93" width="4.67" height="4.62" fill="rgb(47,47,47)"/>
<rect x="25" y="32.93" width="4.67" height="4.62" fill="rgb(47,47,47)"/>
<rect x="29.17" y="32.93" width="4.67" height="4.62" fill="rgb(75,75,75)"/>
<rect x="33.33" y="32.93" width="4.67" height="4.62" fill="rgb(105,105,105)"/>
<rect x="37.5" y="32.93" width="4.67" height="4.62" fill="rgb(105,105,105)"/>
<rect x="41.67" y="32.93" width="4.67" height="4.62" fill="rgb(47,47,47)"/>
<rect x="45.83" y="32.93" width="4.67" height="4.62" fill="rgb(20,20,20)"/>
<rect x="0" y="37.05" width="4.67" height="4.62" fill="rgb(20,20,20)"/>
<rect x="4.17" y="37.05" width="4.67" height="4.62" fill="rgb(20,20,20)"/>
<rect x="8.33" y="37.05" width="4.67" height="4.62" fill="rgb(20,20,20)"/>
<rect x="12.5" y="37.05" width="4.67" height="4.62" fill="rgb(20,20,20)"/>
<rect x="16.67" y="37.05" width="4.67" height="4.62" fill="rgb(20,20,20)"/>
<rect x="20.83" y="37.05" width="4.67" height="4.62" fill="rgb(47,47,47)"/>
<rect x="25" y="37.05" width="4.67" height="4.62" fill="rgb(47,47,47)"/>
<rect x="29.17" y="37.05" width="4.67" height="4.62" fill="rgb(75,75,75)"/>
<rect x="33.33" y="37.05" width="4.67" height="4.62" fill="rgb(165,165,165)"/>
<rect x="37.5" y="37.05" width="4.67" height="4.62" fill="rgb(165,165,165)"/>
<rect x="41.67" y="37.05" width="4.67" height="4.62" fill="rgb(75,75,75)"/>
<rect x="45.83" y="37.05" width="4.67" height="4.62" fill="rgb(20,20,20)"/>
<rect x="0" y="41.17" width="4.67" height="4.62" fill="rgb(20,20,20)"/>
<rect x="4.17" y="41.17" width="4.67" height="4.62" fill="rgb(20,20,20)"/>
<rect x="8.33" y="41.17" width="4.67" height="4.62" fill="rgb(20,20,20)"/>
<rect x="12.5" y="41.17" width="4.67" height="4.62" fill="rgb(20,20,20)"/>
<rect x="16.67" y="41.17" width="4.67" height="4.62" fill="rgb(20,20,20)"/>
<rect x="20.83" y="41.17" width="4.67" height="4.62" fill="rgb(47,47,47)"/>
<rect x="25" y="41.17" width="4.67" height="4.62" fill="rgb(47,47,47)"/>
<rect x="29.17" y="41.17" width="4.67" height="4.62" fill="rgb(75,75,75)"/>
<rect x="33.33" y="41.17" width="4.67" height="4.62" fill="rgb(135,135,135)"/>
<rect x="37.5" y="41.17" width="4.67" height="4.62" fill="rgb(135,135,135)"/>
<rect x="41.67" y="41.17" width="4.67" height="4.62" fill="rgb(47,47,47)"/>
<rect x="45.83" y="41.17" width="4.67" height="4.62" fill="rgb(20,20,20)"/>
<rect x="0" y="45.28" width="4.67" height="4.62" fill="rgb(75,75,75)"/>
<rect x="4.17" y="45.28" width="4.67" height="4.62" fill="rgb(47,47,47)"/>
<rect x="8.33" y="45.28" width="4.67" height="4.62" fill="rgb(47,47,47)"/>
<rect x="12.5" y="45.28" width="4.67" height="4.62" fill="rgb(47,47,47)"/>
<rect x="16.67" y="45.28" width="4.67" height="4.62" fill="rgb(47,47,47)"/>
<rect x="20.83" y="45.28" width="4.67" height="4.62" fill="rgb(47,47,47)"/>
<rect x="25" y="45.28" width="4.67" height="4.62" fill="rgb(47,47,47)"/>
<rect x="29.17" y="45.28" width="4.67" height="4.62" fill="rgb(47,47,47)"/>
<rect x="33.33" y="45.28" width="4.67" height="4.62" fill="rgb(47,47,47)"/>
<rect x="37.5" y="45.28" width="4.67" height="4.62" fill="rgb(47,47,47)"/>
<rect x="41.67" y="45.28" width="4.67" height="4.62" fill="rgb(20,20,20)"/>
<rect x="45.83" y="45.28" width="4.67" height="4.62" fill="rgb(20,20,20)"/>
</g>
<rect x="0.5" y="0.5" width="49" height="48.4" fill="none" stroke="#333" stroke-width="1"/>
</svg>
<circle cx="540.8" cy="201.1" r="13.3" fill="none" stroke="#D81A1A" stroke-width="1.6"/>
<svg x="574.8" y="177" width="50" height="49.4" viewBox="0 0 50 49.4" overflow="hidden">
<g filter="url(#bl)" shape-rendering="crispEdges"><rect width="50" height="49.4" fill="#111"/>
<rect x="0" y="0" width="4.67" height="4.62" fill="rgb(20,20,20)"/>
<rect x="4.17" y="0" width="4.67" height="4.62" fill="rgb(47,47,47)"/>
<rect x="8.33" y="0" width="4.67" height="4.62" fill="rgb(47,47,47)"/>
<rect x="12.5" y="0" width="4.67" height="4.62" fill="rgb(20,20,20)"/>
<rect x="16.67" y="0" width="4.67" height="4.62" fill="rgb(20,20,20)"/>
<rect x="20.83" y="0" width="4.67" height="4.62" fill="rgb(47,47,47)"/>
<rect x="25" y="0" width="4.67" height="4.62" fill="rgb(135,135,135)"/>
<rect x="29.17" y="0" width="4.67" height="4.62" fill="rgb(222,222,222)"/>
<rect x="33.33" y="0" width="4.67" height="4.62" fill="rgb(135,135,135)"/>
<rect x="37.5" y="0" width="4.67" height="4.62" fill="rgb(75,75,75)"/>
<rect x="41.67" y="0" width="4.67" height="4.62" fill="rgb(105,105,105)"/>
<rect x="45.83" y="0" width="4.67" height="4.62" fill="rgb(105,105,105)"/>
<rect x="0" y="4.12" width="4.67" height="4.62" fill="rgb(20,20,20)"/>
<rect x="4.17" y="4.12" width="4.67" height="4.62" fill="rgb(20,20,20)"/>
<rect x="8.33" y="4.12" width="4.67" height="4.62" fill="rgb(20,20,20)"/>
<rect x="12.5" y="4.12" width="4.67" height="4.62" fill="rgb(20,20,20)"/>
<rect x="16.67" y="4.12" width="4.67" height="4.62" fill="rgb(20,20,20)"/>
<rect x="20.83" y="4.12" width="4.67" height="4.62" fill="rgb(47,47,47)"/>
<rect x="25" y="4.12" width="4.67" height="4.62" fill="rgb(75,75,75)"/>
<rect x="29.17" y="4.12" width="4.67" height="4.62" fill="rgb(105,105,105)"/>
<rect x="33.33" y="4.12" width="4.67" height="4.62" fill="rgb(75,75,75)"/>
<rect x="37.5" y="4.12" width="4.67" height="4.62" fill="rgb(75,75,75)"/>
<rect x="41.67" y="4.12" width="4.67" height="4.62" fill="rgb(75,75,75)"/>
<rect x="45.83" y="4.12" width="4.67" height="4.62" fill="rgb(75,75,75)"/>
<rect x="0" y="8.23" width="4.67" height="4.62" fill="rgb(20,20,20)"/>
<rect x="4.17" y="8.23" width="4.67" height="4.62" fill="rgb(20,20,20)"/>
<rect x="8.33" y="8.23" width="4.67" height="4.62" fill="rgb(20,20,20)"/>
<rect x="12.5" y="8.23" width="4.67" height="4.62" fill="rgb(20,20,20)"/>
<rect x="16.67" y="8.23" width="4.67" height="4.62" fill="rgb(20,20,20)"/>
<rect x="20.83" y="8.23" width="4.67" height="4.62" fill="rgb(20,20,20)"/>
<rect x="25" y="8.23" width="4.67" height="4.62" fill="rgb(47,47,47)"/>
<rect x="29.17" y="8.23" width="4.67" height="4.62" fill="rgb(47,47,47)"/>
<rect x="33.33" y="8.23" width="4.67" height="4.62" fill="rgb(47,47,47)"/>
<rect x="37.5" y="8.23" width="4.67" height="4.62" fill="rgb(47,47,47)"/>
<rect x="41.67" y="8.23" width="4.67" height="4.62" fill="rgb(47,47,47)"/>
<rect x="45.83" y="8.23" width="4.67" height="4.62" fill="rgb(47,47,47)"/>
<rect x="0" y="12.35" width="4.67" height="4.62" fill="rgb(20,20,20)"/>
<rect x="4.17" y="12.35" width="4.67" height="4.62" fill="rgb(20,20,20)"/>
<rect x="8.33" y="12.35" width="4.67" height="4.62" fill="rgb(20,20,20)"/>
<rect x="12.5" y="12.35" width="4.67" height="4.62" fill="rgb(20,20,20)"/>
<rect x="16.67" y="12.35" width="4.67" height="4.62" fill="rgb(20,20,20)"/>
<rect x="20.83" y="12.35" width="4.67" height="4.62" fill="rgb(20,20,20)"/>
<rect x="25" y="12.35" width="4.67" height="4.62" fill="rgb(47,47,47)"/>
<rect x="29.17" y="12.35" width="4.67" height="4.62" fill="rgb(47,47,47)"/>
<rect x="33.33" y="12.35" width="4.67" height="4.62" fill="rgb(47,47,47)"/>
<rect x="37.5" y="12.35" width="4.67" height="4.62" fill="rgb(75,75,75)"/>
<rect x="41.67" y="12.35" width="4.67" height="4.62" fill="rgb(105,105,105)"/>
<rect x="45.83" y="12.35" width="4.67" height="4.62" fill="rgb(105,105,105)"/>
<rect x="0" y="16.47" width="4.67" height="4.62" fill="rgb(47,47,47)"/>
<rect x="4.17" y="16.47" width="4.67" height="4.62" fill="rgb(47,47,47)"/>
<rect x="8.33" y="16.47" width="4.67" height="4.62" fill="rgb(20,20,20)"/>
<rect x="12.5" y="16.47" width="4.67" height="4.62" fill="rgb(20,20,20)"/>
<rect x="16.67" y="16.47" width="4.67" height="4.62" fill="rgb(20,20,20)"/>
<rect x="20.83" y="16.47" width="4.67" height="4.62" fill="rgb(20,20,20)"/>
<rect x="25" y="16.47" width="4.67" height="4.62" fill="rgb(20,20,20)"/>
<rect x="29.17" y="16.47" width="4.67" height="4.62" fill="rgb(20,20,20)"/>
<rect x="33.33" y="16.47" width="4.67" height="4.62" fill="rgb(47,47,47)"/>
<rect x="37.5" y="16.47" width="4.67" height="4.62" fill="rgb(105,105,105)"/>
<rect x="41.67" y="16.47" width="4.67" height="4.62" fill="rgb(195,195,195)"/>
<rect x="45.83" y="16.47" width="4.67" height="4.62" fill="rgb(165,165,165)"/>
<rect x="0" y="20.58" width="4.67" height="4.62" fill="rgb(105,105,105)"/>
<rect x="4.17" y="20.58" width="4.67" height="4.62" fill="rgb(105,105,105)"/>
<rect x="8.33" y="20.58" width="4.67" height="4.62" fill="rgb(47,47,47)"/>
<rect x="12.5" y="20.58" width="4.67" height="4.62" fill="rgb(20,20,20)"/>
<rect x="16.67" y="20.58" width="4.67" height="4.62" fill="rgb(20,20,20)"/>
<rect x="20.83" y="20.58" width="4.67" height="4.62" fill="rgb(20,20,20)"/>
<rect x="25" y="20.58" width="4.67" height="4.62" fill="rgb(20,20,20)"/>
<rect x="29.17" y="20.58" width="4.67" height="4.62" fill="rgb(20,20,20)"/>
<rect x="33.33" y="20.58" width="4.67" height="4.62" fill="rgb(47,47,47)"/>
<rect x="37.5" y="20.58" width="4.67" height="4.62" fill="rgb(105,105,105)"/>
<rect x="41.67" y="20.58" width="4.67" height="4.62" fill="rgb(135,135,135)"/>
<rect x="45.83" y="20.58" width="4.67" height="4.62" fill="rgb(135,135,135)"/>
<rect x="0" y="24.7" width="4.67" height="4.62" fill="rgb(75,75,75)"/>
<rect x="4.17" y="24.7" width="4.67" height="4.62" fill="rgb(75,75,75)"/>
<rect x="8.33" y="24.7" width="4.67" height="4.62" fill="rgb(20,20,20)"/>
<rect x="12.5" y="24.7" width="4.67" height="4.62" fill="rgb(20,20,20)"/>
<rect x="16.67" y="24.7" width="4.67" height="4.62" fill="rgb(20,20,20)"/>
<rect x="20.83" y="24.7" width="4.67" height="4.62" fill="rgb(20,20,20)"/>
<rect x="25" y="24.7" width="4.67" height="4.62" fill="rgb(20,20,20)"/>
<rect x="29.17" y="24.7" width="4.67" height="4.62" fill="rgb(20,20,20)"/>
<rect x="33.33" y="24.7" width="4.67" height="4.62" fill="rgb(47,47,47)"/>
<rect x="37.5" y="24.7" width="4.67" height="4.62" fill="rgb(75,75,75)"/>
<rect x="41.67" y="24.7" width="4.67" height="4.62" fill="rgb(75,75,75)"/>
<rect x="45.83" y="24.7" width="4.67" height="4.62" fill="rgb(75,75,75)"/>
<rect x="0" y="28.82" width="4.67" height="4.62" fill="rgb(20,20,20)"/>
<rect x="4.17" y="28.82" width="4.67" height="4.62" fill="rgb(20,20,20)"/>
<rect x="8.33" y="28.82" width="4.67" height="4.62" fill="rgb(20,20,20)"/>
<rect x="12.5" y="28.82" width="4.67" height="4.62" fill="rgb(20,20,20)"/>
<rect x="16.67" y="28.82" width="4.67" height="4.62" fill="rgb(20,20,20)"/>
<rect x="20.83" y="28.82" width="4.67" height="4.62" fill="rgb(20,20,20)"/>
<rect x="25" y="28.82" width="4.67" height="4.62" fill="rgb(20,20,20)"/>
<rect x="29.17" y="28.82" width="4.67" height="4.62" fill="rgb(20,20,20)"/>
<rect x="33.33" y="28.82" width="4.67" height="4.62" fill="rgb(75,75,75)"/>
<rect x="37.5" y="28.82" width="4.67" height="4.62" fill="rgb(135,135,135)"/>
<rect x="41.67" y="28.82" width="4.67" height="4.62" fill="rgb(105,105,105)"/>
<rect x="45.83" y="28.82" width="4.67" height="4.62" fill="rgb(75,75,75)"/>
<rect x="0" y="32.93" width="4.67" height="4.62" fill="rgb(20,20,20)"/>
<rect x="4.17" y="32.93" width="4.67" height="4.62" fill="rgb(20,20,20)"/>
<rect x="8.33" y="32.93" width="4.67" height="4.62" fill="rgb(20,20,20)"/>
<rect x="12.5" y="32.93" width="4.67" height="4.62" fill="rgb(20,20,20)"/>
<rect x="16.67" y="32.93" width="4.67" height="4.62" fill="rgb(20,20,20)"/>
<rect x="20.83" y="32.93" width="4.67" height="4.62" fill="rgb(20,20,20)"/>
<rect x="25" y="32.93" width="4.67" height="4.62" fill="rgb(20,20,20)"/>
<rect x="29.17" y="32.93" width="4.67" height="4.62" fill="rgb(20,20,20)"/>
<rect x="33.33" y="32.93" width="4.67" height="4.62" fill="rgb(105,105,105)"/>
<rect x="37.5" y="32.93" width="4.67" height="4.62" fill="rgb(165,165,165)"/>
<rect x="41.67" y="32.93" width="4.67" height="4.62" fill="rgb(195,195,195)"/>
<rect x="45.83" y="32.93" width="4.67" height="4.62" fill="rgb(105,105,105)"/>
<rect x="0" y="37.05" width="4.67" height="4.62" fill="rgb(20,20,20)"/>
<rect x="4.17" y="37.05" width="4.67" height="4.62" fill="rgb(20,20,20)"/>
<rect x="8.33" y="37.05" width="4.67" height="4.62" fill="rgb(20,20,20)"/>
<rect x="12.5" y="37.05" width="4.67" height="4.62" fill="rgb(20,20,20)"/>
<rect x="16.67" y="37.05" width="4.67" height="4.62" fill="rgb(20,20,20)"/>
<rect x="20.83" y="37.05" width="4.67" height="4.62" fill="rgb(20,20,20)"/>
<rect x="25" y="37.05" width="4.67" height="4.62" fill="rgb(20,20,20)"/>
<rect x="29.17" y="37.05" width="4.67" height="4.62" fill="rgb(20,20,20)"/>
<rect x="33.33" y="37.05" width="4.67" height="4.62" fill="rgb(75,75,75)"/>
<rect x="37.5" y="37.05" width="4.67" height="4.62" fill="rgb(105,105,105)"/>
<rect x="41.67" y="37.05" width="4.67" height="4.62" fill="rgb(105,105,105)"/>
<rect x="45.83" y="37.05" width="4.67" height="4.62" fill="rgb(75,75,75)"/>
<rect x="0" y="41.17" width="4.67" height="4.62" fill="rgb(47,47,47)"/>
<rect x="4.17" y="41.17" width="4.67" height="4.62" fill="rgb(47,47,47)"/>
<rect x="8.33" y="41.17" width="4.67" height="4.62" fill="rgb(47,47,47)"/>
<rect x="12.5" y="41.17" width="4.67" height="4.62" fill="rgb(47,47,47)"/>
<rect x="16.67" y="41.17" width="4.67" height="4.62" fill="rgb(47,47,47)"/>
<rect x="20.83" y="41.17" width="4.67" height="4.62" fill="rgb(47,47,47)"/>
<rect x="25" y="41.17" width="4.67" height="4.62" fill="rgb(47,47,47)"/>
<rect x="29.17" y="41.17" width="4.67" height="4.62" fill="rgb(20,20,20)"/>
<rect x="33.33" y="41.17" width="4.67" height="4.62" fill="rgb(20,20,20)"/>
<rect x="37.5" y="41.17" width="4.67" height="4.62" fill="rgb(20,20,20)"/>
<rect x="41.67" y="41.17" width="4.67" height="4.62" fill="rgb(20,20,20)"/>
<rect x="45.83" y="41.17" width="4.67" height="4.62" fill="rgb(20,20,20)"/>
<rect x="0" y="45.28" width="4.67" height="4.62" fill="rgb(105,105,105)"/>
<rect x="4.17" y="45.28" width="4.67" height="4.62" fill="rgb(135,135,135)"/>
<rect x="8.33" y="45.28" width="4.67" height="4.62" fill="rgb(105,105,105)"/>
<rect x="12.5" y="45.28" width="4.67" height="4.62" fill="rgb(75,75,75)"/>
<rect x="16.67" y="45.28" width="4.67" height="4.62" fill="rgb(75,75,75)"/>
<rect x="20.83" y="45.28" width="4.67" height="4.62" fill="rgb(75,75,75)"/>
<rect x="25" y="45.28" width="4.67" height="4.62" fill="rgb(47,47,47)"/>
<rect x="29.17" y="45.28" width="4.67" height="4.62" fill="rgb(47,47,47)"/>
<rect x="33.33" y="45.28" width="4.67" height="4.62" fill="rgb(47,47,47)"/>
<rect x="37.5" y="45.28" width="4.67" height="4.62" fill="rgb(20,20,20)"/>
<rect x="41.67" y="45.28" width="4.67" height="4.62" fill="rgb(20,20,20)"/>
<rect x="45.83" y="45.28" width="4.67" height="4.62" fill="rgb(20,20,20)"/>
</g>
<rect x="0.5" y="0.5" width="49" height="48.4" fill="none" stroke="#333" stroke-width="1"/>
</svg>
<circle cx="599" cy="201.1" r="13.3" fill="none" stroke="#D81A1A" stroke-width="1.6"/>
<svg x="633.1" y="177" width="50" height="49.4" viewBox="0 0 50 49.4" overflow="hidden">
<g filter="url(#bl)" shape-rendering="crispEdges"><rect width="50" height="49.4" fill="#111"/>
<rect x="0" y="0" width="4.67" height="4.62" fill="rgb(20,20,20)"/>
<rect x="4.17" y="0" width="4.67" height="4.62" fill="rgb(20,20,20)"/>
<rect x="8.33" y="0" width="4.67" height="4.62" fill="rgb(20,20,20)"/>
<rect x="12.5" y="0" width="4.67" height="4.62" fill="rgb(20,20,20)"/>
<rect x="16.67" y="0" width="4.67" height="4.62" fill="rgb(20,20,20)"/>
<rect x="20.83" y="0" width="4.67" height="4.62" fill="rgb(47,47,47)"/>
<rect x="25" y="0" width="4.67" height="4.62" fill="rgb(105,105,105)"/>
<rect x="29.17" y="0" width="4.67" height="4.62" fill="rgb(165,165,165)"/>
<rect x="33.33" y="0" width="4.67" height="4.62" fill="rgb(105,105,105)"/>
<rect x="37.5" y="0" width="4.67" height="4.62" fill="rgb(75,75,75)"/>
<rect x="41.67" y="0" width="4.67" height="4.62" fill="rgb(105,105,105)"/>
<rect x="45.83" y="0" width="4.67" height="4.62" fill="rgb(75,75,75)"/>
<rect x="0" y="4.12" width="4.67" height="4.62" fill="rgb(20,20,20)"/>
<rect x="4.17" y="4.12" width="4.67" height="4.62" fill="rgb(20,20,20)"/>
<rect x="8.33" y="4.12" width="4.67" height="4.62" fill="rgb(20,20,20)"/>
<rect x="12.5" y="4.12" width="4.67" height="4.62" fill="rgb(20,20,20)"/>
<rect x="16.67" y="4.12" width="4.67" height="4.62" fill="rgb(20,20,20)"/>
<rect x="20.83" y="4.12" width="4.67" height="4.62" fill="rgb(47,47,47)"/>
<rect x="25" y="4.12" width="4.67" height="4.62" fill="rgb(75,75,75)"/>
<rect x="29.17" y="4.12" width="4.67" height="4.62" fill="rgb(75,75,75)"/>
<rect x="33.33" y="4.12" width="4.67" height="4.62" fill="rgb(75,75,75)"/>
<rect x="37.5" y="4.12" width="4.67" height="4.62" fill="rgb(75,75,75)"/>
<rect x="41.67" y="4.12" width="4.67" height="4.62" fill="rgb(75,75,75)"/>
<rect x="45.83" y="4.12" width="4.67" height="4.62" fill="rgb(75,75,75)"/>
<rect x="0" y="8.23" width="4.67" height="4.62" fill="rgb(20,20,20)"/>
<rect x="4.17" y="8.23" width="4.67" height="4.62" fill="rgb(20,20,20)"/>
<rect x="8.33" y="8.23" width="4.67" height="4.62" fill="rgb(20,20,20)"/>
<rect x="12.5" y="8.23" width="4.67" height="4.62" fill="rgb(20,20,20)"/>
<rect x="16.67" y="8.23" width="4.67" height="4.62" fill="rgb(20,20,20)"/>
<rect x="20.83" y="8.23" width="4.67" height="4.62" fill="rgb(20,20,20)"/>
<rect x="25" y="8.23" width="4.67" height="4.62" fill="rgb(47,47,47)"/>
<rect x="29.17" y="8.23" width="4.67" height="4.62" fill="rgb(47,47,47)"/>
<rect x="33.33" y="8.23" width="4.67" height="4.62" fill="rgb(47,47,47)"/>
<rect x="37.5" y="8.23" width="4.67" height="4.62" fill="rgb(75,75,75)"/>
<rect x="41.67" y="8.23" width="4.67" height="4.62" fill="rgb(75,75,75)"/>
<rect x="45.83" y="8.23" width="4.67" height="4.62" fill="rgb(75,75,75)"/>
<rect x="0" y="12.35" width="4.67" height="4.62" fill="rgb(20,20,20)"/>
<rect x="4.17" y="12.35" width="4.67" height="4.62" fill="rgb(47,47,47)"/>
<rect x="8.33" y="12.35" width="4.67" height="4.62" fill="rgb(20,20,20)"/>
<rect x="12.5" y="12.35" width="4.67" height="4.62" fill="rgb(20,20,20)"/>
<rect x="16.67" y="12.35" width="4.67" height="4.62" fill="rgb(20,20,20)"/>
<rect x="20.83" y="12.35" width="4.67" height="4.62" fill="rgb(20,20,20)"/>
<rect x="25" y="12.35" width="4.67" height="4.62" fill="rgb(47,47,47)"/>
<rect x="29.17" y="12.35" width="4.67" height="4.62" fill="rgb(75,75,75)"/>
<rect x="33.33" y="12.35" width="4.67" height="4.62" fill="rgb(75,75,75)"/>
<rect x="37.5" y="12.35" width="4.67" height="4.62" fill="rgb(105,105,105)"/>
<rect x="41.67" y="12.35" width="4.67" height="4.62" fill="rgb(165,165,165)"/>
<rect x="45.83" y="12.35" width="4.67" height="4.62" fill="rgb(135,135,135)"/>
<rect x="0" y="16.47" width="4.67" height="4.62" fill="rgb(75,75,75)"/>
<rect x="4.17" y="16.47" width="4.67" height="4.62" fill="rgb(105,105,105)"/>
<rect x="8.33" y="16.47" width="4.67" height="4.62" fill="rgb(75,75,75)"/>
<rect x="12.5" y="16.47" width="4.67" height="4.62" fill="rgb(20,20,20)"/>
<rect x="16.67" y="16.47" width="4.67" height="4.62" fill="rgb(20,20,20)"/>
<rect x="20.83" y="16.47" width="4.67" height="4.62" fill="rgb(75,75,75)"/>
<rect x="25" y="16.47" width="4.67" height="4.62" fill="rgb(135,135,135)"/>
<rect x="29.17" y="16.47" width="4.67" height="4.62" fill="rgb(165,165,165)"/>
<rect x="33.33" y="16.47" width="4.67" height="4.62" fill="rgb(105,105,105)"/>
<rect x="37.5" y="16.47" width="4.67" height="4.62" fill="rgb(105,105,105)"/>
<rect x="41.67" y="16.47" width="4.67" height="4.62" fill="rgb(165,165,165)"/>
<rect x="45.83" y="16.47" width="4.67" height="4.62" fill="rgb(135,135,135)"/>
<rect x="0" y="20.58" width="4.67" height="4.62" fill="rgb(75,75,75)"/>
<rect x="4.17" y="20.58" width="4.67" height="4.62" fill="rgb(105,105,105)"/>
<rect x="8.33" y="20.58" width="4.67" height="4.62" fill="rgb(75,75,75)"/>
<rect x="12.5" y="20.58" width="4.67" height="4.62" fill="rgb(20,20,20)"/>
<rect x="16.67" y="20.58" width="4.67" height="4.62" fill="rgb(20,20,20)"/>
<rect x="20.83" y="20.58" width="4.67" height="4.62" fill="rgb(75,75,75)"/>
<rect x="25" y="20.58" width="4.67" height="4.62" fill="rgb(135,135,135)"/>
<rect x="29.17" y="20.58" width="4.67" height="4.62" fill="rgb(135,135,135)"/>
<rect x="33.33" y="20.58" width="4.67" height="4.62" fill="rgb(75,75,75)"/>
<rect x="37.5" y="20.58" width="4.67" height="4.62" fill="rgb(75,75,75)"/>
<rect x="41.67" y="20.58" width="4.67" height="4.62" fill="rgb(75,75,75)"/>
<rect x="45.83" y="20.58" width="4.67" height="4.62" fill="rgb(75,75,75)"/>
<rect x="0" y="24.7" width="4.67" height="4.62" fill="rgb(20,20,20)"/>
<rect x="4.17" y="24.7" width="4.67" height="4.62" fill="rgb(20,20,20)"/>
<rect x="8.33" y="24.7" width="4.67" height="4.62" fill="rgb(20,20,20)"/>
<rect x="12.5" y="24.7" width="4.67" height="4.62" fill="rgb(20,20,20)"/>
<rect x="16.67" y="24.7" width="4.67" height="4.62" fill="rgb(20,20,20)"/>
<rect x="20.83" y="24.7" width="4.67" height="4.62" fill="rgb(20,20,20)"/>
<rect x="25" y="24.7" width="4.67" height="4.62" fill="rgb(47,47,47)"/>
<rect x="29.17" y="24.7" width="4.67" height="4.62" fill="rgb(47,47,47)"/>
<rect x="33.33" y="24.7" width="4.67" height="4.62" fill="rgb(47,47,47)"/>
<rect x="37.5" y="24.7" width="4.67" height="4.62" fill="rgb(75,75,75)"/>
<rect x="41.67" y="24.7" width="4.67" height="4.62" fill="rgb(75,75,75)"/>
<rect x="45.83" y="24.7" width="4.67" height="4.62" fill="rgb(75,75,75)"/>
<rect x="0" y="28.82" width="4.67" height="4.62" fill="rgb(20,20,20)"/>
<rect x="4.17" y="28.82" width="4.67" height="4.62" fill="rgb(20,20,20)"/>
<rect x="8.33" y="28.82" width="4.67" height="4.62" fill="rgb(20,20,20)"/>
<rect x="12.5" y="28.82" width="4.67" height="4.62" fill="rgb(20,20,20)"/>
<rect x="16.67" y="28.82" width="4.67" height="4.62" fill="rgb(20,20,20)"/>
<rect x="20.83" y="28.82" width="4.67" height="4.62" fill="rgb(20,20,20)"/>
<rect x="25" y="28.82" width="4.67" height="4.62" fill="rgb(47,47,47)"/>
<rect x="29.17" y="28.82" width="4.67" height="4.62" fill="rgb(47,47,47)"/>
<rect x="33.33" y="28.82" width="4.67" height="4.62" fill="rgb(47,47,47)"/>
<rect x="37.5" y="28.82" width="4.67" height="4.62" fill="rgb(135,135,135)"/>
<rect x="41.67" y="28.82" width="4.67" height="4.62" fill="rgb(135,135,135)"/>
<rect x="45.83" y="28.82" width="4.67" height="4.62" fill="rgb(105,105,105)"/>
<rect x="0" y="32.93" width="4.67" height="4.62" fill="rgb(20,20,20)"/>
<rect x="4.17" y="32.93" width="4.67" height="4.62" fill="rgb(20,20,20)"/>
<rect x="8.33" y="32.93" width="4.67" height="4.62" fill="rgb(20,20,20)"/>
<rect x="12.5" y="32.93" width="4.67" height="4.62" fill="rgb(20,20,20)"/>
<rect x="16.67" y="32.93" width="4.67" height="4.62" fill="rgb(20,20,20)"/>
<rect x="20.83" y="32.93" width="4.67" height="4.62" fill="rgb(20,20,20)"/>
<rect x="25" y="32.93" width="4.67" height="4.62" fill="rgb(20,20,20)"/>
<rect x="29.17" y="32.93" width="4.67" height="4.62" fill="rgb(47,47,47)"/>
<rect x="33.33" y="32.93" width="4.67" height="4.62" fill="rgb(47,47,47)"/>
<rect x="37.5" y="32.93" width="4.67" height="4.62" fill="rgb(135,135,135)"/>
<rect x="41.67" y="32.93" width="4.67" height="4.62" fill="rgb(165,165,165)"/>
<rect x="45.83" y="32.93" width="4.67" height="4.62" fill="rgb(105,105,105)"/>
<rect x="0" y="37.05" width="4.67" height="4.62" fill="rgb(20,20,20)"/>
<rect x="4.17" y="37.05" width="4.67" height="4.62" fill="rgb(20,20,20)"/>
<rect x="8.33" y="37.05" width="4.67" height="4.62" fill="rgb(20,20,20)"/>
<rect x="12.5" y="37.05" width="4.67" height="4.62" fill="rgb(20,20,20)"/>
<rect x="16.67" y="37.05" width="4.67" height="4.62" fill="rgb(20,20,20)"/>
<rect x="20.83" y="37.05" width="4.67" height="4.62" fill="rgb(20,20,20)"/>
<rect x="25" y="37.05" width="4.67" height="4.62" fill="rgb(20,20,20)"/>
<rect x="29.17" y="37.05" width="4.67" height="4.62" fill="rgb(20,20,20)"/>
<rect x="33.33" y="37.05" width="4.67" height="4.62" fill="rgb(47,47,47)"/>
<rect x="37.5" y="37.05" width="4.67" height="4.62" fill="rgb(75,75,75)"/>
<rect x="41.67" y="37.05" width="4.67" height="4.62" fill="rgb(75,75,75)"/>
<rect x="45.83" y="37.05" width="4.67" height="4.62" fill="rgb(75,75,75)"/>
<rect x="0" y="41.17" width="4.67" height="4.62" fill="rgb(105,105,105)"/>
<rect x="4.17" y="41.17" width="4.67" height="4.62" fill="rgb(105,105,105)"/>
<rect x="8.33" y="41.17" width="4.67" height="4.62" fill="rgb(75,75,75)"/>
<rect x="12.5" y="41.17" width="4.67" height="4.62" fill="rgb(47,47,47)"/>
<rect x="16.67" y="41.17" width="4.67" height="4.62" fill="rgb(47,47,47)"/>
<rect x="20.83" y="41.17" width="4.67" height="4.62" fill="rgb(47,47,47)"/>
<rect x="25" y="41.17" width="4.67" height="4.62" fill="rgb(47,47,47)"/>
<rect x="29.17" y="41.17" width="4.67" height="4.62" fill="rgb(20,20,20)"/>
<rect x="33.33" y="41.17" width="4.67" height="4.62" fill="rgb(20,20,20)"/>
<rect x="37.5" y="41.17" width="4.67" height="4.62" fill="rgb(20,20,20)"/>
<rect x="41.67" y="41.17" width="4.67" height="4.62" fill="rgb(20,20,20)"/>
<rect x="45.83" y="41.17" width="4.67" height="4.62" fill="rgb(20,20,20)"/>
<rect x="0" y="45.28" width="4.67" height="4.62" fill="rgb(105,105,105)"/>
<rect x="4.17" y="45.28" width="4.67" height="4.62" fill="rgb(135,135,135)"/>
<rect x="8.33" y="45.28" width="4.67" height="4.62" fill="rgb(105,105,105)"/>
<rect x="12.5" y="45.28" width="4.67" height="4.62" fill="rgb(105,105,105)"/>
<rect x="16.67" y="45.28" width="4.67" height="4.62" fill="rgb(75,75,75)"/>
<rect x="20.83" y="45.28" width="4.67" height="4.62" fill="rgb(47,47,47)"/>
<rect x="25" y="45.28" width="4.67" height="4.62" fill="rgb(20,20,20)"/>
<rect x="29.17" y="45.28" width="4.67" height="4.62" fill="rgb(20,20,20)"/>
<rect x="33.33" y="45.28" width="4.67" height="4.62" fill="rgb(20,20,20)"/>
<rect x="37.5" y="45.28" width="4.67" height="4.62" fill="rgb(20,20,20)"/>
<rect x="41.67" y="45.28" width="4.67" height="4.62" fill="rgb(20,20,20)"/>
<rect x="45.83" y="45.28" width="4.67" height="4.62" fill="rgb(20,20,20)"/>
</g>
<rect x="0.5" y="0.5" width="49" height="48.4" fill="none" stroke="#333" stroke-width="1"/>
</svg>
<circle cx="657.9" cy="201.1" r="13.3" fill="none" stroke="#D81A1A" stroke-width="1.6"/>
<text x="68.3" y="285.2" font-size="21" class="k">c</text>
<line x1="146.5" y1="273.3" x2="146.5" y2="500.5" stroke="#b4b4b4" stroke-width="1.4"/>
<line x1="145.8" y1="500.5" x2="515.3" y2="500.5" stroke="#b4b4b4" stroke-width="1.4"/>
<line x1="147.1" y1="494.03" x2="149.6" y2="494.03" stroke="#8c8c8c" stroke-width="1"/>
<line x1="147.1" y1="484.5" x2="151.1" y2="484.5" stroke="#8c8c8c" stroke-width="1"/>
<text x="142.8" y="490" font-size="14.2" class="g" text-anchor="end">0.0</text>
<line x1="147.1" y1="474.97" x2="149.6" y2="474.97" stroke="#8c8c8c" stroke-width="1"/>
<line x1="147.1" y1="465.44" x2="149.6" y2="465.44" stroke="#8c8c8c" stroke-width="1"/>
<line x1="147.1" y1="455.91" x2="149.6" y2="455.91" stroke="#8c8c8c" stroke-width="1"/>
<line x1="147.1" y1="446.38" x2="151.1" y2="446.38" stroke="#8c8c8c" stroke-width="1"/>
<text x="142.8" y="451.88" font-size="14.2" class="g" text-anchor="end">0.2</text>
<line x1="147.1" y1="436.85" x2="149.6" y2="436.85" stroke="#8c8c8c" stroke-width="1"/>
<line x1="147.1" y1="427.32" x2="149.6" y2="427.32" stroke="#8c8c8c" stroke-width="1"/>
<line x1="147.1" y1="417.79" x2="149.6" y2="417.79" stroke="#8c8c8c" stroke-width="1"/>
<line x1="147.1" y1="408.26" x2="151.1" y2="408.26" stroke="#8c8c8c" stroke-width="1"/>
<text x="142.8" y="413.76" font-size="14.2" class="g" text-anchor="end">0.4</text>
<line x1="147.1" y1="398.73" x2="149.6" y2="398.73" stroke="#8c8c8c" stroke-width="1"/>
<line x1="147.1" y1="389.2" x2="149.6" y2="389.2" stroke="#8c8c8c" stroke-width="1"/>
<line x1="147.1" y1="379.67" x2="149.6" y2="379.67" stroke="#8c8c8c" stroke-width="1"/>
<line x1="147.1" y1="370.14" x2="151.1" y2="370.14" stroke="#8c8c8c" stroke-width="1"/>
<text x="142.8" y="375.64" font-size="14.2" class="g" text-anchor="end">0.6</text>
<line x1="147.1" y1="360.61" x2="149.6" y2="360.61" stroke="#8c8c8c" stroke-width="1"/>
<line x1="147.1" y1="351.08" x2="149.6" y2="351.08" stroke="#8c8c8c" stroke-width="1"/>
<line x1="147.1" y1="341.55" x2="149.6" y2="341.55" stroke="#8c8c8c" stroke-width="1"/>
<line x1="147.1" y1="332.02" x2="151.1" y2="332.02" stroke="#8c8c8c" stroke-width="1"/>
<text x="142.8" y="337.52" font-size="14.2" class="g" text-anchor="end">0.8</text>
<line x1="147.1" y1="322.49" x2="149.6" y2="322.49" stroke="#8c8c8c" stroke-width="1"/>
<line x1="147.1" y1="312.96" x2="149.6" y2="312.96" stroke="#8c8c8c" stroke-width="1"/>
<line x1="147.1" y1="303.43" x2="149.6" y2="303.43" stroke="#8c8c8c" stroke-width="1"/>
<line x1="147.1" y1="293.9" x2="151.1" y2="293.9" stroke="#8c8c8c" stroke-width="1"/>
<text x="142.8" y="299.4" font-size="14.2" class="g" text-anchor="end">1.0</text>
<line x1="147.1" y1="284.37" x2="149.6" y2="284.37" stroke="#8c8c8c" stroke-width="1"/>
<line x1="147.1" y1="274.84" x2="149.6" y2="274.84" stroke="#8c8c8c" stroke-width="1"/>
<line x1="154.5" y1="499.8" x2="154.5" y2="495.8" stroke="#8c8c8c" stroke-width="1"/>
<text x="154.5" y="519" font-size="14.2" class="g" text-anchor="middle">0</text>
<line x1="174.68" y1="499.8" x2="174.68" y2="497.3" stroke="#8c8c8c" stroke-width="1"/>
<line x1="194.86" y1="499.8" x2="194.86" y2="497.3" stroke="#8c8c8c" stroke-width="1"/>
<line x1="215.04" y1="499.8" x2="215.04" y2="497.3" stroke="#8c8c8c" stroke-width="1"/>
<line x1="235.22" y1="499.8" x2="235.22" y2="497.3" stroke="#8c8c8c" stroke-width="1"/>
<line x1="255.4" y1="499.8" x2="255.4" y2="495.8" stroke="#8c8c8c" stroke-width="1"/>
<text x="255.4" y="519" font-size="14.2" class="g" text-anchor="middle">50</text>
<line x1="275.58" y1="499.8" x2="275.58" y2="497.3" stroke="#8c8c8c" stroke-width="1"/>
<line x1="295.76" y1="499.8" x2="295.76" y2="497.3" stroke="#8c8c8c" stroke-width="1"/>
<line x1="315.94" y1="499.8" x2="315.94" y2="497.3" stroke="#8c8c8c" stroke-width="1"/>
<line x1="336.12" y1="499.8" x2="336.12" y2="497.3" stroke="#8c8c8c" stroke-width="1"/>
<line x1="356.3" y1="499.8" x2="356.3" y2="495.8" stroke="#8c8c8c" stroke-width="1"/>
<text x="356.3" y="519" font-size="14.2" class="g" text-anchor="middle">100</text>
<line x1="376.48" y1="499.8" x2="376.48" y2="497.3" stroke="#8c8c8c" stroke-width="1"/>
<line x1="396.66" y1="499.8" x2="396.66" y2="497.3" stroke="#8c8c8c" stroke-width="1"/>
<line x1="416.84" y1="499.8" x2="416.84" y2="497.3" stroke="#8c8c8c" stroke-width="1"/>
<line x1="437.02" y1="499.8" x2="437.02" y2="497.3" stroke="#8c8c8c" stroke-width="1"/>
<line x1="457.2" y1="499.8" x2="457.2" y2="495.8" stroke="#8c8c8c" stroke-width="1"/>
<text x="457.2" y="519" font-size="14.2" class="g" text-anchor="middle">150</text>
<line x1="477.38" y1="499.8" x2="477.38" y2="497.3" stroke="#8c8c8c" stroke-width="1"/>
<line x1="497.56" y1="499.8" x2="497.56" y2="497.3" stroke="#8c8c8c" stroke-width="1"/>
<text transform="translate(112.0,387) rotate(-90)" font-size="15.2" class="g" text-anchor="middle">Fraction Bound</text>
<text x="330.8" y="545" font-size="15" class="g" text-anchor="middle">ATP Concentration (<tspan font-style="italic">μ</tspan>M)</text>
<path d="M204.95,471.21V477.21M201.05,471.21H208.85M201.05,477.21H208.85" stroke="#5E81B5" stroke-width="1.2" fill="none"/>
<path d="M255.4,448.64V462.04M251.5,448.64H259.3M251.5,462.04H259.3" stroke="#5E81B5" stroke-width="1.2" fill="none"/>
<path d="M305.85,425.13V437.13M301.95,425.13H309.75M301.95,437.13H309.75" stroke="#5E81B5" stroke-width="1.2" fill="none"/>
<path d="M356.3,404.62V421.82M352.4,404.62H360.2M352.4,421.82H360.2" stroke="#5E81B5" stroke-width="1.2" fill="none"/>
<path d="M406.75,383.81V398.41M402.85,383.81H410.65M402.85,398.41H410.65" stroke="#5E81B5" stroke-width="1.2" fill="none"/>
<path d="M457.2,370.49V383.89M453.3,370.49H461.1M453.3,383.89H461.1" stroke="#5E81B5" stroke-width="1.2" fill="none"/>
<path d="M507.65,356.28V370.28M503.75,356.28H511.55M503.75,370.28H511.55" stroke="#5E81B5" stroke-width="1.2" fill="none"/>
<path d="M204.95,459.25V479.25M201.05,459.25H208.85M201.05,479.25H208.85" stroke="#E19C24" stroke-width="1.2" fill="none"/>
<path d="M255.4,426.38V458.38M251.5,426.38H259.3M251.5,458.38H259.3" stroke="#E19C24" stroke-width="1.2" fill="none"/>
<path d="M305.85,392.85V432.05M301.95,392.85H309.75M301.95,432.05H309.75" stroke="#E19C24" stroke-width="1.2" fill="none"/>
<path d="M356.3,372.22V405.42M352.4,372.22H360.2M352.4,405.42H360.2" stroke="#E19C24" stroke-width="1.2" fill="none"/>
<path d="M406.75,355.32V377.72M402.85,355.32H410.65M402.85,377.72H410.65" stroke="#E19C24" stroke-width="1.2" fill="none"/>
<path d="M457.2,343.51V361.31M453.3,343.51H461.1M453.3,361.31H461.1" stroke="#E19C24" stroke-width="1.2" fill="none"/>
<path d="M507.65,335.99V349.39M503.75,335.99H511.55M503.75,349.39H511.55" stroke="#E19C24" stroke-width="1.2" fill="none"/>
<path d="M204.95,461.7V466.7M201.05,461.7H208.85M201.05,466.7H208.85" stroke="#8FB032" stroke-width="1.2" fill="none"/>
<path d="M255.4,432.75V440.95M251.5,432.75H259.3M251.5,440.95H259.3" stroke="#8FB032" stroke-width="1.2" fill="none"/>
<path d="M305.85,398.99V408.39M301.95,398.99H309.75M301.95,408.39H309.75" stroke="#8FB032" stroke-width="1.2" fill="none"/>
<path d="M356.3,371.95V384.35M352.4,371.95H360.2M352.4,384.35H360.2" stroke="#8FB032" stroke-width="1.2" fill="none"/>
<path d="M406.75,354.58V363.98M402.85,354.58H410.65M402.85,363.98H410.65" stroke="#8FB032" stroke-width="1.2" fill="none"/>
<path d="M457.2,342.5V350.7M453.3,342.5H461.1M453.3,350.7H461.1" stroke="#8FB032" stroke-width="1.2" fill="none"/>
<path d="M507.65,331.64V339.64M503.75,331.64H511.55M503.75,339.64H511.55" stroke="#8FB032" stroke-width="1.2" fill="none"/>
<path d="M204.95,399.79V415.59M201.05,399.79H208.85M201.05,415.59H208.85" stroke="#EB6235" stroke-width="1.2" fill="none"/>
<path d="M255.4,347.41V357.41M251.5,347.41H259.3M251.5,357.41H259.3" stroke="#EB6235" stroke-width="1.2" fill="none"/>
<path d="M305.85,318.44V328.44M301.95,318.44H309.75M301.95,328.44H309.75" stroke="#EB6235" stroke-width="1.2" fill="none"/>
<path d="M356.3,306.05V316.05M352.4,306.05H360.2M352.4,316.05H360.2" stroke="#EB6235" stroke-width="1.2" fill="none"/>
<path d="M406.75,302.05V312.05M402.85,302.05H410.65M402.85,312.05H410.65" stroke="#EB6235" stroke-width="1.2" fill="none"/>
<path d="M457.2,297.1V307.1M453.3,297.1H461.1M453.3,307.1H461.1" stroke="#EB6235" stroke-width="1.2" fill="none"/>
<path d="M507.65,296.71V306.71M503.75,296.71H511.55M503.75,306.71H511.55" stroke="#EB6235" stroke-width="1.2" fill="none"/>
<path d="M204.95,409.74V419.74M201.05,409.74H208.85M201.05,419.74H208.85" stroke="#8778B3" stroke-width="1.2" fill="none"/>
<path d="M255.4,349.28V360.88M251.5,349.28H259.3M251.5,360.88H259.3" stroke="#8778B3" stroke-width="1.2" fill="none"/>
<path d="M305.85,320.57V329.37M301.95,320.57H309.75M301.95,329.37H309.75" stroke="#8778B3" stroke-width="1.2" fill="none"/>
<path d="M356.3,311.58V317.38M352.4,311.58H360.2M352.4,317.38H360.2" stroke="#8778B3" stroke-width="1.2" fill="none"/>
<path d="M406.75,306.15V312.15M402.85,306.15H410.65M402.85,312.15H410.65" stroke="#8778B3" stroke-width="1.2" fill="none"/>
<path d="M457.2,301.38V307.38M453.3,301.38H461.1M453.3,307.38H461.1" stroke="#8778B3" stroke-width="1.2" fill="none"/>
<path d="M507.65,300.24V306.24M503.75,300.24H511.55M503.75,306.24H511.55" stroke="#8778B3" stroke-width="1.2" fill="none"/>
<path d="M204.95,427.61V439.61M201.05,427.61H208.85M201.05,439.61H208.85" stroke="#C56E1A" stroke-width="1.2" fill="none"/>
<path d="M255.4,376.47V390.87M251.5,376.47H259.3M251.5,390.87H259.3" stroke="#C56E1A" stroke-width="1.2" fill="none"/>
<path d="M305.85,341.57V359.07M301.95,341.57H309.75M301.95,359.07H309.75" stroke="#C56E1A" stroke-width="1.2" fill="none"/>
<path d="M356.3,323.84V341.34M352.4,323.84H360.2M352.4,341.34H360.2" stroke="#C56E1A" stroke-width="1.2" fill="none"/>
<path d="M406.75,308.71V323.31M402.85,308.71H410.65M402.85,323.31H410.65" stroke="#C56E1A" stroke-width="1.2" fill="none"/>
<path d="M457.2,305.39V323.19M453.3,305.39H461.1M453.3,323.19H461.1" stroke="#C56E1A" stroke-width="1.2" fill="none"/>
<path d="M507.65,303.34V319.54M503.75,303.34H511.55M503.75,319.54H511.55" stroke="#C56E1A" stroke-width="1.2" fill="none"/>
<path d="M204.95,332.86V345.66M201.05,332.86H208.85M201.05,345.66H208.85" stroke="#5D9EC7" stroke-width="1.2" fill="none"/>
<path d="M255.4,302.66V315.26M251.5,302.66H259.3M251.5,315.26H259.3" stroke="#5D9EC7" stroke-width="1.2" fill="none"/>
<path d="M305.85,292.19V308.19M301.95,292.19H309.75M301.95,308.19H309.75" stroke="#5D9EC7" stroke-width="1.2" fill="none"/>
<path d="M356.3,295.96V309.76M352.4,295.96H360.2M352.4,309.76H360.2" stroke="#5D9EC7" stroke-width="1.2" fill="none"/>
<path d="M406.75,294.96V298.56M402.85,294.96H410.65M402.85,298.56H410.65" stroke="#5D9EC7" stroke-width="1.2" fill="none"/>
<path d="M457.2,286.59V305.79M453.3,286.59H461.1M453.3,305.79H461.1" stroke="#5D9EC7" stroke-width="1.2" fill="none"/>
<path d="M507.65,284.23V302.43M503.75,284.23H511.55M503.75,302.43H511.55" stroke="#5D9EC7" stroke-width="1.2" fill="none"/>
<path d="M204.95,397.52V428.52M201.05,397.52H208.85M201.05,428.52H208.85" stroke="#FFBF00" stroke-width="1.2" fill="none"/>
<path d="M255.4,338.92V357.52M251.5,338.92H259.3M251.5,357.52H259.3" stroke="#FFBF00" stroke-width="1.2" fill="none"/>
<path d="M305.85,315.19V325.59M301.95,315.19H309.75M301.95,325.59H309.75" stroke="#FFBF00" stroke-width="1.2" fill="none"/>
<path d="M356.3,304.22V315.22M352.4,304.22H360.2M352.4,315.22H360.2" stroke="#FFBF00" stroke-width="1.2" fill="none"/>
<path d="M406.75,298.74V311.94M402.85,298.74H410.65M402.85,311.94H410.65" stroke="#FFBF00" stroke-width="1.2" fill="none"/>
<path d="M457.2,298.19V310.19M453.3,298.19H461.1M453.3,310.19H461.1" stroke="#FFBF00" stroke-width="1.2" fill="none"/>
<path d="M507.65,294.33V308.33M503.75,294.33H511.55M503.75,308.33H511.55" stroke="#FFBF00" stroke-width="1.2" fill="none"/>
<circle cx="154.5" cy="484.5" r="4.8" fill="#000000"/>
<circle cx="204.95" cy="474.21" r="4.8" fill="#000000"/>
<circle cx="255.4" cy="455.34" r="4.8" fill="#000000"/>
<circle cx="305.85" cy="431.13" r="4.8" fill="#000000"/>
<circle cx="356.3" cy="413.22" r="4.8" fill="#000000"/>
<circle cx="406.75" cy="391.11" r="4.8" fill="#000000"/>
<circle cx="457.2" cy="377.19" r="4.8" fill="#000000"/>
<circle cx="507.65" cy="363.28" r="4.8" fill="#000000"/>
<rect x="149.6" y="479.6" width="9.8" height="9.8" fill="#FF6000"/>
<rect x="200.05" y="464.35" width="9.8" height="9.8" fill="#FF6000"/>
<rect x="250.5" y="437.48" width="9.8" height="9.8" fill="#FF6000"/>
<rect x="300.95" y="407.55" width="9.8" height="9.8" fill="#FF6000"/>
<rect x="351.4" y="383.92" width="9.8" height="9.8" fill="#FF6000"/>
<rect x="401.85" y="361.62" width="9.8" height="9.8" fill="#FF6000"/>
<rect x="452.3" y="347.51" width="9.8" height="9.8" fill="#FF6000"/>
<rect x="502.75" y="337.79" width="9.8" height="9.8" fill="#FF6000"/>
<path d="M154.5,479.3L159.7,484.5L154.5,489.7L149.3,484.5Z" fill="#E0168C"/>
<path d="M204.95,459L210.15,464.2L204.95,469.4L199.75,464.2Z" fill="#E0168C"/>
<path d="M255.4,431.65L260.6,436.85L255.4,442.05L250.2,436.85Z" fill="#E0168C"/>
<path d="M305.85,398.49L311.05,403.69L305.85,408.89L300.65,403.69Z" fill="#E0168C"/>
<path d="M356.3,372.95L361.5,378.15L356.3,383.35L351.1,378.15Z" fill="#E0168C"/>
<path d="M406.75,354.08L411.95,359.28L406.75,364.48L401.55,359.28Z" fill="#E0168C"/>
<path d="M457.2,341.4L462.4,346.6L457.2,351.8L452,346.6Z" fill="#E0168C"/>
<path d="M507.65,330.44L512.85,335.64L507.65,340.84L502.45,335.64Z" fill="#E0168C"/>
<path d="M154.5,478.8L160.5,489.5L148.5,489.5Z" fill="#8CB21C"/>
<path d="M204.95,401.99L210.95,412.69L198.95,412.69Z" fill="#8CB21C"/>
<path d="M255.4,346.71L261.4,357.41L249.4,357.41Z" fill="#8CB21C"/>
<path d="M305.85,317.74L311.85,328.44L299.85,328.44Z" fill="#8CB21C"/>
<path d="M356.3,305.35L362.3,316.05L350.3,316.05Z" fill="#8CB21C"/>
<path d="M406.75,301.35L412.75,312.05L400.75,312.05Z" fill="#8CB21C"/>
<path d="M457.2,296.4L463.2,307.1L451.2,307.1Z" fill="#8CB21C"/>
<path d="M507.65,296.01L513.65,306.71L501.65,306.71Z" fill="#8CB21C"/>
<path d="M154.5,490.2L160.5,479.5L148.5,479.5Z" fill="#1F6E63"/>
<path d="M204.95,420.44L210.95,409.74L198.95,409.74Z" fill="#1F6E63"/>
<path d="M255.4,360.78L261.4,350.08L249.4,350.08Z" fill="#1F6E63"/>
<path d="M305.85,330.67L311.85,319.97L299.85,319.97Z" fill="#1F6E63"/>
<path d="M356.3,320.18L362.3,309.48L350.3,309.48Z" fill="#1F6E63"/>
<path d="M406.75,314.85L412.75,304.15L400.75,304.15Z" fill="#1F6E63"/>
<path d="M457.2,310.08L463.2,299.38L451.2,299.38Z" fill="#1F6E63"/>
<path d="M507.65,308.94L513.65,298.24L501.65,298.24Z" fill="#1F6E63"/>
<circle cx="154.5" cy="484.5" r="3.9" fill="none" stroke="#1A8CF0" stroke-width="1.9"/>
<circle cx="204.95" cy="433.61" r="3.9" fill="none" stroke="#1A8CF0" stroke-width="1.9"/>
<circle cx="255.4" cy="383.67" r="3.9" fill="none" stroke="#1A8CF0" stroke-width="1.9"/>
<circle cx="305.85" cy="350.32" r="3.9" fill="none" stroke="#1A8CF0" stroke-width="1.9"/>
<circle cx="356.3" cy="332.59" r="3.9" fill="none" stroke="#1A8CF0" stroke-width="1.9"/>
<circle cx="406.75" cy="316.01" r="3.9" fill="none" stroke="#1A8CF0" stroke-width="1.9"/>
<circle cx="457.2" cy="314.29" r="3.9" fill="none" stroke="#1A8CF0" stroke-width="1.9"/>
<circle cx="507.65" cy="311.44" r="3.9" fill="none" stroke="#1A8CF0" stroke-width="1.9"/>
<rect x="150.6" y="480.6" width="7.8" height="7.8" fill="none" stroke="#2A2883" stroke-width="1.9"/>
<rect x="201.05" y="335.36" width="7.8" height="7.8" fill="none" stroke="#2A2883" stroke-width="1.9"/>
<rect x="251.5" y="305.06" width="7.8" height="7.8" fill="none" stroke="#2A2883" stroke-width="1.9"/>
<rect x="301.95" y="296.29" width="7.8" height="7.8" fill="none" stroke="#2A2883" stroke-width="1.9"/>
<rect x="352.4" y="298.96" width="7.8" height="7.8" fill="none" stroke="#2A2883" stroke-width="1.9"/>
<rect x="402.85" y="292.86" width="7.8" height="7.8" fill="none" stroke="#2A2883" stroke-width="1.9"/>
<rect x="453.3" y="292.29" width="7.8" height="7.8" fill="none" stroke="#2A2883" stroke-width="1.9"/>
<rect x="503.75" y="289.43" width="7.8" height="7.8" fill="none" stroke="#2A2883" stroke-width="1.9"/>
<path d="M154.5,480.35L158.65,484.5L154.5,488.65L150.35,484.5Z" fill="none" stroke="#7E3FA0" stroke-width="1.9"/>
<path d="M204.95,408.88L209.1,413.02L204.95,417.17L200.8,413.02Z" fill="none" stroke="#7E3FA0" stroke-width="1.9"/>
<path d="M255.4,344.07L259.55,348.22L255.4,352.37L251.25,348.22Z" fill="none" stroke="#7E3FA0" stroke-width="1.9"/>
<path d="M305.85,316.24L310,320.39L305.85,324.54L301.7,320.39Z" fill="none" stroke="#7E3FA0" stroke-width="1.9"/>
<path d="M356.3,305.57L360.45,309.72L356.3,313.87L352.15,309.72Z" fill="none" stroke="#7E3FA0" stroke-width="1.9"/>
<path d="M406.75,301.19L410.9,305.34L406.75,309.49L402.6,305.34Z" fill="none" stroke="#7E3FA0" stroke-width="1.9"/>
<path d="M457.2,300.04L461.35,304.19L457.2,308.34L453.05,304.19Z" fill="none" stroke="#7E3FA0" stroke-width="1.9"/>
<path d="M507.65,297.18L511.8,301.33L507.65,305.48L503.5,301.33Z" fill="none" stroke="#7E3FA0" stroke-width="1.9"/>
<path d="M154.5,484.5 L157.53,484.4 L160.56,484.18 L163.6,483.87 L166.63,483.48 L169.66,483.03 L172.69,482.5 L175.72,481.92 L178.76,481.29 L181.79,480.6 L184.82,479.86 L187.85,479.08 L190.88,478.26 L193.92,477.39 L196.95,476.49 L199.98,475.55 L203.01,474.57 L206.04,473.57 L209.07,472.53 L212.11,471.47 L215.14,470.38 L218.17,469.26 L221.2,468.12 L224.23,466.96 L227.27,465.78 L230.3,464.58 L233.33,463.37 L236.36,462.14 L239.39,460.89 L242.43,459.63 L245.46,458.36 L248.49,457.08 L251.52,455.79 L254.55,454.49 L257.59,453.18 L260.62,451.86 L263.65,450.54 L266.68,449.22 L269.71,447.89 L272.75,446.56 L275.78,445.22 L278.81,443.89 L281.84,442.55 L284.87,441.21 L287.91,439.87 L290.94,438.54 L293.97,437.21 L297,435.88 L300.03,434.55 L303.06,433.22 L306.1,431.9 L309.13,430.59 L312.16,429.28 L315.19,427.97 L318.22,426.67 L321.26,425.38 L324.29,424.09 L327.32,422.81 L330.35,421.53 L333.38,420.27 L336.42,419.01 L339.45,417.76 L342.48,416.51 L345.51,415.28 L348.54,414.05 L351.58,412.84 L354.61,411.63 L357.64,410.43 L360.67,409.24 L363.7,408.06 L366.74,406.89 L369.77,405.72 L372.8,404.57 L375.83,403.43 L378.86,402.3 L381.89,401.17 L384.93,400.06 L387.96,398.96 L390.99,397.86 L394.02,396.78 L397.05,395.7 L400.09,394.64 L403.12,393.59 L406.15,392.54 L409.18,391.51 L412.21,390.49 L415.25,389.47 L418.28,388.47 L421.31,387.48 L424.34,386.49 L427.37,385.52 L430.41,384.56 L433.44,383.6 L436.47,382.66 L439.5,381.72 L442.53,380.8 L445.57,379.88 L448.6,378.98 L451.63,378.08 L454.66,377.19 L457.69,376.32 L460.73,375.45 L463.76,374.59 L466.79,373.74 L469.82,372.9 L472.85,372.06 L475.88,371.24 L478.92,370.43 L481.95,369.62 L484.98,368.82 L488.01,368.04 L491.04,367.26 L494.08,366.48 L497.11,365.72 L500.14,364.97 L503.17,364.22 L506.2,363.48 L509.24,362.75 L512.27,362.03 L515.3,361.31" fill="none" stroke="#000000" stroke-width="2" stroke-linejoin="round"/>
<path d="M154.5,484.5 L157.53,484.39 L160.56,484.13 L163.6,483.74 L166.63,483.24 L169.66,482.62 L172.69,481.91 L175.72,481.11 L178.76,480.22 L181.79,479.25 L184.82,478.2 L187.85,477.07 L190.88,475.88 L193.92,474.63 L196.95,473.31 L199.98,471.94 L203.01,470.52 L206.04,469.05 L209.07,467.54 L212.11,465.98 L215.14,464.39 L218.17,462.77 L221.2,461.11 L224.23,459.43 L227.27,457.72 L230.3,455.99 L233.33,454.25 L236.36,452.48 L239.39,450.71 L242.43,448.92 L245.46,447.12 L248.49,445.32 L251.52,443.51 L254.55,441.7 L257.59,439.89 L260.62,438.08 L263.65,436.28 L266.68,434.47 L269.71,432.68 L272.75,430.89 L275.78,429.11 L278.81,427.34 L281.84,425.58 L284.87,423.83 L287.91,422.09 L290.94,420.37 L293.97,418.66 L297,416.97 L300.03,415.29 L303.06,413.63 L306.1,411.99 L309.13,410.36 L312.16,408.75 L315.19,407.16 L318.22,405.59 L321.26,404.03 L324.29,402.49 L327.32,400.98 L330.35,399.48 L333.38,398 L336.42,396.54 L339.45,395.1 L342.48,393.68 L345.51,392.28 L348.54,390.9 L351.58,389.54 L354.61,388.19 L357.64,386.87 L360.67,385.57 L363.7,384.28 L366.74,383.01 L369.77,381.77 L372.8,380.54 L375.83,379.33 L378.86,378.14 L381.89,376.96 L384.93,375.81 L387.96,374.67 L390.99,373.55 L394.02,372.44 L397.05,371.36 L400.09,370.29 L403.12,369.24 L406.15,368.2 L409.18,367.18 L412.21,366.18 L415.25,365.19 L418.28,364.22 L421.31,363.26 L424.34,362.32 L427.37,361.39 L430.41,360.48 L433.44,359.58 L436.47,358.7 L439.5,357.83 L442.53,356.98 L445.57,356.13 L448.6,355.31 L451.63,354.49 L454.66,353.69 L457.69,352.9 L460.73,352.12 L463.76,351.35 L466.79,350.6 L469.82,349.86 L472.85,349.13 L475.88,348.41 L478.92,347.7 L481.95,347.01 L484.98,346.32 L488.01,345.65 L491.04,344.99 L494.08,344.33 L497.11,343.69 L500.14,343.05 L503.17,342.43 L506.2,341.82 L509.24,341.21 L512.27,340.62 L515.3,340.03" fill="none" stroke="#FF6000" stroke-width="2" stroke-linejoin="round"/>
<path d="M154.5,484.5 L157.53,484.36 L160.56,484.02 L163.6,483.53 L166.63,482.9 L169.66,482.14 L172.69,481.27 L175.72,480.29 L178.76,479.2 L181.79,478.03 L184.82,476.76 L187.85,475.42 L190.88,474 L193.92,472.51 L196.95,470.96 L199.98,469.35 L203.01,467.69 L206.04,465.98 L209.07,464.22 L212.11,462.43 L215.14,460.6 L218.17,458.74 L221.2,456.85 L224.23,454.94 L227.27,453.01 L230.3,451.07 L233.33,449.11 L236.36,447.14 L239.39,445.17 L242.43,443.19 L245.46,441.21 L248.49,439.23 L251.52,437.25 L254.55,435.28 L257.59,433.31 L260.62,431.36 L263.65,429.41 L266.68,427.47 L269.71,425.55 L272.75,423.65 L275.78,421.76 L278.81,419.88 L281.84,418.02 L284.87,416.19 L287.91,414.37 L290.94,412.57 L293.97,410.79 L297,409.03 L300.03,407.3 L303.06,405.58 L306.1,403.89 L309.13,402.22 L312.16,400.57 L315.19,398.95 L318.22,397.35 L321.26,395.77 L324.29,394.22 L327.32,392.69 L330.35,391.18 L333.38,389.69 L336.42,388.23 L339.45,386.79 L342.48,385.38 L345.51,383.98 L348.54,382.61 L351.58,381.26 L354.61,379.94 L357.64,378.63 L360.67,377.35 L363.7,376.09 L366.74,374.85 L369.77,373.63 L372.8,372.43 L375.83,371.25 L378.86,370.09 L381.89,368.95 L384.93,367.83 L387.96,366.73 L390.99,365.64 L394.02,364.58 L397.05,363.54 L400.09,362.51 L403.12,361.5 L406.15,360.51 L409.18,359.53 L412.21,358.57 L415.25,357.63 L418.28,356.7 L421.31,355.79 L424.34,354.9 L427.37,354.02 L430.41,353.15 L433.44,352.3 L436.47,351.47 L439.5,350.65 L442.53,349.84 L445.57,349.05 L448.6,348.27 L451.63,347.5 L454.66,346.75 L457.69,346.01 L460.73,345.28 L463.76,344.56 L466.79,343.86 L469.82,343.17 L472.85,342.49 L475.88,341.82 L478.92,341.16 L481.95,340.51 L484.98,339.87 L488.01,339.25 L491.04,338.63 L494.08,338.02 L497.11,337.43 L500.14,336.84 L503.17,336.26 L506.2,335.69 L509.24,335.13 L512.27,334.58 L515.3,334.04" fill="none" stroke="#E0168C" stroke-width="2" stroke-linejoin="round"/>
<path d="M154.5,484.5 L157.53,483.56 L160.56,481.37 L163.6,478.24 L166.63,474.34 L169.66,469.84 L172.69,464.88 L175.72,459.57 L178.76,454.02 L181.79,448.33 L184.82,442.58 L187.85,436.83 L190.88,431.13 L193.92,425.54 L196.95,420.07 L199.98,414.77 L203.01,409.64 L206.04,404.7 L209.07,399.96 L212.11,395.42 L215.14,391.08 L218.17,386.94 L221.2,382.99 L224.23,379.23 L227.27,375.66 L230.3,372.26 L233.33,369.03 L236.36,365.97 L239.39,363.06 L242.43,360.29 L245.46,357.67 L248.49,355.17 L251.52,352.81 L254.55,350.55 L257.59,348.41 L260.62,346.38 L263.65,344.44 L266.68,342.6 L269.71,340.85 L272.75,339.18 L275.78,337.59 L278.81,336.07 L281.84,334.62 L284.87,333.24 L287.91,331.92 L290.94,330.66 L293.97,329.45 L297,328.3 L300.03,327.2 L303.06,326.14 L306.1,325.13 L309.13,324.17 L312.16,323.24 L315.19,322.35 L318.22,321.49 L321.26,320.67 L324.29,319.88 L327.32,319.13 L330.35,318.4 L333.38,317.7 L336.42,317.03 L339.45,316.38 L342.48,315.75 L345.51,315.15 L348.54,314.57 L351.58,314.01 L354.61,313.47 L357.64,312.95 L360.67,312.45 L363.7,311.96 L366.74,311.49 L369.77,311.04 L372.8,310.6 L375.83,310.18 L378.86,309.77 L381.89,309.37 L384.93,308.98 L387.96,308.61 L390.99,308.25 L394.02,307.9 L397.05,307.56 L400.09,307.23 L403.12,306.91 L406.15,306.6 L409.18,306.3 L412.21,306.01 L415.25,305.73 L418.28,305.45 L421.31,305.18 L424.34,304.92 L427.37,304.67 L430.41,304.42 L433.44,304.19 L436.47,303.95 L439.5,303.73 L442.53,303.51 L445.57,303.29 L448.6,303.08 L451.63,302.88 L454.66,302.68 L457.69,302.48 L460.73,302.3 L463.76,302.11 L466.79,301.93 L469.82,301.76 L472.85,301.59 L475.88,301.42 L478.92,301.26 L481.95,301.1 L484.98,300.94 L488.01,300.79 L491.04,300.64 L494.08,300.5 L497.11,300.36 L500.14,300.22 L503.17,300.08 L506.2,299.95 L509.24,299.82 L512.27,299.7 L515.3,299.57" fill="none" stroke="#8CB21C" stroke-width="2" stroke-linejoin="round"/>
<path d="M154.5,484.5 L157.53,483.8 L160.56,482.06 L163.6,479.46 L166.63,476.13 L169.66,472.2 L172.69,467.78 L175.72,462.96 L178.76,457.85 L181.79,452.53 L184.82,447.08 L187.85,441.57 L190.88,436.06 L193.92,430.59 L196.95,425.2 L199.98,419.93 L203.01,414.79 L206.04,409.82 L209.07,405.01 L212.11,400.39 L215.14,395.95 L218.17,391.69 L221.2,387.63 L224.23,383.74 L227.27,380.04 L230.3,376.51 L233.33,373.15 L236.36,369.95 L239.39,366.91 L242.43,364.02 L245.46,361.27 L248.49,358.65 L251.52,356.17 L254.55,353.81 L257.59,351.56 L260.62,349.42 L263.65,347.39 L266.68,345.45 L269.71,343.61 L272.75,341.86 L275.78,340.18 L278.81,338.59 L281.84,337.07 L284.87,335.62 L287.91,334.24 L290.94,332.91 L293.97,331.65 L297,330.45 L300.03,329.29 L303.06,328.19 L306.1,327.13 L309.13,326.12 L312.16,325.15 L315.19,324.22 L318.22,323.33 L321.26,322.48 L324.29,321.65 L327.32,320.87 L330.35,320.11 L333.38,319.38 L336.42,318.68 L339.45,318.01 L342.48,317.36 L345.51,316.74 L348.54,316.14 L351.58,315.56 L354.61,315 L357.64,314.46 L360.67,313.94 L363.7,313.44 L366.74,312.96 L369.77,312.49 L372.8,312.04 L375.83,311.61 L378.86,311.18 L381.89,310.78 L384.93,310.38 L387.96,310 L390.99,309.63 L394.02,309.27 L397.05,308.92 L400.09,308.59 L403.12,308.26 L406.15,307.95 L409.18,307.64 L412.21,307.34 L415.25,307.05 L418.28,306.77 L421.31,306.5 L424.34,306.24 L427.37,305.98 L430.41,305.73 L433.44,305.49 L436.47,305.25 L439.5,305.02 L442.53,304.8 L445.57,304.58 L448.6,304.37 L451.63,304.16 L454.66,303.96 L457.69,303.77 L460.73,303.58 L463.76,303.39 L466.79,303.21 L469.82,303.04 L472.85,302.86 L475.88,302.7 L478.92,302.53 L481.95,302.37 L484.98,302.22 L488.01,302.07 L491.04,301.92 L494.08,301.77 L497.11,301.63 L500.14,301.49 L503.17,301.36 L506.2,301.23 L509.24,301.1 L512.27,300.97 L515.3,300.85" fill="none" stroke="#1F6E63" stroke-width="2" stroke-linejoin="round"/>
<path d="M154.5,484.5 L157.53,483.93 L160.56,482.67 L163.6,480.88 L166.63,478.67 L169.66,476.1 L172.69,473.22 L175.72,470.1 L178.76,466.76 L181.79,463.26 L184.82,459.63 L187.85,455.9 L190.88,452.11 L193.92,448.27 L196.95,444.41 L199.98,440.55 L203.01,436.71 L206.04,432.9 L209.07,429.13 L212.11,425.43 L215.14,421.78 L218.17,418.21 L221.2,414.72 L224.23,411.31 L227.27,407.98 L230.3,404.74 L233.33,401.59 L236.36,398.53 L239.39,395.56 L242.43,392.68 L245.46,389.89 L248.49,387.19 L251.52,384.57 L254.55,382.03 L257.59,379.58 L260.62,377.21 L263.65,374.92 L266.68,372.7 L269.71,370.56 L272.75,368.49 L275.78,366.49 L278.81,364.56 L281.84,362.69 L284.87,360.88 L287.91,359.14 L290.94,357.45 L293.97,355.82 L297,354.25 L300.03,352.72 L303.06,351.25 L306.1,349.82 L309.13,348.44 L312.16,347.11 L315.19,345.82 L318.22,344.57 L321.26,343.35 L324.29,342.18 L327.32,341.05 L330.35,339.95 L333.38,338.88 L336.42,337.85 L339.45,336.85 L342.48,335.88 L345.51,334.94 L348.54,334.03 L351.58,333.14 L354.61,332.28 L357.64,331.45 L360.67,330.64 L363.7,329.85 L366.74,329.09 L369.77,328.34 L372.8,327.62 L375.83,326.92 L378.86,326.24 L381.89,325.58 L384.93,324.93 L387.96,324.31 L390.99,323.7 L394.02,323.1 L397.05,322.52 L400.09,321.96 L403.12,321.41 L406.15,320.88 L409.18,320.36 L412.21,319.85 L415.25,319.36 L418.28,318.88 L421.31,318.41 L424.34,317.95 L427.37,317.5 L430.41,317.07 L433.44,316.64 L436.47,316.23 L439.5,315.82 L442.53,315.43 L445.57,315.04 L448.6,314.66 L451.63,314.3 L454.66,313.94 L457.69,313.58 L460.73,313.24 L463.76,312.9 L466.79,312.58 L469.82,312.25 L472.85,311.94 L475.88,311.63 L478.92,311.33 L481.95,311.04 L484.98,310.75 L488.01,310.47 L491.04,310.19 L494.08,309.92 L497.11,309.66 L500.14,309.4 L503.17,309.15 L506.2,308.9 L509.24,308.65 L512.27,308.42 L515.3,308.18" fill="none" stroke="#1A8CF0" stroke-width="2" stroke-linejoin="round"/>
<path d="M154.5,484.5 L157.53,477.69 L160.56,465.45 L163.6,451.27 L166.63,436.84 L169.66,423.09 L172.69,410.45 L175.72,399.07 L178.76,388.94 L181.79,379.98 L184.82,372.09 L187.85,365.13 L190.88,359 L193.92,353.57 L196.95,348.76 L199.98,344.49 L203.01,340.68 L206.04,337.27 L209.07,334.21 L212.11,331.45 L215.14,328.97 L218.17,326.71 L221.2,324.66 L224.23,322.8 L227.27,321.09 L230.3,319.53 L233.33,318.09 L236.36,316.77 L239.39,315.56 L242.43,314.43 L245.46,313.39 L248.49,312.42 L251.52,311.52 L254.55,310.68 L257.59,309.89 L260.62,309.16 L263.65,308.47 L266.68,307.83 L269.71,307.23 L272.75,306.66 L275.78,306.12 L278.81,305.62 L281.84,305.14 L284.87,304.69 L287.91,304.26 L290.94,303.86 L293.97,303.48 L297,303.11 L300.03,302.77 L303.06,302.44 L306.1,302.13 L309.13,301.83 L312.16,301.55 L315.19,301.28 L318.22,301.02 L321.26,300.77 L324.29,300.53 L327.32,300.3 L330.35,300.09 L333.38,299.88 L336.42,299.68 L339.45,299.49 L342.48,299.3 L345.51,299.13 L348.54,298.96 L351.58,298.79 L354.61,298.63 L357.64,298.48 L360.67,298.34 L363.7,298.2 L366.74,298.06 L369.77,297.93 L372.8,297.8 L375.83,297.68 L378.86,297.56 L381.89,297.45 L384.93,297.33 L387.96,297.23 L390.99,297.12 L394.02,297.02 L397.05,296.93 L400.09,296.83 L403.12,296.74 L406.15,296.65 L409.18,296.56 L412.21,296.48 L415.25,296.4 L418.28,296.32 L421.31,296.24 L424.34,296.17 L427.37,296.1 L430.41,296.03 L433.44,295.96 L436.47,295.89 L439.5,295.83 L442.53,295.76 L445.57,295.7 L448.6,295.64 L451.63,295.58 L454.66,295.53 L457.69,295.47 L460.73,295.42 L463.76,295.37 L466.79,295.31 L469.82,295.26 L472.85,295.22 L475.88,295.17 L478.92,295.12 L481.95,295.08 L484.98,295.03 L488.01,294.99 L491.04,294.94 L494.08,294.9 L497.11,294.86 L500.14,294.82 L503.17,294.78 L506.2,294.75 L509.24,294.71 L512.27,294.67 L515.3,294.64" fill="none" stroke="#2A2883" stroke-width="2" stroke-linejoin="round"/>
<path d="M154.5,484.5 L157.53,484.12 L160.56,482.96 L163.6,481 L166.63,478.29 L169.66,474.88 L172.69,470.85 L175.72,466.28 L178.76,461.26 L181.79,455.89 L184.82,450.26 L187.85,444.45 L190.88,438.54 L193.92,432.61 L196.95,426.71 L199.98,420.89 L203.01,415.19 L206.04,409.66 L209.07,404.3 L212.11,399.14 L215.14,394.2 L218.17,389.47 L221.2,384.96 L224.23,380.67 L227.27,376.6 L230.3,372.74 L233.33,369.09 L236.36,365.63 L239.39,362.36 L242.43,359.27 L245.46,356.35 L248.49,353.59 L251.52,350.99 L254.55,348.53 L257.59,346.21 L260.62,344.02 L263.65,341.94 L266.68,339.98 L269.71,338.13 L272.75,336.38 L275.78,334.72 L278.81,333.15 L281.84,331.66 L284.87,330.25 L287.91,328.91 L290.94,327.64 L293.97,326.44 L297,325.29 L300.03,324.2 L303.06,323.17 L306.1,322.18 L309.13,321.25 L312.16,320.35 L315.19,319.5 L318.22,318.69 L321.26,317.91 L324.29,317.17 L327.32,316.47 L330.35,315.79 L333.38,315.14 L336.42,314.52 L339.45,313.93 L342.48,313.37 L345.51,312.82 L348.54,312.3 L351.58,311.8 L354.61,311.32 L357.64,310.86 L360.67,310.42 L363.7,309.99 L366.74,309.59 L369.77,309.19 L372.8,308.81 L375.83,308.45 L378.86,308.1 L381.89,307.76 L384.93,307.44 L387.96,307.12 L390.99,306.82 L394.02,306.53 L397.05,306.24 L400.09,305.97 L403.12,305.71 L406.15,305.45 L409.18,305.21 L412.21,304.97 L415.25,304.74 L418.28,304.52 L421.31,304.3 L424.34,304.09 L427.37,303.89 L430.41,303.7 L433.44,303.51 L436.47,303.32 L439.5,303.14 L442.53,302.97 L445.57,302.8 L448.6,302.64 L451.63,302.48 L454.66,302.33 L457.69,302.18 L460.73,302.04 L463.76,301.89 L466.79,301.76 L469.82,301.62 L472.85,301.49 L475.88,301.37 L478.92,301.25 L481.95,301.13 L484.98,301.01 L488.01,300.9 L491.04,300.79 L494.08,300.68 L497.11,300.58 L500.14,300.47 L503.17,300.37 L506.2,300.28 L509.24,300.18 L512.27,300.09 L515.3,300" fill="none" stroke="#7E3FA0" stroke-width="2" stroke-linejoin="round"/>
<circle cx="547.2" cy="321.3" r="4.8" fill="#000000"/>
<text x="570.2" y="326.7" font-size="16.2" class="k">atp−1</text>
<rect x="542.3" y="342.1" width="9.8" height="9.8" fill="#FF6000"/>
<text x="570.2" y="352.4" font-size="16.2" class="k">atp−2</text>
<path d="M547.2,367.4L552.4,372.6L547.2,377.8L542,372.6Z" fill="#E0168C"/>
<text x="570.2" y="378" font-size="16.2" class="k">atp−3</text>
<path d="M547.2,392.5L553.2,403.2L541.2,403.2Z" fill="#8CB21C"/>
<text x="570.2" y="403.6" font-size="16.2" class="k">atp−4</text>
<path d="M547.2,428.7L553.2,418L541.2,418Z" fill="#1F6E63"/>
<text x="570.2" y="428.4" font-size="16.2" class="k">atp−5</text>
<circle cx="547.2" cy="448.3" r="3.9" fill="none" stroke="#1A8CF0" stroke-width="1.9"/>
<text x="570.2" y="453.7" font-size="16.2" class="k">atp−6</text>
<rect x="543.3" y="469" width="7.8" height="7.8" fill="none" stroke="#2A2883" stroke-width="1.9"/>
<text x="570.2" y="478.3" font-size="16.2" class="k">atp−7</text>
<path d="M547.2,494.35L551.35,498.5L547.2,502.65L543.05,498.5Z" fill="none" stroke="#7E3FA0" stroke-width="1.9"/>
<text x="570.2" y="503.9" font-size="16.2" class="k">atp−8</text>
</svg></body></html>
